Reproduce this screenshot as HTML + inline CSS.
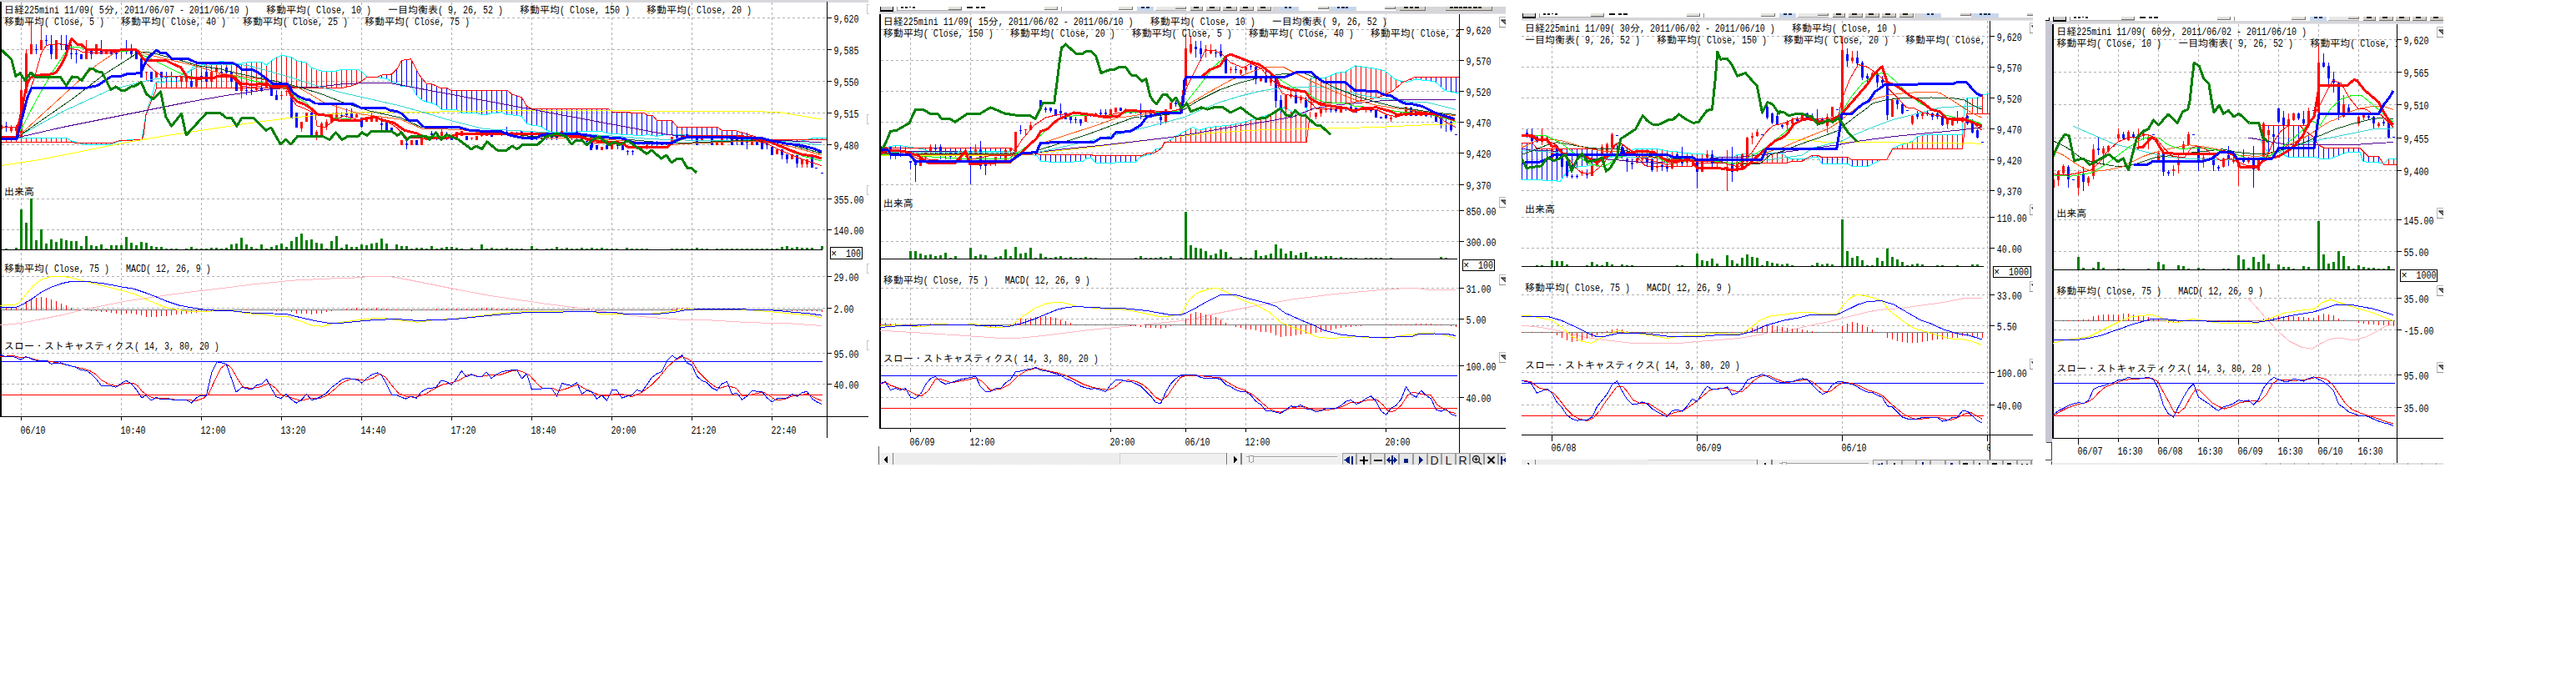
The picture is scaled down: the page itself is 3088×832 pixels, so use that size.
<!DOCTYPE html>
<html lang="ja"><head><meta charset="utf-8"><title>日経225mini charts</title>
<style>
html,body{margin:0;padding:0;background:#fff}
body{width:3088px;height:832px;overflow:hidden}
svg{display:block}
text{font-family:"Liberation Mono","IPAGothic",monospace;font-size:12px;white-space:pre}
.j{font-family:"Liberation Mono","IPAGothic",monospace;font-size:12px}
.l{font-family:"Liberation Mono","IPAGothic",monospace;font-size:13px}
</style></head><body>
<svg width="3088" height="832" viewBox="0 0 3088 832" shape-rendering="crispEdges">
<rect x="0" y="0" width="3088" height="832" fill="#fff"/>
<rect x="0" y="0" width="1041" height="3" fill="#d8d8dc" />
<line x1="25.5" y1="3" x2="25.5" y2="499" stroke="#b0b0b0" stroke-width="1" stroke-dasharray="3,3"/>
<line x1="145.5" y1="3" x2="145.5" y2="499" stroke="#b0b0b0" stroke-width="1" stroke-dasharray="3,3"/>
<line x1="241.5" y1="3" x2="241.5" y2="499" stroke="#b0b0b0" stroke-width="1" stroke-dasharray="3,3"/>
<line x1="337.5" y1="3" x2="337.5" y2="499" stroke="#b0b0b0" stroke-width="1" stroke-dasharray="3,3"/>
<line x1="433.5" y1="3" x2="433.5" y2="499" stroke="#b0b0b0" stroke-width="1" stroke-dasharray="3,3"/>
<line x1="541.5" y1="3" x2="541.5" y2="499" stroke="#b0b0b0" stroke-width="1" stroke-dasharray="3,3"/>
<line x1="637.5" y1="3" x2="637.5" y2="499" stroke="#b0b0b0" stroke-width="1" stroke-dasharray="3,3"/>
<line x1="733.5" y1="3" x2="733.5" y2="499" stroke="#b0b0b0" stroke-width="1" stroke-dasharray="3,3"/>
<line x1="829.5" y1="3" x2="829.5" y2="499" stroke="#b0b0b0" stroke-width="1" stroke-dasharray="3,3"/>
<line x1="925.5" y1="3" x2="925.5" y2="499" stroke="#b0b0b0" stroke-width="1" stroke-dasharray="3,3"/>
<line x1="2" y1="21.5" x2="991" y2="21.5" stroke="#b0b0b0" stroke-width="1" stroke-dasharray="3,3"/>
<line x1="2" y1="59.5" x2="991" y2="59.5" stroke="#b0b0b0" stroke-width="1" stroke-dasharray="3,3"/>
<line x1="2" y1="97.5" x2="991" y2="97.5" stroke="#b0b0b0" stroke-width="1" stroke-dasharray="3,3"/>
<line x1="2" y1="135.5" x2="991" y2="135.5" stroke="#b0b0b0" stroke-width="1" stroke-dasharray="3,3"/>
<line x1="2" y1="173.5" x2="991" y2="173.5" stroke="#b0b0b0" stroke-width="1" stroke-dasharray="3,3"/>
<line x1="2" y1="238.5" x2="991" y2="238.5" stroke="#b0b0b0" stroke-width="1" stroke-dasharray="3,3"/>
<line x1="2" y1="275.5" x2="991" y2="275.5" stroke="#b0b0b0" stroke-width="1" stroke-dasharray="3,3"/>
<line x1="2" y1="331.5" x2="991" y2="331.5" stroke="#b0b0b0" stroke-width="1" stroke-dasharray="3,3"/>
<line x1="2" y1="369.5" x2="991" y2="369.5" stroke="#b0b0b0" stroke-width="1" stroke-dasharray="3,3"/>
<line x1="2" y1="423.5" x2="991" y2="423.5" stroke="#b0b0b0" stroke-width="1" stroke-dasharray="3,3"/>
<line x1="2" y1="460.5" x2="991" y2="460.5" stroke="#b0b0b0" stroke-width="1" stroke-dasharray="3,3"/>
<line x1="1.5" y1="165.5" x2="1.5" y2="170.8" stroke="#ff0000" stroke-width="1" />
<line x1="7.5" y1="165.5" x2="7.5" y2="170.8" stroke="#ff0000" stroke-width="1" />
<line x1="13.5" y1="165.5" x2="13.5" y2="170.8" stroke="#ff0000" stroke-width="1" />
<line x1="19.5" y1="165.5" x2="19.5" y2="170.8" stroke="#ff0000" stroke-width="1" />
<line x1="25.5" y1="165.5" x2="25.5" y2="170.8" stroke="#ff0000" stroke-width="1" />
<line x1="31.5" y1="165.5" x2="31.5" y2="170.8" stroke="#ff0000" stroke-width="1" />
<line x1="37.5" y1="165.5" x2="37.5" y2="170.8" stroke="#ff0000" stroke-width="1" />
<line x1="43.5" y1="165.5" x2="43.5" y2="170.8" stroke="#ff0000" stroke-width="1" />
<line x1="49.5" y1="165.5" x2="49.5" y2="170.8" stroke="#ff0000" stroke-width="1" />
<line x1="55.5" y1="165.5" x2="55.5" y2="170.8" stroke="#ff0000" stroke-width="1" />
<line x1="61.5" y1="165.5" x2="61.5" y2="170.8" stroke="#ff0000" stroke-width="1" />
<line x1="67.5" y1="165.5" x2="67.5" y2="170.8" stroke="#ff0000" stroke-width="1" />
<line x1="73.5" y1="165.5" x2="73.5" y2="170.8" stroke="#ff0000" stroke-width="1" />
<line x1="79.5" y1="165.5" x2="79.5" y2="170.8" stroke="#ff0000" stroke-width="1" />
<line x1="85.5" y1="168.7" x2="85.5" y2="170.8" stroke="#ff0000" stroke-width="1" />
<line x1="103.5" y1="171.5" x2="103.5" y2="173.1" stroke="#0000ff" stroke-width="1" />
<line x1="109.5" y1="171.4" x2="109.5" y2="173.3" stroke="#0000ff" stroke-width="1" />
<line x1="115.5" y1="171.4" x2="115.5" y2="173.5" stroke="#0000ff" stroke-width="1" />
<line x1="121.5" y1="171.3" x2="121.5" y2="173.7" stroke="#0000ff" stroke-width="1" />
<line x1="127.5" y1="171.3" x2="127.5" y2="173.9" stroke="#0000ff" stroke-width="1" />
<line x1="133.5" y1="171.3" x2="133.5" y2="172.6" stroke="#0000ff" stroke-width="1" />
<line x1="181.5" y1="116" x2="181.5" y2="121.1" stroke="#ff0000" stroke-width="1" />
<line x1="187.5" y1="98.2" x2="187.5" y2="106" stroke="#ff0000" stroke-width="1" />
<line x1="193.5" y1="98.1" x2="193.5" y2="105.2" stroke="#ff0000" stroke-width="1" />
<line x1="199.5" y1="98" x2="199.5" y2="105.2" stroke="#ff0000" stroke-width="1" />
<line x1="205.5" y1="97.8" x2="205.5" y2="105.2" stroke="#ff0000" stroke-width="1" />
<line x1="211.5" y1="97.7" x2="211.5" y2="105.2" stroke="#ff0000" stroke-width="1" />
<line x1="217.5" y1="94.7" x2="217.5" y2="105.2" stroke="#ff0000" stroke-width="1" />
<line x1="223.5" y1="89.3" x2="223.5" y2="105.2" stroke="#ff0000" stroke-width="1" />
<line x1="229.5" y1="82.4" x2="229.5" y2="105.2" stroke="#ff0000" stroke-width="1" />
<line x1="235.5" y1="79.3" x2="235.5" y2="105.2" stroke="#ff0000" stroke-width="1" />
<line x1="241.5" y1="78.1" x2="241.5" y2="105.2" stroke="#ff0000" stroke-width="1" />
<line x1="247.5" y1="76.9" x2="247.5" y2="105.2" stroke="#ff0000" stroke-width="1" />
<line x1="253.5" y1="75.7" x2="253.5" y2="105.2" stroke="#ff0000" stroke-width="1" />
<line x1="259.5" y1="74.5" x2="259.5" y2="105.2" stroke="#ff0000" stroke-width="1" />
<line x1="265.5" y1="73.8" x2="265.5" y2="105.2" stroke="#ff0000" stroke-width="1" />
<line x1="271.5" y1="74.5" x2="271.5" y2="105.2" stroke="#ff0000" stroke-width="1" />
<line x1="277.5" y1="75.5" x2="277.5" y2="105.2" stroke="#ff0000" stroke-width="1" />
<line x1="283.5" y1="76.6" x2="283.5" y2="105.2" stroke="#ff0000" stroke-width="1" />
<line x1="289.5" y1="76.2" x2="289.5" y2="105.2" stroke="#ff0000" stroke-width="1" />
<line x1="295.5" y1="75.1" x2="295.5" y2="105.2" stroke="#ff0000" stroke-width="1" />
<line x1="301.5" y1="74.5" x2="301.5" y2="105.2" stroke="#ff0000" stroke-width="1" />
<line x1="307.5" y1="74.4" x2="307.5" y2="105.2" stroke="#ff0000" stroke-width="1" />
<line x1="313.5" y1="74.4" x2="313.5" y2="105.2" stroke="#ff0000" stroke-width="1" />
<line x1="319.5" y1="77.9" x2="319.5" y2="105.2" stroke="#ff0000" stroke-width="1" />
<line x1="325.5" y1="72.5" x2="325.5" y2="105.2" stroke="#ff0000" stroke-width="1" />
<line x1="331.5" y1="68.9" x2="331.5" y2="105.2" stroke="#ff0000" stroke-width="1" />
<line x1="337.5" y1="66.5" x2="337.5" y2="105.2" stroke="#ff0000" stroke-width="1" />
<line x1="343.5" y1="67.4" x2="343.5" y2="105.2" stroke="#ff0000" stroke-width="1" />
<line x1="349.5" y1="68.7" x2="349.5" y2="105.2" stroke="#ff0000" stroke-width="1" />
<line x1="355.5" y1="72.5" x2="355.5" y2="105.2" stroke="#ff0000" stroke-width="1" />
<line x1="361.5" y1="73.9" x2="361.5" y2="105.2" stroke="#ff0000" stroke-width="1" />
<line x1="367.5" y1="75.8" x2="367.5" y2="105.2" stroke="#ff0000" stroke-width="1" />
<line x1="373.5" y1="81.5" x2="373.5" y2="105.2" stroke="#ff0000" stroke-width="1" />
<line x1="379.5" y1="83.3" x2="379.5" y2="105.2" stroke="#ff0000" stroke-width="1" />
<line x1="385.5" y1="85.1" x2="385.5" y2="105.2" stroke="#ff0000" stroke-width="1" />
<line x1="391.5" y1="85.1" x2="391.5" y2="105.2" stroke="#ff0000" stroke-width="1" />
<line x1="397.5" y1="85.1" x2="397.5" y2="105.2" stroke="#ff0000" stroke-width="1" />
<line x1="403.5" y1="85" x2="403.5" y2="105.2" stroke="#ff0000" stroke-width="1" />
<line x1="409.5" y1="83.2" x2="409.5" y2="105.2" stroke="#ff0000" stroke-width="1" />
<line x1="415.5" y1="83.2" x2="415.5" y2="104.2" stroke="#ff0000" stroke-width="1" />
<line x1="421.5" y1="83.2" x2="421.5" y2="103" stroke="#ff0000" stroke-width="1" />
<line x1="427.5" y1="83.2" x2="427.5" y2="100.5" stroke="#ff0000" stroke-width="1" />
<line x1="433.5" y1="85.8" x2="433.5" y2="97.4" stroke="#ff0000" stroke-width="1" />
<line x1="457.5" y1="90.1" x2="457.5" y2="93.4" stroke="#0000ff" stroke-width="1" />
<line x1="463.5" y1="89.5" x2="463.5" y2="94.3" stroke="#0000ff" stroke-width="1" />
<line x1="469.5" y1="88.9" x2="469.5" y2="98.4" stroke="#0000ff" stroke-width="1" />
<line x1="475.5" y1="83.2" x2="475.5" y2="99.8" stroke="#0000ff" stroke-width="1" />
<line x1="481.5" y1="72.5" x2="481.5" y2="103.2" stroke="#0000ff" stroke-width="1" />
<line x1="487.5" y1="71.5" x2="487.5" y2="103.4" stroke="#0000ff" stroke-width="1" />
<line x1="493.5" y1="72.6" x2="493.5" y2="103.5" stroke="#0000ff" stroke-width="1" />
<line x1="499.5" y1="84" x2="499.5" y2="114.5" stroke="#0000ff" stroke-width="1" />
<line x1="505.5" y1="93.4" x2="505.5" y2="119.7" stroke="#0000ff" stroke-width="1" />
<line x1="511.5" y1="100.3" x2="511.5" y2="122.4" stroke="#0000ff" stroke-width="1" />
<line x1="517.5" y1="100.6" x2="517.5" y2="123.6" stroke="#0000ff" stroke-width="1" />
<line x1="523.5" y1="103.3" x2="523.5" y2="126.2" stroke="#0000ff" stroke-width="1" />
<line x1="529.5" y1="105.7" x2="529.5" y2="131.4" stroke="#0000ff" stroke-width="1" />
<line x1="535.5" y1="105.7" x2="535.5" y2="131.4" stroke="#0000ff" stroke-width="1" />
<line x1="541.5" y1="108.6" x2="541.5" y2="131.4" stroke="#0000ff" stroke-width="1" />
<line x1="547.5" y1="108.6" x2="547.5" y2="131.4" stroke="#0000ff" stroke-width="1" />
<line x1="553.5" y1="108.6" x2="553.5" y2="135.4" stroke="#0000ff" stroke-width="1" />
<line x1="559.5" y1="108.6" x2="559.5" y2="135.4" stroke="#0000ff" stroke-width="1" />
<line x1="565.5" y1="108.6" x2="565.5" y2="135.4" stroke="#0000ff" stroke-width="1" />
<line x1="571.5" y1="108.6" x2="571.5" y2="135.4" stroke="#0000ff" stroke-width="1" />
<line x1="577.5" y1="108.6" x2="577.5" y2="137.5" stroke="#0000ff" stroke-width="1" />
<line x1="583.5" y1="108.6" x2="583.5" y2="137.6" stroke="#0000ff" stroke-width="1" />
<line x1="589.5" y1="108.6" x2="589.5" y2="135.7" stroke="#0000ff" stroke-width="1" />
<line x1="595.5" y1="108.6" x2="595.5" y2="135.1" stroke="#0000ff" stroke-width="1" />
<line x1="601.5" y1="108.6" x2="601.5" y2="134.7" stroke="#0000ff" stroke-width="1" />
<line x1="607.5" y1="108.6" x2="607.5" y2="137.4" stroke="#0000ff" stroke-width="1" />
<line x1="613.5" y1="112.7" x2="613.5" y2="137.8" stroke="#0000ff" stroke-width="1" />
<line x1="619.5" y1="114.9" x2="619.5" y2="138.3" stroke="#0000ff" stroke-width="1" />
<line x1="625.5" y1="116.9" x2="625.5" y2="139.7" stroke="#0000ff" stroke-width="1" />
<line x1="631.5" y1="127.3" x2="631.5" y2="148.1" stroke="#0000ff" stroke-width="1" />
<line x1="637.5" y1="130.4" x2="637.5" y2="150.2" stroke="#0000ff" stroke-width="1" />
<line x1="643.5" y1="130.4" x2="643.5" y2="150.6" stroke="#0000ff" stroke-width="1" />
<line x1="649.5" y1="130.4" x2="649.5" y2="152.2" stroke="#0000ff" stroke-width="1" />
<line x1="655.5" y1="130.4" x2="655.5" y2="156.4" stroke="#0000ff" stroke-width="1" />
<line x1="661.5" y1="130.4" x2="661.5" y2="158.2" stroke="#0000ff" stroke-width="1" />
<line x1="667.5" y1="130.4" x2="667.5" y2="158.5" stroke="#0000ff" stroke-width="1" />
<line x1="673.5" y1="130.4" x2="673.5" y2="158.6" stroke="#0000ff" stroke-width="1" />
<line x1="679.5" y1="130.4" x2="679.5" y2="158.8" stroke="#0000ff" stroke-width="1" />
<line x1="685.5" y1="130.4" x2="685.5" y2="158.9" stroke="#0000ff" stroke-width="1" />
<line x1="691.5" y1="130.4" x2="691.5" y2="157.8" stroke="#0000ff" stroke-width="1" />
<line x1="697.5" y1="130.4" x2="697.5" y2="157.7" stroke="#0000ff" stroke-width="1" />
<line x1="703.5" y1="130.4" x2="703.5" y2="157.7" stroke="#0000ff" stroke-width="1" />
<line x1="709.5" y1="130.4" x2="709.5" y2="157.7" stroke="#0000ff" stroke-width="1" />
<line x1="715.5" y1="130.4" x2="715.5" y2="157.7" stroke="#0000ff" stroke-width="1" />
<line x1="721.5" y1="130.4" x2="721.5" y2="157.7" stroke="#0000ff" stroke-width="1" />
<line x1="727.5" y1="130.4" x2="727.5" y2="159.5" stroke="#0000ff" stroke-width="1" />
<line x1="733.5" y1="133.4" x2="733.5" y2="160.5" stroke="#0000ff" stroke-width="1" />
<line x1="739.5" y1="134.9" x2="739.5" y2="160.8" stroke="#0000ff" stroke-width="1" />
<line x1="745.5" y1="134.9" x2="745.5" y2="161.2" stroke="#0000ff" stroke-width="1" />
<line x1="751.5" y1="135" x2="751.5" y2="161.6" stroke="#0000ff" stroke-width="1" />
<line x1="757.5" y1="135" x2="757.5" y2="162" stroke="#0000ff" stroke-width="1" />
<line x1="763.5" y1="135.1" x2="763.5" y2="162.3" stroke="#0000ff" stroke-width="1" />
<line x1="769.5" y1="135.1" x2="769.5" y2="162.7" stroke="#0000ff" stroke-width="1" />
<line x1="775.5" y1="137.8" x2="775.5" y2="161.5" stroke="#0000ff" stroke-width="1" />
<line x1="781.5" y1="138.2" x2="781.5" y2="162.4" stroke="#0000ff" stroke-width="1" />
<line x1="787.5" y1="144.3" x2="787.5" y2="163.2" stroke="#0000ff" stroke-width="1" />
<line x1="793.5" y1="144.5" x2="793.5" y2="162.1" stroke="#0000ff" stroke-width="1" />
<line x1="799.5" y1="144.5" x2="799.5" y2="161.6" stroke="#0000ff" stroke-width="1" />
<line x1="805.5" y1="145" x2="805.5" y2="161.5" stroke="#0000ff" stroke-width="1" />
<line x1="811.5" y1="151.4" x2="811.5" y2="161.6" stroke="#0000ff" stroke-width="1" />
<line x1="817.5" y1="152.5" x2="817.5" y2="161.7" stroke="#0000ff" stroke-width="1" />
<line x1="823.5" y1="152.5" x2="823.5" y2="161.7" stroke="#0000ff" stroke-width="1" />
<line x1="829.5" y1="152.5" x2="829.5" y2="162.2" stroke="#0000ff" stroke-width="1" />
<line x1="835.5" y1="152.5" x2="835.5" y2="162.7" stroke="#0000ff" stroke-width="1" />
<line x1="841.5" y1="152.5" x2="841.5" y2="163.2" stroke="#0000ff" stroke-width="1" />
<line x1="847.5" y1="152.5" x2="847.5" y2="163.8" stroke="#0000ff" stroke-width="1" />
<line x1="853.5" y1="152.5" x2="853.5" y2="164.3" stroke="#0000ff" stroke-width="1" />
<line x1="859.5" y1="152.5" x2="859.5" y2="164.9" stroke="#0000ff" stroke-width="1" />
<line x1="865.5" y1="156.3" x2="865.5" y2="165.4" stroke="#0000ff" stroke-width="1" />
<line x1="871.5" y1="156.4" x2="871.5" y2="165.9" stroke="#0000ff" stroke-width="1" />
<line x1="877.5" y1="156.6" x2="877.5" y2="166.4" stroke="#0000ff" stroke-width="1" />
<line x1="883.5" y1="157.1" x2="883.5" y2="166.7" stroke="#0000ff" stroke-width="1" />
<line x1="889.5" y1="158.9" x2="889.5" y2="167" stroke="#0000ff" stroke-width="1" />
<line x1="895.5" y1="160.8" x2="895.5" y2="167.3" stroke="#0000ff" stroke-width="1" />
<line x1="901.5" y1="162.6" x2="901.5" y2="167.6" stroke="#0000ff" stroke-width="1" />
<line x1="907.5" y1="164.5" x2="907.5" y2="167.9" stroke="#0000ff" stroke-width="1" />
<line x1="913.5" y1="165.5" x2="913.5" y2="168.2" stroke="#0000ff" stroke-width="1" />
<line x1="919.5" y1="166.6" x2="919.5" y2="168.5" stroke="#0000ff" stroke-width="1" />
<line x1="925.5" y1="167.5" x2="925.5" y2="168.8" stroke="#0000ff" stroke-width="1" />
<line x1="931.5" y1="167.5" x2="931.5" y2="169" stroke="#0000ff" stroke-width="1" />
<line x1="937.5" y1="167.6" x2="937.5" y2="169.2" stroke="#0000ff" stroke-width="1" />
<line x1="943.5" y1="167.6" x2="943.5" y2="169.5" stroke="#0000ff" stroke-width="1" />
<line x1="949.5" y1="167.7" x2="949.5" y2="169.7" stroke="#0000ff" stroke-width="1" />
<line x1="955.5" y1="167.7" x2="955.5" y2="169.9" stroke="#0000ff" stroke-width="1" />
<line x1="973.5" y1="165.9" x2="973.5" y2="167.9" stroke="#ff0000" stroke-width="1" />
<line x1="979.5" y1="165.4" x2="979.5" y2="167.9" stroke="#ff0000" stroke-width="1" />
<line x1="985.5" y1="165.2" x2="985.5" y2="168" stroke="#ff0000" stroke-width="1" />
<polyline points="0,165.5 80,165.5 86,169 100,173 130,174 140,170 155,167.5 170,167 175,137 186.9,98.3 213.9,97.6 220.2,92.6 225.2,87.6 231.4,80.1 262.8,73.8 267.8,73.8 285.3,76.9 295.4,75.1 301.6,74.4 314.2,74.4 319.2,78.2 325.5,72.6 331.7,68.8 338,66.3 349.3,68.6 355.5,72.6 366.8,75.1 373.1,81.3 379.4,83.2 385.6,85.1 403.2,85.1 409.4,83.2 428.2,83.2 434.5,86.3 439.5,92 452.1,92.6 464.6,94.5 470,98.8 478.8,100.5 480,103.2 493.8,103.5 499.4,114.4 505.1,119.5 511.3,122.3 517.6,123.6 523.9,126.3 529.5,131.4 547.7,131.4 553.3,135.4 571.5,135.4 577.8,137.6 583.4,137.6 589,135.8 601,134.5 607.2,137.4 619.1,138.3 625.4,139.5 631.7,148.3 637.3,150.2 642.9,150.4 649.2,152 655.5,156.4 661.7,158.3 686.8,158.9 691.8,157.7 721.9,157.7 727.6,159.6 733.2,160.4 769.5,162.7 775.8,161.4 787.1,163.3 793.4,162.1 802,161.4 825,161.8 875,166.2 925,168.8 957.5,170 975,165.5 991.2,165" fill="none" stroke="#00ffff" stroke-width="1" />
<polyline points="0,170.8 85,170.8 100,171.5 135,171.2 143,168.8 170,167.5 172.5,160 175,137.5 178,130 187.8,105.2 410.7,105.2 423.2,102.6 433.3,97.6 439.5,92.6 452.1,92.6 457.1,90.1 469.6,88.9 476.2,82.5 481.2,72.5 492.5,70.8 497.5,80 502.6,90 511.3,100.3 517.6,100.7 528.9,105.7 535.8,105.7 541.4,108.6 608.5,108.6 614.1,113.2 625.4,116.7 631.7,127.6 637.3,130.4 728.8,130.4 735.7,134.9 772.1,135.1 775.8,138 782.1,138.3 787.7,144.5 802,144.5 805,144.5 812.5,152.5 860,152.5 865,156.2 882.5,156.8 907.5,164.5 925,167.5 991.2,168" fill="none" stroke="#ff0000" stroke-width="1" />
<line x1="1.5" y1="146" x2="1.5" y2="160" stroke="#ff0000" stroke-width="1" />
<rect x="0" y="150" width="3" height="5" fill="#ff0000" />
<line x1="7.5" y1="146" x2="7.5" y2="158" stroke="#0000ff" stroke-width="1" />
<rect x="6" y="151" width="3" height="1.5" fill="#0000ff" />
<line x1="13.5" y1="150" x2="13.5" y2="159" stroke="#ff0000" stroke-width="1" />
<rect x="12" y="152" width="3" height="5" fill="#ff0000" />
<line x1="19.5" y1="150" x2="19.5" y2="159" stroke="#ff0000" stroke-width="1" />
<rect x="18" y="152" width="3" height="5" fill="#ff0000" />
<line x1="25.5" y1="86" x2="25.5" y2="165" stroke="#ff0000" stroke-width="1" />
<rect x="24" y="107.5" width="3" height="57.5" fill="#ff0000" />
<line x1="31.5" y1="59" x2="31.5" y2="112" stroke="#ff0000" stroke-width="1" />
<rect x="30" y="64" width="3" height="48" fill="#ff0000" />
<line x1="37.5" y1="25" x2="37.5" y2="64.5" stroke="#ff0000" stroke-width="1" />
<rect x="36" y="53.2" width="3" height="11.3" fill="#ff0000" />
<line x1="43.5" y1="53.2" x2="43.5" y2="64.5" stroke="#0000ff" stroke-width="1" />
<rect x="42" y="58.8" width="3" height="1.3" fill="#0000ff" />
<line x1="49.5" y1="31" x2="49.5" y2="59.7" stroke="#ff0000" stroke-width="1" />
<rect x="48" y="48.2" width="3" height="11.5" fill="#ff0000" />
<line x1="55.5" y1="42.2" x2="55.5" y2="54.4" stroke="#0000ff" stroke-width="1" />
<rect x="54" y="47.9" width="3" height="1.5" fill="#0000ff" />
<line x1="61.5" y1="42.2" x2="61.5" y2="70.7" stroke="#0000ff" stroke-width="1" />
<rect x="60" y="53.2" width="3" height="11.3" fill="#0000ff" />
<line x1="67.5" y1="48.2" x2="67.5" y2="70.7" stroke="#ff0000" stroke-width="1" />
<rect x="66" y="48.2" width="3" height="22.6" fill="#ff0000" />
<line x1="73.5" y1="42.2" x2="73.5" y2="59.5" stroke="#0000ff" stroke-width="1" />
<rect x="72" y="52.6" width="3" height="1.3" fill="#0000ff" />
<line x1="79.5" y1="42.2" x2="79.5" y2="64.5" stroke="#0000ff" stroke-width="1" />
<rect x="78" y="53.2" width="3" height="6.9" fill="#0000ff" />
<line x1="85.5" y1="53.2" x2="85.5" y2="70.7" stroke="#0000ff" stroke-width="1" />
<rect x="84" y="63.8" width="3" height="1.3" fill="#0000ff" />
<line x1="91.5" y1="59.5" x2="91.5" y2="75.8" stroke="#0000ff" stroke-width="1" />
<rect x="90" y="63.8" width="3" height="1.3" fill="#0000ff" />
<line x1="97.5" y1="64.5" x2="97.5" y2="70.7" stroke="#0000ff" stroke-width="1" />
<rect x="96" y="64.5" width="3" height="6.3" fill="#0000ff" />
<line x1="103.5" y1="48.2" x2="103.5" y2="70.7" stroke="#ff0000" stroke-width="1" />
<rect x="102" y="59.5" width="3" height="11.3" fill="#ff0000" />
<line x1="109.5" y1="59.5" x2="109.5" y2="70.7" stroke="#0000ff" stroke-width="1" />
<rect x="108" y="59.5" width="3" height="5.6" fill="#0000ff" />
<line x1="115.5" y1="53.2" x2="115.5" y2="64.5" stroke="#ff0000" stroke-width="1" />
<rect x="114" y="53.2" width="3" height="11.3" fill="#ff0000" />
<line x1="121.5" y1="48.2" x2="121.5" y2="64.5" stroke="#0000ff" stroke-width="1" />
<rect x="120" y="59.5" width="3" height="5" fill="#0000ff" />
<line x1="127.5" y1="59.5" x2="127.5" y2="64.5" stroke="#ff0000" stroke-width="1" />
<rect x="126" y="59.5" width="3" height="5" fill="#ff0000" />
<line x1="133.5" y1="59.5" x2="133.5" y2="64.5" stroke="#0000ff" stroke-width="1" />
<rect x="132" y="59.5" width="3" height="5" fill="#0000ff" />
<line x1="139.5" y1="59.5" x2="139.5" y2="70.7" stroke="#0000ff" stroke-width="1" />
<rect x="138" y="63.2" width="3" height="1.3" fill="#0000ff" />
<line x1="145.5" y1="59.5" x2="145.5" y2="70.7" stroke="#ff0000" stroke-width="1" />
<rect x="144" y="60.1" width="3" height="1.3" fill="#ff0000" />
<line x1="151.5" y1="48.2" x2="151.5" y2="64.5" stroke="#0000ff" stroke-width="1" />
<rect x="150" y="59.5" width="3" height="1.3" fill="#0000ff" />
<line x1="157.5" y1="53.2" x2="157.5" y2="68.9" stroke="#0000ff" stroke-width="1" />
<rect x="156" y="59.5" width="3" height="5" fill="#0000ff" />
<line x1="163.5" y1="59.5" x2="163.5" y2="70.7" stroke="#0000ff" stroke-width="1" />
<rect x="162" y="59.5" width="3" height="11.3" fill="#0000ff" />
<line x1="169.5" y1="64.5" x2="169.5" y2="92.7" stroke="#0000ff" stroke-width="1" />
<rect x="168" y="70.1" width="3" height="22.6" fill="#0000ff" />
<line x1="175.5" y1="86.4" x2="175.5" y2="97.1" stroke="#ff0000" stroke-width="1" />
<rect x="174" y="86.4" width="3" height="1" fill="#ff0000" />
<line x1="181.5" y1="86.4" x2="181.5" y2="97.7" stroke="#0000ff" stroke-width="1" />
<rect x="180" y="86.4" width="3" height="11.3" fill="#0000ff" />
<line x1="187.5" y1="86.4" x2="187.5" y2="92.7" stroke="#ff0000" stroke-width="1" />
<rect x="186" y="86.4" width="3" height="6.3" fill="#ff0000" />
<line x1="193.5" y1="86.4" x2="193.5" y2="97.7" stroke="#0000ff" stroke-width="1" />
<rect x="192" y="86.4" width="3" height="6.3" fill="#0000ff" />
<line x1="199.5" y1="86.4" x2="199.5" y2="97.7" stroke="#0000ff" stroke-width="1" />
<rect x="198" y="91.4" width="3" height="1.3" fill="#0000ff" />
<line x1="205.5" y1="86.4" x2="205.5" y2="97.7" stroke="#0000ff" stroke-width="1" />
<rect x="204" y="91.4" width="3" height="1.3" fill="#0000ff" />
<line x1="211.5" y1="92" x2="211.5" y2="97.7" stroke="#0000ff" stroke-width="1" />
<rect x="210" y="92" width="3" height="1" fill="#0000ff" />
<line x1="217.5" y1="92" x2="217.5" y2="97.7" stroke="#ff0000" stroke-width="1" />
<rect x="216" y="92" width="3" height="5.6" fill="#ff0000" />
<line x1="223.5" y1="92" x2="223.5" y2="97.7" stroke="#ff0000" stroke-width="1" />
<rect x="222" y="92" width="3" height="5.6" fill="#ff0000" />
<line x1="229.5" y1="86.4" x2="229.5" y2="104" stroke="#0000ff" stroke-width="1" />
<rect x="228" y="97.1" width="3" height="6.9" fill="#0000ff" />
<line x1="235.5" y1="75.8" x2="235.5" y2="104" stroke="#ff0000" stroke-width="1" />
<rect x="234" y="92" width="3" height="11.9" fill="#ff0000" />
<line x1="241.5" y1="86.4" x2="241.5" y2="97.7" stroke="#0000ff" stroke-width="1" />
<rect x="240" y="91.4" width="3" height="1.3" fill="#0000ff" />
<line x1="247.5" y1="80.1" x2="247.5" y2="97.7" stroke="#0000ff" stroke-width="1" />
<rect x="246" y="86.4" width="3" height="11.3" fill="#0000ff" />
<line x1="253.5" y1="82" x2="253.5" y2="97.7" stroke="#ff0000" stroke-width="1" />
<rect x="252" y="86.4" width="3" height="11.3" fill="#ff0000" />
<line x1="259.5" y1="81.4" x2="259.5" y2="87" stroke="#ff0000" stroke-width="1" />
<rect x="258" y="81.4" width="3" height="5.6" fill="#ff0000" />
<line x1="265.5" y1="81.4" x2="265.5" y2="90.2" stroke="#0000ff" stroke-width="1" />
<rect x="264" y="86.4" width="3" height="1.3" fill="#0000ff" />
<line x1="271.5" y1="79.5" x2="271.5" y2="92.7" stroke="#0000ff" stroke-width="1" />
<rect x="270" y="81.4" width="3" height="5.6" fill="#0000ff" />
<line x1="277.5" y1="86.4" x2="277.5" y2="97.7" stroke="#0000ff" stroke-width="1" />
<rect x="276" y="86.4" width="3" height="11.3" fill="#0000ff" />
<line x1="283.5" y1="97.1" x2="283.5" y2="109" stroke="#0000ff" stroke-width="1" />
<rect x="282" y="97.1" width="3" height="11.9" fill="#0000ff" />
<line x1="289.5" y1="100.2" x2="289.5" y2="117.7" stroke="#ff0000" stroke-width="1" />
<rect x="288" y="103.3" width="3" height="5.6" fill="#ff0000" />
<line x1="295.5" y1="102.7" x2="295.5" y2="114" stroke="#0000ff" stroke-width="1" />
<rect x="294" y="107.7" width="3" height="1.3" fill="#0000ff" />
<line x1="301.5" y1="104" x2="301.5" y2="114" stroke="#0000ff" stroke-width="1" />
<rect x="300" y="107.7" width="3" height="1.3" fill="#0000ff" />
<line x1="307.5" y1="104" x2="307.5" y2="110.2" stroke="#ff0000" stroke-width="1" />
<rect x="306" y="105.2" width="3" height="3.1" fill="#ff0000" />
<line x1="313.5" y1="102.7" x2="313.5" y2="110.2" stroke="#0000ff" stroke-width="1" />
<rect x="312" y="105.2" width="3" height="3.1" fill="#0000ff" />
<line x1="319.6" y1="95.8" x2="319.6" y2="104.5" stroke="#ff0000" stroke-width="1" />
<rect x="318.1" y="95.8" width="3" height="8.8" fill="#ff0000" />
<line x1="325.6" y1="99.5" x2="325.6" y2="114.6" stroke="#0000ff" stroke-width="1" />
<rect x="324.1" y="99.5" width="3" height="15" fill="#0000ff" />
<line x1="331.6" y1="107.7" x2="331.6" y2="119.6" stroke="#0000ff" stroke-width="1" />
<rect x="330.1" y="113.9" width="3" height="5.6" fill="#0000ff" />
<line x1="337.6" y1="108.9" x2="337.6" y2="119.6" stroke="#ff0000" stroke-width="1" />
<rect x="336.1" y="113.9" width="3" height="1.3" fill="#ff0000" />
<line x1="343.6" y1="107.7" x2="343.6" y2="115.2" stroke="#ff0000" stroke-width="1" />
<rect x="342.1" y="108.9" width="3" height="1.3" fill="#ff0000" />
<line x1="349.5" y1="107" x2="349.5" y2="142" stroke="#0000ff" stroke-width="1" />
<rect x="348" y="107" width="3" height="35" fill="#0000ff" />
<line x1="355.5" y1="135" x2="355.5" y2="152.5" stroke="#0000ff" stroke-width="1" />
<rect x="354" y="135" width="3" height="17.5" fill="#0000ff" />
<line x1="361.5" y1="146.2" x2="361.5" y2="157.5" stroke="#ff0000" stroke-width="1" />
<rect x="360" y="146.2" width="3" height="7.5" fill="#ff0000" />
<line x1="367.5" y1="135" x2="367.5" y2="146.2" stroke="#ff0000" stroke-width="1" />
<rect x="366" y="135" width="3" height="11.2" fill="#ff0000" />
<line x1="373.5" y1="135" x2="373.5" y2="162.5" stroke="#0000ff" stroke-width="1" />
<rect x="372" y="135" width="3" height="27.5" fill="#0000ff" />
<line x1="379.5" y1="156.2" x2="379.5" y2="167.5" stroke="#ff0000" stroke-width="1" />
<rect x="378" y="157.5" width="3" height="5" fill="#ff0000" />
<line x1="385.5" y1="146.2" x2="385.5" y2="165" stroke="#ff0000" stroke-width="1" />
<rect x="384" y="147.5" width="3" height="15" fill="#ff0000" />
<line x1="391.5" y1="142.5" x2="391.5" y2="156.2" stroke="#ff0000" stroke-width="1" />
<rect x="390" y="146.2" width="3" height="6.2" fill="#ff0000" />
<line x1="397.5" y1="136.2" x2="397.5" y2="147.5" stroke="#ff0000" stroke-width="1" />
<rect x="396" y="136.2" width="3" height="11.2" fill="#ff0000" />
<line x1="403.5" y1="123.8" x2="403.5" y2="142.5" stroke="#ff0000" stroke-width="1" />
<rect x="402" y="135" width="3" height="6.2" fill="#ff0000" />
<line x1="409.5" y1="135" x2="409.5" y2="141.2" stroke="#0000ff" stroke-width="1" />
<rect x="408" y="137.5" width="3" height="1.2" fill="#0000ff" />
<line x1="415.5" y1="130" x2="415.5" y2="141.2" stroke="#0000ff" stroke-width="1" />
<rect x="414" y="136.2" width="3" height="1.8" fill="#0000ff" />
<line x1="421.5" y1="130" x2="421.5" y2="141.2" stroke="#0000ff" stroke-width="1" />
<rect x="420" y="135" width="3" height="6.2" fill="#0000ff" />
<line x1="427.5" y1="136.2" x2="427.5" y2="141.2" stroke="#ff0000" stroke-width="1" />
<rect x="426" y="137" width="3" height="4.2" fill="#ff0000" />
<line x1="433.5" y1="141.2" x2="433.5" y2="152.5" stroke="#0000ff" stroke-width="1" />
<rect x="432" y="141.2" width="3" height="11.2" fill="#0000ff" />
<line x1="439.5" y1="141.2" x2="439.5" y2="146.2" stroke="#ff0000" stroke-width="1" />
<rect x="438" y="141.2" width="3" height="5" fill="#ff0000" />
<line x1="445.5" y1="133.8" x2="445.5" y2="146.2" stroke="#ff0000" stroke-width="1" />
<rect x="444" y="140" width="3" height="6.2" fill="#ff0000" />
<line x1="451.5" y1="141.2" x2="451.5" y2="146.2" stroke="#ff0000" stroke-width="1" />
<rect x="450" y="141.2" width="3" height="5" fill="#ff0000" />
<line x1="457.5" y1="141.2" x2="457.5" y2="157.5" stroke="#0000ff" stroke-width="1" />
<rect x="456" y="147.5" width="3" height="2.5" fill="#0000ff" />
<line x1="463.5" y1="146.2" x2="463.5" y2="157.5" stroke="#0000ff" stroke-width="1" />
<rect x="462" y="146.2" width="3" height="11.2" fill="#0000ff" />
<line x1="469.5" y1="152.5" x2="469.5" y2="157.5" stroke="#0000ff" stroke-width="1" />
<rect x="468" y="152.5" width="3" height="5" fill="#0000ff" />
<line x1="481.5" y1="168.8" x2="481.5" y2="173.8" stroke="#ff0000" stroke-width="1" />
<rect x="480" y="168.8" width="3" height="5" fill="#ff0000" />
<line x1="487.5" y1="167.5" x2="487.5" y2="178.8" stroke="#0000ff" stroke-width="1" />
<rect x="486" y="172.5" width="3" height="1.2" fill="#0000ff" />
<line x1="493.5" y1="167.5" x2="493.5" y2="173.8" stroke="#ff0000" stroke-width="1" />
<rect x="492" y="167.5" width="3" height="6.2" fill="#ff0000" />
<line x1="499.5" y1="168.8" x2="499.5" y2="173.8" stroke="#0000ff" stroke-width="1" />
<rect x="498" y="168.8" width="3" height="5" fill="#0000ff" />
<line x1="505.5" y1="163.8" x2="505.5" y2="173.8" stroke="#ff0000" stroke-width="1" />
<rect x="504" y="163.8" width="3" height="10" fill="#ff0000" />
<line x1="481.5" y1="167.7" x2="481.5" y2="174" stroke="#ff0000" stroke-width="1" />
<rect x="480" y="167.7" width="3" height="6.3" fill="#ff0000" />
<line x1="487.5" y1="167.7" x2="487.5" y2="177.7" stroke="#0000ff" stroke-width="1" />
<rect x="486" y="171.5" width="3" height="1.3" fill="#0000ff" />
<line x1="493.5" y1="168.3" x2="493.5" y2="174" stroke="#ff0000" stroke-width="1" />
<rect x="492" y="168.3" width="3" height="5.6" fill="#ff0000" />
<line x1="499.6" y1="167.7" x2="499.6" y2="174" stroke="#0000ff" stroke-width="1" />
<rect x="498.1" y="167.7" width="3" height="6.3" fill="#0000ff" />
<line x1="505.6" y1="162.1" x2="505.6" y2="174" stroke="#ff0000" stroke-width="1" />
<rect x="504.1" y="162.1" width="3" height="11.9" fill="#ff0000" />
<line x1="511.5" y1="164" x2="511.5" y2="167.7" stroke="#ff0000" stroke-width="1" />
<rect x="510" y="164" width="3" height="3.8" fill="#ff0000" />
<line x1="517.5" y1="157.1" x2="517.5" y2="165.2" stroke="#0000ff" stroke-width="1" />
<rect x="516" y="160.2" width="3" height="1.3" fill="#0000ff" />
<line x1="523.5" y1="163.3" x2="523.5" y2="168.3" stroke="#0000ff" stroke-width="1" />
<rect x="522" y="165.2" width="3" height="1.3" fill="#0000ff" />
<line x1="529.5" y1="152" x2="529.5" y2="164" stroke="#ff0000" stroke-width="1" />
<rect x="528" y="157.7" width="3" height="5" fill="#ff0000" />
<line x1="535.5" y1="157.7" x2="535.5" y2="168.3" stroke="#0000ff" stroke-width="1" />
<rect x="534" y="162.1" width="3" height="1.3" fill="#0000ff" />
<line x1="541.5" y1="162.7" x2="541.5" y2="168.3" stroke="#0000ff" stroke-width="1" />
<rect x="540" y="162.7" width="3" height="5.6" fill="#0000ff" />
<line x1="547.6" y1="158.3" x2="547.6" y2="168.3" stroke="#ff0000" stroke-width="1" />
<rect x="546.1" y="158.3" width="3" height="10" fill="#ff0000" />
<line x1="553.6" y1="157.1" x2="553.6" y2="163.3" stroke="#ff0000" stroke-width="1" />
<rect x="552.1" y="157.1" width="3" height="6.3" fill="#ff0000" />
<line x1="559.6" y1="163.3" x2="559.6" y2="168.3" stroke="#0000ff" stroke-width="1" />
<rect x="558.1" y="163.3" width="3" height="5" fill="#0000ff" />
<line x1="565.6" y1="164.6" x2="565.6" y2="168.3" stroke="#ff0000" stroke-width="1" />
<rect x="564.1" y="164.6" width="3" height="1" fill="#ff0000" />
<line x1="571.5" y1="163.3" x2="571.5" y2="168.3" stroke="#ff0000" stroke-width="1" />
<rect x="570" y="163.3" width="3" height="5" fill="#ff0000" />
<line x1="577.5" y1="160.2" x2="577.5" y2="164" stroke="#ff0000" stroke-width="1" />
<rect x="576" y="160.8" width="3" height="1.9" fill="#ff0000" />
<line x1="583.5" y1="157.7" x2="583.5" y2="163.3" stroke="#ff0000" stroke-width="1" />
<rect x="582" y="157.7" width="3" height="5.6" fill="#ff0000" />
<line x1="589.6" y1="158.3" x2="589.6" y2="164" stroke="#0000ff" stroke-width="1" />
<rect x="588.1" y="158.3" width="3" height="5.6" fill="#0000ff" />
<line x1="595.6" y1="157.1" x2="595.6" y2="160.2" stroke="#ff0000" stroke-width="1" />
<rect x="594.1" y="157.7" width="3" height="1.3" fill="#ff0000" />
<line x1="601.6" y1="157.7" x2="601.6" y2="163.3" stroke="#0000ff" stroke-width="1" />
<rect x="600.1" y="159.6" width="3" height="1.3" fill="#0000ff" />
<line x1="607.6" y1="152" x2="607.6" y2="160.2" stroke="#0000ff" stroke-width="1" />
<rect x="606.1" y="157.7" width="3" height="1.3" fill="#0000ff" />
<line x1="613.6" y1="158.3" x2="613.6" y2="160.2" stroke="#ff0000" stroke-width="1" />
<rect x="612.1" y="158.3" width="3" height="1.9" fill="#ff0000" />
<line x1="619.6" y1="157.7" x2="619.6" y2="164" stroke="#0000ff" stroke-width="1" />
<rect x="618.1" y="160.2" width="3" height="1.3" fill="#0000ff" />
<line x1="625.7" y1="157.1" x2="625.7" y2="165.2" stroke="#0000ff" stroke-width="1" />
<rect x="624.2" y="157.1" width="3" height="8.1" fill="#0000ff" />
<line x1="631.7" y1="160.2" x2="631.7" y2="163.3" stroke="#ff0000" stroke-width="1" />
<rect x="630.2" y="160.8" width="3" height="1.9" fill="#ff0000" />
<line x1="637.7" y1="157.7" x2="637.7" y2="168.3" stroke="#0000ff" stroke-width="1" />
<rect x="636.2" y="157.7" width="3" height="10.7" fill="#0000ff" />
<line x1="643.6" y1="162.7" x2="643.6" y2="167.7" stroke="#0000ff" stroke-width="1" />
<rect x="642.1" y="164" width="3" height="1.3" fill="#0000ff" />
<line x1="649.6" y1="164" x2="649.6" y2="168.3" stroke="#0000ff" stroke-width="1" />
<rect x="648.1" y="165.2" width="3" height="1.3" fill="#0000ff" />
<line x1="655.6" y1="163.3" x2="655.6" y2="167.7" stroke="#0000ff" stroke-width="1" />
<rect x="654.1" y="164.6" width="3" height="1.3" fill="#0000ff" />
<line x1="661.6" y1="159.6" x2="661.6" y2="168.3" stroke="#0000ff" stroke-width="1" />
<rect x="660.1" y="163.3" width="3" height="1.3" fill="#0000ff" />
<line x1="667.6" y1="160.2" x2="667.6" y2="168.3" stroke="#0000ff" stroke-width="1" />
<rect x="666.1" y="164" width="3" height="1.3" fill="#0000ff" />
<line x1="673.7" y1="157.1" x2="673.7" y2="162.7" stroke="#ff0000" stroke-width="1" />
<rect x="672.2" y="157.1" width="3" height="5.6" fill="#ff0000" />
<line x1="679.7" y1="162.7" x2="679.7" y2="168.3" stroke="#0000ff" stroke-width="1" />
<rect x="678.2" y="164.6" width="3" height="1.3" fill="#0000ff" />
<line x1="685.7" y1="163.3" x2="685.7" y2="167.7" stroke="#0000ff" stroke-width="1" />
<rect x="684.2" y="164.6" width="3" height="1.3" fill="#0000ff" />
<line x1="691.7" y1="157.1" x2="691.7" y2="168.3" stroke="#0000ff" stroke-width="1" />
<rect x="690.2" y="158.3" width="3" height="4.4" fill="#0000ff" />
<line x1="697.7" y1="162.7" x2="697.7" y2="168.3" stroke="#0000ff" stroke-width="1" />
<rect x="696.2" y="162.7" width="3" height="5.6" fill="#0000ff" />
<line x1="703.7" y1="167.7" x2="703.7" y2="174" stroke="#0000ff" stroke-width="1" />
<rect x="702.2" y="169" width="3" height="1.3" fill="#0000ff" />
<line x1="709.8" y1="168.3" x2="709.8" y2="177" stroke="#0000ff" stroke-width="1" />
<rect x="708.3" y="168.3" width="3" height="8.6" fill="#0000ff" />
<line x1="715.6" y1="174" x2="715.6" y2="177.7" stroke="#0000ff" stroke-width="1" />
<rect x="714.1" y="174" width="3" height="3.8" fill="#0000ff" />
<line x1="708.8" y1="173.8" x2="708.8" y2="179.5" stroke="#0000ff" stroke-width="1" />
<rect x="707.2" y="173.8" width="3" height="5.8" fill="#0000ff" />
<line x1="715" y1="176.2" x2="715" y2="179.5" stroke="#0000ff" stroke-width="1" />
<rect x="713.5" y="176.2" width="3" height="3.2" fill="#0000ff" />
<line x1="721.2" y1="176.2" x2="721.2" y2="180" stroke="#ff0000" stroke-width="1" />
<rect x="719.8" y="176.2" width="3" height="3.8" fill="#ff0000" />
<line x1="727.5" y1="173.8" x2="727.5" y2="178.8" stroke="#0000ff" stroke-width="1" />
<rect x="726" y="173.8" width="3" height="5" fill="#0000ff" />
<line x1="733.8" y1="168.8" x2="733.8" y2="178.8" stroke="#ff0000" stroke-width="1" />
<rect x="732.2" y="168.8" width="3" height="10" fill="#ff0000" />
<line x1="740" y1="168.8" x2="740" y2="178.8" stroke="#0000ff" stroke-width="1" />
<rect x="738.5" y="172.5" width="3" height="2.5" fill="#0000ff" />
<line x1="746.2" y1="173.8" x2="746.2" y2="180" stroke="#0000ff" stroke-width="1" />
<rect x="744.8" y="173.8" width="3" height="6.2" fill="#0000ff" />
<line x1="752" y1="180" x2="752" y2="185.5" stroke="#0000ff" stroke-width="1" />
<rect x="750.5" y="181.2" width="3" height="1.2" fill="#0000ff" />
<line x1="758" y1="180" x2="758" y2="185.5" stroke="#0000ff" stroke-width="1" />
<rect x="756.5" y="181.2" width="3" height="1.2" fill="#0000ff" />
<line x1="764" y1="175" x2="764" y2="178.8" stroke="#ff0000" stroke-width="1" />
<rect x="762.5" y="175" width="3" height="3.8" fill="#ff0000" />
<line x1="775.5" y1="168.8" x2="775.5" y2="178.8" stroke="#ff0000" stroke-width="1" />
<rect x="774" y="173.8" width="3" height="2.5" fill="#ff0000" />
<line x1="781.5" y1="168.8" x2="781.5" y2="174.5" stroke="#0000ff" stroke-width="1" />
<rect x="780" y="171.2" width="3" height="1.8" fill="#0000ff" />
<line x1="787.5" y1="168.8" x2="787.5" y2="174.5" stroke="#0000ff" stroke-width="1" />
<rect x="786" y="171.2" width="3" height="1.8" fill="#0000ff" />
<line x1="793.5" y1="170" x2="793.5" y2="173.8" stroke="#0000ff" stroke-width="1" />
<rect x="792" y="170" width="3" height="3.8" fill="#0000ff" />
<line x1="799.5" y1="170" x2="799.5" y2="173.8" stroke="#0000ff" stroke-width="1" />
<rect x="798" y="170" width="3" height="3.8" fill="#0000ff" />
<line x1="805.5" y1="163.8" x2="805.5" y2="173.8" stroke="#ff0000" stroke-width="1" />
<rect x="804" y="163.8" width="3" height="10" fill="#ff0000" />
<line x1="811.5" y1="161.2" x2="811.5" y2="166.2" stroke="#0000ff" stroke-width="1" />
<rect x="810" y="163" width="3" height="1.5" fill="#0000ff" />
<line x1="817.5" y1="156.2" x2="817.5" y2="166.2" stroke="#ff0000" stroke-width="1" />
<rect x="816" y="162.5" width="3" height="2" fill="#ff0000" />
<line x1="823.5" y1="152.5" x2="823.5" y2="163.8" stroke="#0000ff" stroke-width="1" />
<rect x="822" y="161.2" width="3" height="1.8" fill="#0000ff" />
<line x1="829.5" y1="160" x2="829.5" y2="167.5" stroke="#0000ff" stroke-width="1" />
<rect x="828" y="162.5" width="3" height="1.5" fill="#0000ff" />
<line x1="835.5" y1="165" x2="835.5" y2="173.8" stroke="#0000ff" stroke-width="1" />
<rect x="834" y="165" width="3" height="8.8" fill="#0000ff" />
<line x1="841.5" y1="163.8" x2="841.5" y2="168.8" stroke="#ff0000" stroke-width="1" />
<rect x="840" y="163.8" width="3" height="5" fill="#ff0000" />
<line x1="853.5" y1="166.2" x2="853.5" y2="173.8" stroke="#0000ff" stroke-width="1" />
<rect x="852" y="166.2" width="3" height="7.5" fill="#0000ff" />
<line x1="859.5" y1="167.5" x2="859.5" y2="173.8" stroke="#ff0000" stroke-width="1" />
<rect x="858" y="167.5" width="3" height="6.2" fill="#ff0000" />
<line x1="865.5" y1="163.8" x2="865.5" y2="173.8" stroke="#ff0000" stroke-width="1" />
<rect x="864" y="163.8" width="3" height="10" fill="#ff0000" />
<line x1="871.5" y1="157.5" x2="871.5" y2="167.5" stroke="#0000ff" stroke-width="1" />
<rect x="870" y="163.8" width="3" height="1.8" fill="#0000ff" />
<line x1="877.5" y1="163.8" x2="877.5" y2="173.8" stroke="#0000ff" stroke-width="1" />
<rect x="876" y="163.8" width="3" height="10" fill="#0000ff" />
<line x1="883.5" y1="161.2" x2="883.5" y2="173.8" stroke="#0000ff" stroke-width="1" />
<rect x="882" y="166.2" width="3" height="2.5" fill="#0000ff" />
<line x1="889.5" y1="166.2" x2="889.5" y2="173.8" stroke="#0000ff" stroke-width="1" />
<rect x="888" y="166.2" width="3" height="7.5" fill="#0000ff" />
<line x1="895.5" y1="158.8" x2="895.5" y2="178.8" stroke="#0000ff" stroke-width="1" />
<rect x="894" y="168.8" width="3" height="2.5" fill="#0000ff" />
<line x1="901.5" y1="168.8" x2="901.5" y2="173.8" stroke="#ff0000" stroke-width="1" />
<rect x="900" y="168.8" width="3" height="5" fill="#ff0000" />
<line x1="907.5" y1="166.2" x2="907.5" y2="173.8" stroke="#0000ff" stroke-width="1" />
<rect x="906" y="166.2" width="3" height="7.5" fill="#0000ff" />
<line x1="913.5" y1="163.8" x2="913.5" y2="178.8" stroke="#0000ff" stroke-width="1" />
<rect x="912" y="163.8" width="3" height="15" fill="#0000ff" />
<line x1="919.5" y1="166.2" x2="919.5" y2="178.8" stroke="#0000ff" stroke-width="1" />
<rect x="918" y="171.2" width="3" height="2.5" fill="#0000ff" />
<line x1="925.5" y1="176.2" x2="925.5" y2="186.2" stroke="#0000ff" stroke-width="1" />
<rect x="924" y="176.2" width="3" height="10" fill="#0000ff" />
<line x1="931.5" y1="178.8" x2="931.5" y2="185" stroke="#ff0000" stroke-width="1" />
<rect x="930" y="178.8" width="3" height="6.2" fill="#ff0000" />
<line x1="937.5" y1="178.8" x2="937.5" y2="191.2" stroke="#0000ff" stroke-width="1" />
<rect x="936" y="178.8" width="3" height="7.5" fill="#0000ff" />
<line x1="943.5" y1="185" x2="943.5" y2="196.2" stroke="#0000ff" stroke-width="1" />
<rect x="942" y="185" width="3" height="6.2" fill="#0000ff" />
<line x1="949.5" y1="185" x2="949.5" y2="191.2" stroke="#ff0000" stroke-width="1" />
<rect x="948" y="185" width="3" height="6.2" fill="#ff0000" />
<line x1="955.5" y1="185.5" x2="955.5" y2="201.2" stroke="#0000ff" stroke-width="1" />
<rect x="954" y="185.5" width="3" height="10.8" fill="#0000ff" />
<line x1="961.5" y1="191.2" x2="961.5" y2="201.2" stroke="#ff0000" stroke-width="1" />
<rect x="960" y="191.2" width="3" height="6.2" fill="#ff0000" />
<line x1="967.5" y1="191.2" x2="967.5" y2="201.2" stroke="#ff0000" stroke-width="1" />
<rect x="966" y="191.2" width="3" height="6.2" fill="#ff0000" />
<line x1="973.5" y1="185.5" x2="973.5" y2="201.2" stroke="#0000ff" stroke-width="1" />
<rect x="972" y="185.5" width="3" height="15.8" fill="#0000ff" />
<line x1="977" y1="201.5" x2="980" y2="201.5" stroke="#0000ff" stroke-width="1" />
<line x1="984" y1="207.5" x2="987" y2="207.5" stroke="#0000ff" stroke-width="1" />
<polyline points="0,198.8 50,191 100,181 150,171 200,162.5 250,155 300,147.5 350,141 400,136.5 450,134 480,134.5 526,134.5 528,133.2 580,133.2 584,132.4 772,132.4 775,133.6 900,133.2 937,135 985,143" fill="none" stroke="#ffff00" stroke-width="1" />
<polyline points="0,167 25,164 75,152.5 125,142.5 175,132.5 225,122.5 275,113.8 323,107 355,104.5 383,104 410,100.8 442,99.3 470,100 480,101.9 802,161.7 850,165 900,167 962,169.5 985,171" fill="none" stroke="#500090" stroke-width="1" />
<polyline points="0,166 20,164 32.5,157.5 75,133.8 132.5,107.5 175,97 185,95 214,91.4 235,81.3 248,78.2 266.5,77 285,77 298,78.8 317,83.8 348,92.6 379,102.6 411,111.4 442,118.3 480,127 505,133.9 542.7,145.2 580,154.6 605,155.8 636.7,157.7 668,159.6 730.7,162.7 768,165.8 802,167.7 850,168.5 900,168.5 950,170 985,174" fill="none" stroke="#33d6d0" stroke-width="1" />
<polyline points="20,165 89,117 125.3,88.9 156.7,68.9 164.2,63.8 173,62.6 181.7,63.2 213.1,71.4 238.2,78.9 263.2,82.6 288.3,88.9 322,95.8 335.5,98.3 356.8,103.9 385.6,112.7 410.7,122.7 442,132.7 460.8,137 480,141 505,152.5 553,153.5 570,156.5 605,159.5 640,164 700,163.5 750,167 805,172 830,171 900,168 925,170 950,174 985,184" fill="none" stroke="#0a4a14" stroke-width="1" />
<polyline points="20,165 72.7,117 112.8,80.1 136.6,63.8 145.4,61.3 164.2,60.1 178,65.7 213.1,73.9 238.2,80.1 263.2,87.7 288.3,91.4 322,96.4 322.9,98.3 345.5,101.4 360.6,106.4 388.1,122.7 410.7,130.2 433.3,137 480,143 505,154 553,155.5 570,158 605,161 640,165.5 700,165 750,169 805,173.5 830,172 900,169 925,171.5 950,176 985,186" fill="none" stroke="#ff5a14" stroke-width="1" />
<polyline points="20,165 45.1,117 62.7,86.4 80.2,60.1 85.2,56.3 95.3,56.9 104,59.5 125.3,61.3 145.4,61.3 162.9,60.7 169.2,65.1 188,73.9 213.1,86.4 224.4,91.4 238.2,92.7 257,92.7 263.2,90.2 282,91.4 300.8,96.4 322,100.2 322.9,101.4 345.5,106.4 355.5,117.7 366.8,122.7 380.6,137 400,141.2 430,143.8 450,141.2 472.5,146.2 485,155 510,163 537.5,163.8 550,160 644,161.2 662.5,161.2 695,163 712.5,167.5 745,170.5 752.5,175 800,175.5 807.5,171.2 820,166.2 830,164 875,163.5 900,165 920,169.5 935,176.2 950,182.5 962.5,187 985,193" fill="none" stroke="#00ff00" stroke-width="1" />
<polyline points="0,152 20,152 32.8,117 41.4,92.7 49.5,63.8 55.2,54.4 70.2,52.6 77.7,53.8 82.7,58.2 92.8,59.5 99,62.6 125.3,63.8 137.9,62.6 145.4,60.1 162.9,60.1 169.2,66.3 175.5,76.4 185.5,85.2 190.5,88.9 195.5,91.4 220.6,92 229.4,92.7 238.2,95.2 257,93.9 263.2,88.9 275.8,90.2 288.3,102.7 300.8,105.2 321.7,101.4 326.7,105.2 344.3,106.4 349.3,117.7 355.5,126.5 365.6,130.2 373.1,134 378.1,137 380,151.2 390,152.5 400,145 412.5,138.8 430,143.8 450,141.2 462.5,145 475,152.5 487.5,165 510,166.2 537.5,165 550,161.2 644,162 662.5,162.5 695,165 712.5,171.2 745,172.5 752.5,177.5 800,177 807.5,168.8 820,163.8 830,162.5 875,163 900,166.2 920,172.5 935,180 950,186.2 962.5,191.2 985,198.8" fill="none" stroke="#ff0000" stroke-width="1" />
<polyline points="0,164 20,164 28.8,117 32.8,100.2 36.3,93.3 41.4,91.4 50.1,89.5 62.7,88.9 67.7,86.4 72.7,78.9 79,66.3 82.7,55.1 85.9,46.3 92.8,53.2 97.1,53.2 104,59.5 125.3,60.1 141.6,60.7 145.4,59.5 162.9,59.5 168,65.1 171.7,70.7 178,72.6 199.3,72.6 208.1,77 216.8,80.8 223.7,91.4 229.4,93.9 255.7,93.9 260.1,91.4 277,91.4 282,93.9 288.3,100.2 303.3,101.4 320.4,100.1 324.2,103.9 344.3,103.9 348,112.7 355.5,121.4 365.6,125.2 373.1,130.2 380.6,137 395,138.8 400,143.8 430,145 435,142.5 450,140 457.5,143.8 472.5,147.5 485,156.2 500,160 510,165 537.5,165 550,160 644,160.5 662.5,161.2 695,163.8 712.5,168.8 725,170 745,171.2 752.5,176.2 800,176.2 807.5,170 820,165 830,163 875,163 900,164.5 920,168.8 935,175 950,181.2 962.5,185.5 975,187 985,190" fill="none" stroke="#ff0000" stroke-width="3" stroke-linejoin="round"/>
<polyline points="0,166.5 20,166.5 32.8,117 37.6,105.8 104,105.2 116.6,102.7 132.9,92 144.1,91.8 151.7,88.9 166.7,87.7 169.5,86.4 173,77.6 178,68.9 187.4,60.1 193,63.8 199.3,63.8 205.6,70.1 224.4,70.1 235.6,75.1 278.3,75.1 283.3,77.6 290.8,83.9 303.3,83.9 310.4,87.6 325.5,98.9 326.7,100.1 344.3,100.1 348,105.2 350.5,110.2 356.8,115.2 365.6,118.9 370.6,119.6 378.1,124 422,124.2 433.3,129.6 462.1,129.6 468.3,132.7 475.9,133.4 482,136.5 490,144.5 500,144.5 507.5,152 550,152.5 562.5,156.2 582.5,157.5 600,157.5 612.5,162.5 625,165 644,165 650,161.2 675,160 700,161.2 712.5,163.8 747.5,166.2 760,171.2 805,171.8 815,166.2 825,164.5 862.5,164.5 882.5,165 910,165 925,168.8 945,172.5 957.5,173.8 975,178 985,182" fill="none" stroke="#0000ff" stroke-width="3" stroke-linejoin="round"/>
<polyline points="1.3,59.5 13.8,71.4 18.8,91.4 23.8,87.7 30.1,96.4 37,87 42,92 72.1,92 79.6,102.7 86.5,92 92.8,92.7 97.8,96.4 107.8,82 111.6,82 115.9,85.8 122.2,86.4 132.9,107.7 138.5,104 145.4,108.3 150.4,108.3 156.7,104 162.9,102.7 169.2,98.3 175.5,112.7 183.8,118.8 192.5,110 198.8,140 205.5,151.2 217.5,136.2 223.2,162 247.5,135.5 263.8,135.5 271.2,141.2 277.5,141.2 283.8,151.2 290,141.2 303.8,141.2 318.8,156.2 325,153 336.2,173 342.5,167.5 348.8,173 356.2,163.8 373.8,163.8 387.5,163.8 395,167.5 402.5,158.8 410,167.5 416.2,163.8 430,163 433.8,158.8 440,162.5 445,157.5 470,157.5 476.2,162.5 481.2,158.8 487.5,167.5 493.8,163 510,163 515,167.5 522.5,158.8 528.8,167.5 535,161.2 550,167.5 565,178.8 571.2,175 577.5,178.8 583.8,170 596.2,180 607.5,180 613.8,175 620,178.8 626.2,173.8 644,173.8 655,163.8 667.5,160 678.8,163.8 685,173 691.2,168 697.5,168 703.8,173.8 710,167.5 717.5,163.8 723.8,168.8 730,173.8 736.2,170 742.5,173.8 752.5,168.8 761.2,175 767.5,178.8 775,184.5 781.2,180 792.5,190 798.8,186.2 805,195 811.2,190.5 817.5,190.5 823.8,201.2 828.8,201.2 835,207" fill="none" stroke="#008000" stroke-width="3" stroke-linejoin="round"/>
<rect x="0" y="2" width="1.5" height="498" fill="#000" />
<line x1="991.5" y1="2" x2="991.5" y2="525" stroke="#000" stroke-width="1" />
<line x1="0" y1="499.5" x2="1041" y2="499.5" stroke="#000" stroke-width="1" />
<line x1="25.5" y1="499" x2="25.5" y2="504" stroke="#000" stroke-width="1" />
<line x1="145.5" y1="499" x2="145.5" y2="504" stroke="#000" stroke-width="1" />
<line x1="241.5" y1="499" x2="241.5" y2="504" stroke="#000" stroke-width="1" />
<line x1="337.5" y1="499" x2="337.5" y2="504" stroke="#000" stroke-width="1" />
<line x1="433.5" y1="499" x2="433.5" y2="504" stroke="#000" stroke-width="1" />
<line x1="541.5" y1="499" x2="541.5" y2="504" stroke="#000" stroke-width="1" />
<line x1="637.5" y1="499" x2="637.5" y2="504" stroke="#000" stroke-width="1" />
<line x1="733.5" y1="499" x2="733.5" y2="504" stroke="#000" stroke-width="1" />
<line x1="829.5" y1="499" x2="829.5" y2="504" stroke="#000" stroke-width="1" />
<line x1="925.5" y1="499" x2="925.5" y2="504" stroke="#000" stroke-width="1" />
<line x1="991" y1="21.5" x2="997" y2="21.5" stroke="#000" stroke-width="1" />
<text transform="translate(999.5 27) scale(.7692 1)" fill="#000" class="l" xml:space="preserve">9,620</text>
<line x1="991" y1="59.5" x2="997" y2="59.5" stroke="#000" stroke-width="1" />
<text transform="translate(999.5 65) scale(.7692 1)" fill="#000" class="l" xml:space="preserve">9,585</text>
<line x1="991" y1="97.5" x2="997" y2="97.5" stroke="#000" stroke-width="1" />
<text transform="translate(999.5 103) scale(.7692 1)" fill="#000" class="l" xml:space="preserve">9,550</text>
<line x1="991" y1="135.5" x2="997" y2="135.5" stroke="#000" stroke-width="1" />
<text transform="translate(999.5 141) scale(.7692 1)" fill="#000" class="l" xml:space="preserve">9,515</text>
<line x1="991" y1="173.5" x2="997" y2="173.5" stroke="#000" stroke-width="1" />
<text transform="translate(999.5 179) scale(.7692 1)" fill="#000" class="l" xml:space="preserve">9,480</text>
<line x1="991" y1="238.5" x2="997" y2="238.5" stroke="#000" stroke-width="1" />
<text transform="translate(999.5 244) scale(.7692 1)" fill="#000" class="l" xml:space="preserve">355.00</text>
<line x1="991" y1="275.5" x2="997" y2="275.5" stroke="#000" stroke-width="1" />
<text transform="translate(999.5 281) scale(.7692 1)" fill="#000" class="l" xml:space="preserve">140.00</text>
<line x1="991" y1="331.5" x2="997" y2="331.5" stroke="#000" stroke-width="1" />
<text transform="translate(999.5 337) scale(.7692 1)" fill="#000" class="l" xml:space="preserve">29.00</text>
<line x1="991" y1="369.5" x2="997" y2="369.5" stroke="#000" stroke-width="1" />
<text transform="translate(999.5 375) scale(.7692 1)" fill="#000" class="l" xml:space="preserve">2.00</text>
<line x1="991" y1="423.5" x2="997" y2="423.5" stroke="#000" stroke-width="1" />
<text transform="translate(999.5 429) scale(.7692 1)" fill="#000" class="l" xml:space="preserve">95.00</text>
<line x1="991" y1="460.5" x2="997" y2="460.5" stroke="#000" stroke-width="1" />
<text transform="translate(999.5 466) scale(.7692 1)" fill="#000" class="l" xml:space="preserve">40.00</text>
<text transform="translate(24.5 519.5) scale(.7692 1)" fill="#000" class="l" xml:space="preserve">06/10</text>
<text transform="translate(144.5 519.5) scale(.7692 1)" fill="#000" class="l" xml:space="preserve">10:40</text>
<text transform="translate(240.5 519.5) scale(.7692 1)" fill="#000" class="l" xml:space="preserve">12:00</text>
<text transform="translate(336.5 519.5) scale(.7692 1)" fill="#000" class="l" xml:space="preserve">13:20</text>
<text transform="translate(432.5 519.5) scale(.7692 1)" fill="#000" class="l" xml:space="preserve">14:40</text>
<text transform="translate(540.5 519.5) scale(.7692 1)" fill="#000" class="l" xml:space="preserve">17:20</text>
<text transform="translate(636.5 519.5) scale(.7692 1)" fill="#000" class="l" xml:space="preserve">18:40</text>
<text transform="translate(732.5 519.5) scale(.7692 1)" fill="#000" class="l" xml:space="preserve">20:00</text>
<text transform="translate(828.5 519.5) scale(.7692 1)" fill="#000" class="l" xml:space="preserve">21:20</text>
<text transform="translate(924.5 519.5) scale(.7692 1)" fill="#000" class="l" xml:space="preserve">22:40</text>
<text x="5" y="15.5" fill="#000" class="j">日経</text>
<text transform="translate(29 15.5) scale(.7692 1)" fill="#000" class="l" xml:space="preserve">225mini 11/09( 5</text>
<text x="125" y="15.5" fill="#000" class="j">分</text>
<text transform="translate(137 15.5) scale(.7692 1)" fill="#000" class="l" xml:space="preserve">, 2011/06/07 - 2011/06/10 )</text>
<text x="319" y="15.5" fill="#000" class="j">移動平均</text>
<text transform="translate(367 15.5) scale(.7692 1)" fill="#000" class="l" xml:space="preserve">( Close, 10 )</text>
<text x="465" y="15.5" fill="#000" class="j">一目均衡表</text>
<text transform="translate(525 15.5) scale(.7692 1)" fill="#000" class="l" xml:space="preserve">( 9, 26, 52 )</text>
<text x="623" y="15.5" fill="#000" class="j">移動平均</text>
<text transform="translate(671 15.5) scale(.7692 1)" fill="#000" class="l" xml:space="preserve">( Close, 150 )</text>
<text x="775" y="15.5" fill="#000" class="j">移動平均</text>
<text transform="translate(823 15.5) scale(.7692 1)" fill="#000" class="l" xml:space="preserve">( Close, 20 )</text>
<text x="5" y="29.5" fill="#000" class="j">移動平均</text>
<text transform="translate(53 29.5) scale(.7692 1)" fill="#000" class="l" xml:space="preserve">( Close, 5 )</text>
<text x="145" y="29.5" fill="#000" class="j">移動平均</text>
<text transform="translate(193 29.5) scale(.7692 1)" fill="#000" class="l" xml:space="preserve">( Close, 40 )</text>
<text x="291" y="29.5" fill="#000" class="j">移動平均</text>
<text transform="translate(339 29.5) scale(.7692 1)" fill="#000" class="l" xml:space="preserve">( Close, 25 )</text>
<text x="437" y="29.5" fill="#000" class="j">移動平均</text>
<text transform="translate(485 29.5) scale(.7692 1)" fill="#000" class="l" xml:space="preserve">( Close, 75 )</text>
<text x="5" y="233.5" fill="#000" class="j">出来高</text>
<text x="5" y="326" fill="#000" class="j">移動平均</text>
<text transform="translate(53 326) scale(.7692 1)" fill="#000" class="l" xml:space="preserve">( Close, 75 )</text>
<text transform="translate(151 326) scale(.7692 1)" fill="#000" class="l" xml:space="preserve">MACD( 12, 26, 9 )</text>
<text x="5" y="419" fill="#000" class="j">スロー・ストキャスティクス</text>
<text transform="translate(161 419) scale(.7692 1)" fill="#000" class="l" xml:space="preserve">( 14, 3, 80, 20 )</text>
<rect x="995" y="296.5" width="38.5" height="13.5" fill="#fff" stroke="#000" stroke-width="1"/>
<text x="996" y="307.5" fill="#000" class="j">×</text>
<text transform="translate(1014 307.5) scale(.7692 1)" fill="#000" class="l" xml:space="preserve">100</text>
<rect x="6" y="298" width="3" height="1" fill="#008000" />
<rect x="18" y="297" width="3" height="2" fill="#008000" />
<rect x="24" y="250.5" width="3" height="48.5" fill="#008000" />
<rect x="30" y="267" width="3" height="32" fill="#008000" />
<rect x="36" y="238" width="3" height="61" fill="#008000" />
<rect x="42" y="288" width="3" height="11" fill="#008000" />
<rect x="48" y="275" width="3" height="24" fill="#008000" />
<rect x="54" y="292" width="3" height="7" fill="#008000" />
<rect x="60" y="287" width="3" height="12" fill="#008000" />
<rect x="66" y="290" width="3" height="9" fill="#008000" />
<rect x="72" y="286" width="3" height="13" fill="#008000" />
<rect x="78" y="288" width="3" height="11" fill="#008000" />
<rect x="84" y="289" width="3" height="10" fill="#008000" />
<rect x="90" y="289" width="3" height="10" fill="#008000" />
<rect x="96" y="295" width="3" height="4" fill="#008000" />
<rect x="102" y="283" width="3" height="16" fill="#008000" />
<rect x="108" y="294" width="3" height="5" fill="#008000" />
<rect x="114" y="295" width="3" height="4" fill="#008000" />
<rect x="120" y="293" width="3" height="6" fill="#008000" />
<rect x="126" y="298" width="3" height="1" fill="#008000" />
<rect x="132" y="294" width="3" height="5" fill="#008000" />
<rect x="138" y="294" width="3" height="5" fill="#008000" />
<rect x="144" y="294" width="3" height="5" fill="#008000" />
<rect x="150" y="284" width="3" height="15" fill="#008000" />
<rect x="156" y="291" width="3" height="8" fill="#008000" />
<rect x="162" y="294" width="3" height="5" fill="#008000" />
<rect x="168" y="290" width="3" height="9" fill="#008000" />
<rect x="174" y="291" width="3" height="8" fill="#008000" />
<rect x="180" y="295" width="3" height="4" fill="#008000" />
<rect x="186" y="296" width="3" height="3" fill="#008000" />
<rect x="192" y="296" width="3" height="3" fill="#008000" />
<rect x="198" y="298" width="3" height="1" fill="#008000" />
<rect x="204" y="298" width="3" height="1" fill="#008000" />
<rect x="210" y="298" width="3" height="1" fill="#008000" />
<rect x="222" y="298" width="3" height="1" fill="#008000" />
<rect x="228" y="296" width="3" height="3" fill="#008000" />
<rect x="234" y="298" width="3" height="1" fill="#008000" />
<rect x="240" y="298" width="3" height="1" fill="#008000" />
<rect x="246" y="298" width="3" height="1" fill="#008000" />
<rect x="252" y="297" width="3" height="2" fill="#008000" />
<rect x="258" y="297" width="3" height="2" fill="#008000" />
<rect x="264" y="298" width="3" height="1" fill="#008000" />
<rect x="270" y="297" width="3" height="2" fill="#008000" />
<rect x="276" y="293" width="3" height="6" fill="#008000" />
<rect x="282" y="292" width="3" height="7" fill="#008000" />
<rect x="288" y="285" width="3" height="14" fill="#008000" />
<rect x="294" y="293" width="3" height="6" fill="#008000" />
<rect x="300" y="296" width="3" height="3" fill="#008000" />
<rect x="306" y="298" width="3" height="1" fill="#008000" />
<rect x="312" y="293" width="3" height="6" fill="#008000" />
<rect x="318" y="298" width="3" height="1" fill="#008000" />
<rect x="324" y="296" width="3" height="3" fill="#008000" />
<rect x="330" y="294" width="3" height="5" fill="#008000" />
<rect x="336" y="292" width="3" height="7" fill="#008000" />
<rect x="342" y="296" width="3" height="3" fill="#008000" />
<rect x="348" y="289" width="3" height="10" fill="#008000" />
<rect x="354" y="284" width="3" height="15" fill="#008000" />
<rect x="360" y="280" width="3" height="19" fill="#008000" />
<rect x="366" y="288" width="3" height="11" fill="#008000" />
<rect x="372" y="287" width="3" height="12" fill="#008000" />
<rect x="378" y="291" width="3" height="8" fill="#008000" />
<rect x="384" y="292" width="3" height="7" fill="#008000" />
<rect x="390" y="298" width="3" height="1" fill="#008000" />
<rect x="396" y="289" width="3" height="10" fill="#008000" />
<rect x="402" y="283" width="3" height="16" fill="#008000" />
<rect x="408" y="297" width="3" height="2" fill="#008000" />
<rect x="414" y="293" width="3" height="6" fill="#008000" />
<rect x="420" y="296" width="3" height="3" fill="#008000" />
<rect x="426" y="296" width="3" height="3" fill="#008000" />
<rect x="432" y="293" width="3" height="6" fill="#008000" />
<rect x="438" y="294" width="3" height="5" fill="#008000" />
<rect x="444" y="292" width="3" height="7" fill="#008000" />
<rect x="450" y="291" width="3" height="8" fill="#008000" />
<rect x="456" y="286" width="3" height="13" fill="#008000" />
<rect x="462" y="292" width="3" height="7" fill="#008000" />
<rect x="474" y="293" width="3" height="6" fill="#008000" />
<rect x="480" y="295" width="3" height="4" fill="#008000" />
<rect x="486" y="295" width="3" height="4" fill="#008000" />
<rect x="492" y="298" width="3" height="1" fill="#008000" />
<rect x="498" y="297" width="3" height="2" fill="#008000" />
<rect x="504" y="297" width="3" height="2" fill="#008000" />
<rect x="510" y="298" width="3" height="1" fill="#008000" />
<rect x="516" y="295" width="3" height="4" fill="#008000" />
<rect x="522" y="298" width="3" height="1" fill="#008000" />
<rect x="528" y="297" width="3" height="2" fill="#008000" />
<rect x="534" y="296" width="3" height="3" fill="#008000" />
<rect x="540" y="296" width="3" height="3" fill="#008000" />
<rect x="546" y="297" width="3" height="2" fill="#008000" />
<rect x="552" y="298" width="3" height="1" fill="#008000" />
<rect x="564" y="297" width="3" height="2" fill="#008000" />
<rect x="576" y="293" width="3" height="6" fill="#008000" />
<rect x="582" y="298" width="3" height="1" fill="#008000" />
<rect x="588" y="297" width="3" height="2" fill="#008000" />
<rect x="594" y="298" width="3" height="1" fill="#008000" />
<rect x="600" y="298" width="3" height="1" fill="#008000" />
<rect x="606" y="297" width="3" height="2" fill="#008000" />
<rect x="612" y="298" width="3" height="1" fill="#008000" />
<rect x="618" y="298" width="3" height="1" fill="#008000" />
<rect x="624" y="298" width="3" height="1" fill="#008000" />
<rect x="636" y="295" width="3" height="4" fill="#008000" />
<rect x="642" y="298" width="3" height="1" fill="#008000" />
<rect x="654" y="298" width="3" height="1" fill="#008000" />
<rect x="660" y="298" width="3" height="1" fill="#008000" />
<rect x="666" y="296" width="3" height="3" fill="#008000" />
<rect x="672" y="298" width="3" height="1" fill="#008000" />
<rect x="678" y="297" width="3" height="2" fill="#008000" />
<rect x="684" y="298" width="3" height="1" fill="#008000" />
<rect x="690" y="298" width="3" height="1" fill="#008000" />
<rect x="696" y="297" width="3" height="2" fill="#008000" />
<rect x="702" y="298" width="3" height="1" fill="#008000" />
<rect x="708" y="297" width="3" height="2" fill="#008000" />
<rect x="714" y="298" width="3" height="1" fill="#008000" />
<rect x="720" y="297" width="3" height="2" fill="#008000" />
<rect x="726" y="298" width="3" height="1" fill="#008000" />
<rect x="732" y="298" width="3" height="1" fill="#008000" />
<rect x="738" y="298" width="3" height="1" fill="#008000" />
<rect x="750" y="297" width="3" height="2" fill="#008000" />
<rect x="756" y="298" width="3" height="1" fill="#008000" />
<rect x="762" y="298" width="3" height="1" fill="#008000" />
<rect x="768" y="298" width="3" height="1" fill="#008000" />
<rect x="774" y="298" width="3" height="1" fill="#008000" />
<rect x="804" y="298" width="3" height="1" fill="#008000" />
<rect x="810" y="298" width="3" height="1" fill="#008000" />
<rect x="816" y="298" width="3" height="1" fill="#008000" />
<rect x="822" y="298" width="3" height="1" fill="#008000" />
<rect x="828" y="298" width="3" height="1" fill="#008000" />
<rect x="834" y="297" width="3" height="2" fill="#008000" />
<rect x="840" y="298" width="3" height="1" fill="#008000" />
<rect x="846" y="298" width="3" height="1" fill="#008000" />
<rect x="858" y="298" width="3" height="1" fill="#008000" />
<rect x="864" y="298" width="3" height="1" fill="#008000" />
<rect x="870" y="298" width="3" height="1" fill="#008000" />
<rect x="876" y="298" width="3" height="1" fill="#008000" />
<rect x="882" y="298" width="3" height="1" fill="#008000" />
<rect x="888" y="298" width="3" height="1" fill="#008000" />
<rect x="894" y="298" width="3" height="1" fill="#008000" />
<rect x="900" y="298" width="3" height="1" fill="#008000" />
<rect x="906" y="298" width="3" height="1" fill="#008000" />
<rect x="912" y="298" width="3" height="1" fill="#008000" />
<rect x="918" y="298" width="3" height="1" fill="#008000" />
<rect x="924" y="298" width="3" height="1" fill="#008000" />
<rect x="930" y="298" width="3" height="1" fill="#008000" />
<rect x="936" y="296" width="3" height="3" fill="#008000" />
<rect x="942" y="295" width="3" height="4" fill="#008000" />
<rect x="948" y="297" width="3" height="2" fill="#008000" />
<rect x="954" y="296" width="3" height="3" fill="#008000" />
<rect x="960" y="297" width="3" height="2" fill="#008000" />
<rect x="966" y="297" width="3" height="2" fill="#008000" />
<rect x="972" y="297" width="3" height="2" fill="#008000" />
<rect x="984" y="295" width="3" height="4" fill="#008000" />
<line x1="0" y1="299.5" x2="986" y2="299.5" stroke="#000" stroke-width="1" />
<line x1="1" y1="371.5" x2="986" y2="371.5" stroke="#808080" stroke-width="1" />
<polyline points="0,390 25,387.5 50,382.5 75,377.5 100,371.2 125,366.2 150,361.2 175,357.5 200,353.8 225,350.5 250,347.5 275,344.5 300,341.2 325,338.8 350,336.2 375,335 400,333.8 425,333 440,331.8 470,332 487.5,335 512.5,340 550,347.5 587.5,354.5 625,360 644,362.5 650,363.8 700,370 750,377.5 775,380 815,383.2 850,383.8 890,386.2 925,387.5 950,388 985,390.5" fill="none" stroke="#ffb6c1" stroke-width="1" />
<line x1="1.5" y1="371.5" x2="1.5" y2="368.5" stroke="#ff0000" stroke-width="1" />
<line x1="7.5" y1="371.5" x2="7.5" y2="368.5" stroke="#ff0000" stroke-width="1" />
<line x1="13.5" y1="371.5" x2="13.5" y2="368.5" stroke="#ff0000" stroke-width="1" />
<line x1="19.5" y1="371.5" x2="19.5" y2="368.5" stroke="#ff0000" stroke-width="1" />
<line x1="25.5" y1="371.5" x2="25.5" y2="368.5" stroke="#ff0000" stroke-width="1" />
<line x1="31.5" y1="371.5" x2="31.5" y2="360.5" stroke="#ff0000" stroke-width="1" />
<line x1="37.5" y1="371.5" x2="37.5" y2="357.5" stroke="#ff0000" stroke-width="1" />
<line x1="43.5" y1="371.5" x2="43.5" y2="356.5" stroke="#ff0000" stroke-width="1" />
<line x1="49.5" y1="371.5" x2="49.5" y2="356" stroke="#ff0000" stroke-width="1" />
<line x1="55.5" y1="371.5" x2="55.5" y2="356.5" stroke="#ff0000" stroke-width="1" />
<line x1="61.5" y1="371.5" x2="61.5" y2="359" stroke="#ff0000" stroke-width="1" />
<line x1="67.5" y1="371.5" x2="67.5" y2="360.5" stroke="#ff0000" stroke-width="1" />
<line x1="73.5" y1="371.5" x2="73.5" y2="363.5" stroke="#ff0000" stroke-width="1" />
<line x1="79.5" y1="371.5" x2="79.5" y2="365.5" stroke="#ff0000" stroke-width="1" />
<line x1="85.5" y1="371.5" x2="85.5" y2="368.5" stroke="#ff0000" stroke-width="1" />
<line x1="91.5" y1="371.5" x2="91.5" y2="370.5" stroke="#ff0000" stroke-width="1" />
<line x1="109.5" y1="371.5" x2="109.5" y2="372.5" stroke="#ff0000" stroke-width="1" />
<line x1="115.5" y1="371.5" x2="115.5" y2="373" stroke="#ff0000" stroke-width="1" />
<line x1="121.5" y1="371.5" x2="121.5" y2="373.5" stroke="#ff0000" stroke-width="1" />
<line x1="127.5" y1="371.5" x2="127.5" y2="374" stroke="#ff0000" stroke-width="1" />
<line x1="133.5" y1="371.5" x2="133.5" y2="375" stroke="#ff0000" stroke-width="1" />
<line x1="139.5" y1="371.5" x2="139.5" y2="376" stroke="#ff0000" stroke-width="1" />
<line x1="145.5" y1="371.5" x2="145.5" y2="376.5" stroke="#ff0000" stroke-width="1" />
<line x1="151.5" y1="371.5" x2="151.5" y2="375.5" stroke="#ff0000" stroke-width="1" />
<line x1="157.5" y1="371.5" x2="157.5" y2="376" stroke="#ff0000" stroke-width="1" />
<line x1="163.5" y1="371.5" x2="163.5" y2="376.5" stroke="#ff0000" stroke-width="1" />
<line x1="169.5" y1="371.5" x2="169.5" y2="378" stroke="#ff0000" stroke-width="1" />
<line x1="175.5" y1="371.5" x2="175.5" y2="379.5" stroke="#ff0000" stroke-width="1" />
<line x1="181.5" y1="371.5" x2="181.5" y2="380" stroke="#ff0000" stroke-width="1" />
<line x1="187.5" y1="371.5" x2="187.5" y2="379.5" stroke="#ff0000" stroke-width="1" />
<line x1="193.5" y1="371.5" x2="193.5" y2="379" stroke="#ff0000" stroke-width="1" />
<line x1="199.5" y1="371.5" x2="199.5" y2="379" stroke="#ff0000" stroke-width="1" />
<line x1="205.5" y1="371.5" x2="205.5" y2="378" stroke="#ff0000" stroke-width="1" />
<line x1="211.5" y1="371.5" x2="211.5" y2="377" stroke="#ff0000" stroke-width="1" />
<line x1="217.5" y1="371.5" x2="217.5" y2="376.5" stroke="#ff0000" stroke-width="1" />
<line x1="223.5" y1="371.5" x2="223.5" y2="376" stroke="#ff0000" stroke-width="1" />
<line x1="229.5" y1="371.5" x2="229.5" y2="375.5" stroke="#ff0000" stroke-width="1" />
<line x1="235.5" y1="371.5" x2="235.5" y2="375" stroke="#ff0000" stroke-width="1" />
<line x1="241.5" y1="371.5" x2="241.5" y2="374" stroke="#ff0000" stroke-width="1" />
<line x1="247.5" y1="371.5" x2="247.5" y2="373.5" stroke="#ff0000" stroke-width="1" />
<line x1="253.5" y1="371.5" x2="253.5" y2="372.5" stroke="#ff0000" stroke-width="1" />
<line x1="289.5" y1="371.5" x2="289.5" y2="370.5" stroke="#ff0000" stroke-width="1" />
<line x1="295.5" y1="371.5" x2="295.5" y2="370.5" stroke="#ff0000" stroke-width="1" />
<line x1="301.5" y1="371.5" x2="301.5" y2="370.5" stroke="#ff0000" stroke-width="1" />
<line x1="325.5" y1="371.5" x2="325.5" y2="370.5" stroke="#ff0000" stroke-width="1" />
<line x1="331.5" y1="371.5" x2="331.5" y2="372.5" stroke="#ff0000" stroke-width="1" />
<line x1="337.5" y1="371.5" x2="337.5" y2="372.5" stroke="#ff0000" stroke-width="1" />
<line x1="349.5" y1="371.5" x2="349.5" y2="374" stroke="#ff0000" stroke-width="1" />
<line x1="355.5" y1="371.5" x2="355.5" y2="375.5" stroke="#ff0000" stroke-width="1" />
<line x1="361.5" y1="371.5" x2="361.5" y2="376" stroke="#ff0000" stroke-width="1" />
<line x1="367.5" y1="371.5" x2="367.5" y2="375.5" stroke="#ff0000" stroke-width="1" />
<line x1="373.5" y1="371.5" x2="373.5" y2="377" stroke="#ff0000" stroke-width="1" />
<line x1="379.5" y1="371.5" x2="379.5" y2="376" stroke="#ff0000" stroke-width="1" />
<line x1="385.5" y1="371.5" x2="385.5" y2="375.5" stroke="#ff0000" stroke-width="1" />
<line x1="391.5" y1="371.5" x2="391.5" y2="374" stroke="#ff0000" stroke-width="1" />
<line x1="397.5" y1="371.5" x2="397.5" y2="372.5" stroke="#ff0000" stroke-width="1" />
<line x1="409.5" y1="371.5" x2="409.5" y2="370.5" stroke="#ff0000" stroke-width="1" />
<line x1="415.5" y1="371.5" x2="415.5" y2="370" stroke="#ff0000" stroke-width="1" />
<line x1="421.5" y1="371.5" x2="421.5" y2="369.5" stroke="#ff0000" stroke-width="1" />
<line x1="427.5" y1="371.5" x2="427.5" y2="369" stroke="#ff0000" stroke-width="1" />
<line x1="433.5" y1="371.5" x2="433.5" y2="369.5" stroke="#ff0000" stroke-width="1" />
<line x1="439.5" y1="371.5" x2="439.5" y2="370" stroke="#ff0000" stroke-width="1" />
<line x1="445.5" y1="371.5" x2="445.5" y2="369.5" stroke="#ff0000" stroke-width="1" />
<line x1="451.5" y1="371.5" x2="451.5" y2="369" stroke="#ff0000" stroke-width="1" />
<line x1="457.5" y1="371.5" x2="457.5" y2="369.5" stroke="#ff0000" stroke-width="1" />
<line x1="463.5" y1="371.5" x2="463.5" y2="370" stroke="#ff0000" stroke-width="1" />
<line x1="469.5" y1="371.5" x2="469.5" y2="370.5" stroke="#ff0000" stroke-width="1" />
<line x1="475.5" y1="371.5" x2="475.5" y2="370.5" stroke="#ff0000" stroke-width="1" />
<line x1="481.5" y1="371.5" x2="481.5" y2="370.5" stroke="#ff0000" stroke-width="1" />
<line x1="487.5" y1="371.5" x2="487.5" y2="370.5" stroke="#ff0000" stroke-width="1" />
<line x1="493.5" y1="371.5" x2="493.5" y2="372.5" stroke="#ff0000" stroke-width="1" />
<line x1="505.5" y1="371.5" x2="505.5" y2="370.5" stroke="#ff0000" stroke-width="1" />
<line x1="511.5" y1="371.5" x2="511.5" y2="370.5" stroke="#ff0000" stroke-width="1" />
<line x1="517.5" y1="371.5" x2="517.5" y2="370.5" stroke="#ff0000" stroke-width="1" />
<line x1="523.5" y1="371.5" x2="523.5" y2="370" stroke="#ff0000" stroke-width="1" />
<line x1="529.5" y1="371.5" x2="529.5" y2="370" stroke="#ff0000" stroke-width="1" />
<line x1="535.5" y1="371.5" x2="535.5" y2="370" stroke="#ff0000" stroke-width="1" />
<line x1="541.5" y1="371.5" x2="541.5" y2="369.5" stroke="#ff0000" stroke-width="1" />
<line x1="547.5" y1="371.5" x2="547.5" y2="369.5" stroke="#ff0000" stroke-width="1" />
<line x1="553.5" y1="371.5" x2="553.5" y2="369.5" stroke="#ff0000" stroke-width="1" />
<line x1="559.5" y1="371.5" x2="559.5" y2="369.5" stroke="#ff0000" stroke-width="1" />
<line x1="565.5" y1="371.5" x2="565.5" y2="369.5" stroke="#ff0000" stroke-width="1" />
<line x1="571.5" y1="371.5" x2="571.5" y2="369.5" stroke="#ff0000" stroke-width="1" />
<line x1="577.5" y1="371.5" x2="577.5" y2="369" stroke="#ff0000" stroke-width="1" />
<line x1="583.5" y1="371.5" x2="583.5" y2="369" stroke="#ff0000" stroke-width="1" />
<line x1="589.5" y1="371.5" x2="589.5" y2="369" stroke="#ff0000" stroke-width="1" />
<line x1="595.5" y1="371.5" x2="595.5" y2="369.5" stroke="#ff0000" stroke-width="1" />
<line x1="601.5" y1="371.5" x2="601.5" y2="369.5" stroke="#ff0000" stroke-width="1" />
<line x1="607.5" y1="371.5" x2="607.5" y2="369.5" stroke="#ff0000" stroke-width="1" />
<line x1="613.5" y1="371.5" x2="613.5" y2="369.5" stroke="#ff0000" stroke-width="1" />
<line x1="619.5" y1="371.5" x2="619.5" y2="370" stroke="#ff0000" stroke-width="1" />
<line x1="625.5" y1="371.5" x2="625.5" y2="370" stroke="#ff0000" stroke-width="1" />
<line x1="631.5" y1="371.5" x2="631.5" y2="370.5" stroke="#ff0000" stroke-width="1" />
<line x1="637.5" y1="371.5" x2="637.5" y2="370.5" stroke="#ff0000" stroke-width="1" />
<line x1="805.5" y1="371.5" x2="805.5" y2="370" stroke="#ff0000" stroke-width="1" />
<line x1="811.5" y1="371.5" x2="811.5" y2="369" stroke="#ff0000" stroke-width="1" />
<line x1="817.5" y1="371.5" x2="817.5" y2="368.5" stroke="#ff0000" stroke-width="1" />
<line x1="823.5" y1="371.5" x2="823.5" y2="369" stroke="#ff0000" stroke-width="1" />
<line x1="829.5" y1="371.5" x2="829.5" y2="369.5" stroke="#ff0000" stroke-width="1" />
<line x1="835.5" y1="371.5" x2="835.5" y2="370.5" stroke="#ff0000" stroke-width="1" />
<line x1="937.5" y1="371.5" x2="937.5" y2="372.5" stroke="#ff0000" stroke-width="1" />
<line x1="943.5" y1="371.5" x2="943.5" y2="373" stroke="#ff0000" stroke-width="1" />
<line x1="949.5" y1="371.5" x2="949.5" y2="373" stroke="#ff0000" stroke-width="1" />
<line x1="955.5" y1="371.5" x2="955.5" y2="373" stroke="#ff0000" stroke-width="1" />
<line x1="961.5" y1="371.5" x2="961.5" y2="373" stroke="#ff0000" stroke-width="1" />
<line x1="967.5" y1="371.5" x2="967.5" y2="373" stroke="#ff0000" stroke-width="1" />
<line x1="973.5" y1="371.5" x2="973.5" y2="373" stroke="#ff0000" stroke-width="1" />
<line x1="979.5" y1="371.5" x2="979.5" y2="373" stroke="#ff0000" stroke-width="1" />
<line x1="985.5" y1="371.5" x2="985.5" y2="374" stroke="#ff0000" stroke-width="1" />
<line x1="649.5" y1="371.5" x2="649.5" y2="370.9" stroke="#ff0000" stroke-width="1" />
<line x1="661.5" y1="371.5" x2="661.5" y2="370.9" stroke="#ff0000" stroke-width="1" />
<line x1="673.5" y1="371.5" x2="673.5" y2="370.9" stroke="#ff0000" stroke-width="1" />
<line x1="685.5" y1="371.5" x2="685.5" y2="370.9" stroke="#ff0000" stroke-width="1" />
<line x1="697.5" y1="371.5" x2="697.5" y2="370.9" stroke="#ff0000" stroke-width="1" />
<line x1="709.5" y1="371.5" x2="709.5" y2="370.9" stroke="#ff0000" stroke-width="1" />
<line x1="721.5" y1="371.5" x2="721.5" y2="370.9" stroke="#ff0000" stroke-width="1" />
<line x1="733.5" y1="371.5" x2="733.5" y2="370.9" stroke="#ff0000" stroke-width="1" />
<line x1="745.5" y1="371.5" x2="745.5" y2="370.9" stroke="#ff0000" stroke-width="1" />
<line x1="757.5" y1="371.5" x2="757.5" y2="370.9" stroke="#ff0000" stroke-width="1" />
<line x1="769.5" y1="371.5" x2="769.5" y2="370.9" stroke="#ff0000" stroke-width="1" />
<line x1="781.5" y1="371.5" x2="781.5" y2="370.9" stroke="#ff0000" stroke-width="1" />
<line x1="793.5" y1="371.5" x2="793.5" y2="370.9" stroke="#ff0000" stroke-width="1" />
<line x1="841.5" y1="371.5" x2="841.5" y2="370.9" stroke="#ff0000" stroke-width="1" />
<line x1="853.5" y1="371.5" x2="853.5" y2="370.9" stroke="#ff0000" stroke-width="1" />
<line x1="865.5" y1="371.5" x2="865.5" y2="370.9" stroke="#ff0000" stroke-width="1" />
<line x1="877.5" y1="371.5" x2="877.5" y2="370.9" stroke="#ff0000" stroke-width="1" />
<line x1="889.5" y1="371.5" x2="889.5" y2="370.9" stroke="#ff0000" stroke-width="1" />
<line x1="901.5" y1="371.5" x2="901.5" y2="370.9" stroke="#ff0000" stroke-width="1" />
<line x1="913.5" y1="371.5" x2="913.5" y2="370.9" stroke="#ff0000" stroke-width="1" />
<line x1="925.5" y1="371.5" x2="925.5" y2="370.9" stroke="#ff0000" stroke-width="1" />
<polyline points="0,366.2 18.8,365 25,361.2 32.5,351.2 40,342.5 50,335 60,332 75,331.2 85,333 105,338 125,343 145,348 160,352 175,358.8 190,365 200,369 215,371.8 230,373.8 250,373.8 260,372 280,372.5 295,375.5 315,377 332.5,379.5 345,379.5 360,385 375,390.5 387.5,391.2 400,387.5 425,384.2 447.5,381.8 462.5,381.8 482.5,384.5 500,386.2 520,383.8 550,381.8 575,378.8 600,375.5 625,373.8 644,373 655,373.2 675,373.8 707.5,373.2 720,376.2 740,376.5 750,376 775,376.5 790,375.5 807.5,372.5 825,370.5 835,370 850,370.8 875,370 910,372.5 925,373.8 950,376.2 970,378 985,381.2" fill="none" stroke="#ffff00" stroke-width="1" />
<polyline points="0,368.8 20,368 25,366.2 37.5,358.8 50,350 62.5,343.8 75,339.5 85,337.5 105,337.5 125,340 145,343.8 160,346.2 175,351.2 190,357 200,361.2 215,366.2 230,368.8 247.5,371.8 275,372.5 300,375 320,375.5 345,377 362.5,381.2 380,385 397.5,388 412.5,387 440,384.2 462.5,383 475,382.5 497.5,384.2 525,383.8 550,382 575,379.5 600,377 625,375 644,374.2 675,374 707.5,373.2 720,374.5 740,375 750,376.5 775,376.5 790,376.2 807.5,374.5 820,372 835,370.8 862.5,370.8 875,370.2 887.5,370.8 925,371.8 950,374.2 970,375.8 985,378.2" fill="none" stroke="#0000ff" stroke-width="1" />
<line x1="1" y1="433.5" x2="986" y2="433.5" stroke="#0000ff" stroke-width="1" />
<line x1="1" y1="473.5" x2="986" y2="473.5" stroke="#ff0000" stroke-width="1" />
<polyline points="0,428 15,426.2 25,428.8 35,428.8 47.5,432.5 57.5,433 72.5,435.5 85,438.8 100,442 107.5,444.5 115,448.8 122.5,456.2 130,460.5 140,463 150,459.5 160,459.2 165,462.5 170,468.8 177.5,474.5 185,477.5 200,477.5 210,479.2 225,479.5 235,480.5 243.8,477.5 250,472.5 257.5,456.2 265,441.2 271.2,436.2 277.5,441.2 285,454.5 291.2,463.8 300,465.5 310,464.5 322.5,459.5 330,465 337.5,473.8 350,477 360,480.5 370,478 385,477 392.5,473.8 400,467.5 410,458.8 420,454.5 430,455 437.5,456.2 447.5,453 455,448.2 462.5,452.5 470,462.5 477.5,471.2 487.5,475.8 498.8,476.2 510,472.5 518.8,467 530,461.2 541.2,458.8 550,456.2 560,450 565,448.8 575,451.8 585,450 600,449.2 612.5,445 620,443.8 627.5,446.2 635,450 644,460 650,465.5 662.5,465.5 670,468.8 680,465.5 692.5,461.2 700,465.5 710,470 720,474.5 730,474.2 737.5,472.5 746.2,472.5 757.5,475.8 770,470 780,462.5 790,452.5 800,440 810,431.2 817.5,427.5 825,430.5 830,433.8 837.5,446.2 847.5,456.2 857.5,463.8 862.5,465.5 872.5,462.5 882.5,465.5 890,474.5 897.5,473.8 905,472 915,470 922.5,474.5 930,479.5 940,478.8 950,475 957.5,474.2 967.5,472 975,476.2 985,480.5" fill="none" stroke="#ff0000" stroke-width="1" />
<polyline points="0,425 5,427 15,427 25,431.2 31.2,427.5 40,431.2 45,432.5 56.2,432.5 61.2,436.2 72.5,435 82.5,438 90,440 96.2,443 105,445 111.2,450 116.2,455.5 121.2,462 132.5,462.5 138.8,464.2 145,460 151.2,456.2 157.5,460 163.8,467.5 170,477 175,473.8 181.2,480 187.5,476.2 192.5,478.8 202.5,478 207.5,479.5 223.8,479.5 229.5,483 236.2,476.2 241.2,474.2 247.5,474.2 253.8,446.2 260,433.8 271.2,436.2 277.5,453.8 283.2,470 290,464.2 295,465.5 301.2,467 307.5,462 313.8,460 319.5,454.5 325,465 331.2,475.8 337,477.5 343,472.5 349.2,478.8 355.2,483.2 361.2,479.5 367.5,472.5 373.5,479.5 379.5,478 385.5,475 391.5,471.2 397.5,464.5 403.5,460 410,455 415.5,453.2 422.5,454.5 428.8,455.5 433.8,459.2 440,453.2 446.2,448.8 452.5,447 457.5,450 463.8,461.2 469.5,473 475.8,474 481.2,476.2 487,478.2 493,475 499,477.5 505,470 511.2,466.2 522.5,464.5 528.8,456.2 535,457.5 541.2,461.2 547.5,453.8 553.2,444.5 559.2,452 565,448.8 571.2,451.2 577,452 583,445.8 589.2,453.8 595,448.8 601.2,445.8 607.5,444.5 619.5,443.2 625.5,453.8 631.5,448.2 637.5,467 644,466.2 661.2,465.5 667.5,475 673.8,459.5 679.5,461.2 685.5,462.5 691.5,458.8 697.5,472.5 703.5,468 709.5,470 715.5,478 721.5,474.2 727.5,480 733.8,467.5 739.5,468 745.5,477 751.5,475 757.5,473.8 763.5,467.5 769.5,469.5 775.5,461.2 781.5,452.5 787.5,448 793.5,445.5 799.5,432.5 805.5,426.2 811.5,430 817.5,425.8 823.5,435 829.5,438 835.5,451.2 841.5,456.2 847.5,458.8 853.5,465 859.5,468 865.5,460 871.5,457.5 877.5,472.5 883.5,471.2 889.5,479.2 895.5,475 901.5,468.2 907.5,469.2 913.5,469.5 919.5,477 925.5,481.8 931.5,478 937.5,477.5 943.5,477 949.5,472.5 955.5,475 961.5,470.8 967.5,469.2 973.5,478 979.5,482 985,484.5" fill="none" stroke="#0000ff" stroke-width="1" />
<path d="M1041.5 5.5 h-2 v11 h2" fill="none" stroke="#c8c8c8" stroke-width="1"/>
<path d="M1041.5 137.5 h-2 v11 h2" fill="none" stroke="#c8c8c8" stroke-width="1"/>
<path d="M1041.5 222.5 h-2 v11 h2" fill="none" stroke="#c8c8c8" stroke-width="1"/>
<path d="M1041.5 316.5 h-2 v11 h2" fill="none" stroke="#c8c8c8" stroke-width="1"/>
<path d="M1041.5 408.5 h-2 v11 h2" fill="none" stroke="#c8c8c8" stroke-width="1"/>
<clipPath id="c2"><rect x="1054" y="14" width="695" height="500"/></clipPath>
<line x1="1091.5" y1="15" x2="1091.5" y2="513" stroke="#b0b0b0" stroke-width="1" stroke-dasharray="3,3"/>
<line x1="1163.5" y1="15" x2="1163.5" y2="513" stroke="#b0b0b0" stroke-width="1" stroke-dasharray="3,3"/>
<line x1="1331.5" y1="15" x2="1331.5" y2="513" stroke="#b0b0b0" stroke-width="1" stroke-dasharray="3,3"/>
<line x1="1421.5" y1="15" x2="1421.5" y2="513" stroke="#b0b0b0" stroke-width="1" stroke-dasharray="3,3"/>
<line x1="1493.5" y1="15" x2="1493.5" y2="513" stroke="#b0b0b0" stroke-width="1" stroke-dasharray="3,3"/>
<line x1="1661.5" y1="15" x2="1661.5" y2="513" stroke="#b0b0b0" stroke-width="1" stroke-dasharray="3,3"/>
<line x1="1056" y1="35.5" x2="1749" y2="35.5" stroke="#b0b0b0" stroke-width="1" stroke-dasharray="3,3"/>
<line x1="1056" y1="72.5" x2="1749" y2="72.5" stroke="#b0b0b0" stroke-width="1" stroke-dasharray="3,3"/>
<line x1="1056" y1="109.5" x2="1749" y2="109.5" stroke="#b0b0b0" stroke-width="1" stroke-dasharray="3,3"/>
<line x1="1056" y1="146.5" x2="1749" y2="146.5" stroke="#b0b0b0" stroke-width="1" stroke-dasharray="3,3"/>
<line x1="1056" y1="183.5" x2="1749" y2="183.5" stroke="#b0b0b0" stroke-width="1" stroke-dasharray="3,3"/>
<line x1="1056" y1="221.5" x2="1749" y2="221.5" stroke="#b0b0b0" stroke-width="1" stroke-dasharray="3,3"/>
<line x1="1056" y1="252.5" x2="1749" y2="252.5" stroke="#b0b0b0" stroke-width="1" stroke-dasharray="3,3"/>
<line x1="1056" y1="289.5" x2="1749" y2="289.5" stroke="#b0b0b0" stroke-width="1" stroke-dasharray="3,3"/>
<line x1="1056" y1="345.5" x2="1749" y2="345.5" stroke="#b0b0b0" stroke-width="1" stroke-dasharray="3,3"/>
<line x1="1056" y1="382.5" x2="1749" y2="382.5" stroke="#b0b0b0" stroke-width="1" stroke-dasharray="3,3"/>
<line x1="1056" y1="438.5" x2="1749" y2="438.5" stroke="#b0b0b0" stroke-width="1" stroke-dasharray="3,3"/>
<line x1="1056" y1="476.5" x2="1749" y2="476.5" stroke="#b0b0b0" stroke-width="1" stroke-dasharray="3,3"/>
<g clip-path="url(#c2)">
<line x1="1067.5" y1="175.5" x2="1067.5" y2="177" stroke="#ff0000" stroke-width="1" />
<line x1="1073.5" y1="174.3" x2="1073.5" y2="177" stroke="#ff0000" stroke-width="1" />
<line x1="1079.5" y1="174.6" x2="1079.5" y2="177" stroke="#ff0000" stroke-width="1" />
<line x1="1085.5" y1="175.6" x2="1085.5" y2="177" stroke="#ff0000" stroke-width="1" />
<line x1="1103.5" y1="177" x2="1103.5" y2="178.4" stroke="#0000ff" stroke-width="1" />
<line x1="1109.5" y1="177" x2="1109.5" y2="180" stroke="#0000ff" stroke-width="1" />
<line x1="1115.5" y1="177" x2="1115.5" y2="181" stroke="#0000ff" stroke-width="1" />
<line x1="1121.5" y1="177" x2="1121.5" y2="181" stroke="#0000ff" stroke-width="1" />
<line x1="1127.5" y1="177" x2="1127.5" y2="181.1" stroke="#0000ff" stroke-width="1" />
<line x1="1133.5" y1="177" x2="1133.5" y2="181.1" stroke="#0000ff" stroke-width="1" />
<line x1="1139.5" y1="177" x2="1139.5" y2="181.1" stroke="#0000ff" stroke-width="1" />
<line x1="1145.5" y1="177" x2="1145.5" y2="181.2" stroke="#0000ff" stroke-width="1" />
<line x1="1151.5" y1="177" x2="1151.5" y2="181.2" stroke="#0000ff" stroke-width="1" />
<line x1="1157.5" y1="177" x2="1157.5" y2="181.2" stroke="#0000ff" stroke-width="1" />
<line x1="1163.5" y1="177" x2="1163.5" y2="181.3" stroke="#0000ff" stroke-width="1" />
<line x1="1169.5" y1="177" x2="1169.5" y2="181.3" stroke="#0000ff" stroke-width="1" />
<line x1="1175.5" y1="177" x2="1175.5" y2="181.3" stroke="#0000ff" stroke-width="1" />
<line x1="1181.5" y1="177" x2="1181.5" y2="181.4" stroke="#0000ff" stroke-width="1" />
<line x1="1187.5" y1="177" x2="1187.5" y2="181.4" stroke="#0000ff" stroke-width="1" />
<line x1="1193.5" y1="177" x2="1193.5" y2="181.4" stroke="#0000ff" stroke-width="1" />
<line x1="1199.5" y1="177" x2="1199.5" y2="181.4" stroke="#0000ff" stroke-width="1" />
<line x1="1205.5" y1="177" x2="1205.5" y2="181.5" stroke="#0000ff" stroke-width="1" />
<line x1="1211.5" y1="177" x2="1211.5" y2="182" stroke="#0000ff" stroke-width="1" />
<line x1="1217.5" y1="182" x2="1217.5" y2="184" stroke="#0000ff" stroke-width="1" />
<line x1="1223.5" y1="182.3" x2="1223.5" y2="184.6" stroke="#0000ff" stroke-width="1" />
<line x1="1229.5" y1="182.5" x2="1229.5" y2="185.1" stroke="#0000ff" stroke-width="1" />
<line x1="1235.5" y1="182.8" x2="1235.5" y2="185.6" stroke="#0000ff" stroke-width="1" />
<line x1="1241.5" y1="183.6" x2="1241.5" y2="186.2" stroke="#0000ff" stroke-width="1" />
<line x1="1247.5" y1="185" x2="1247.5" y2="193.2" stroke="#0000ff" stroke-width="1" />
<line x1="1253.5" y1="185" x2="1253.5" y2="193.8" stroke="#0000ff" stroke-width="1" />
<line x1="1259.5" y1="185" x2="1259.5" y2="194.2" stroke="#0000ff" stroke-width="1" />
<line x1="1265.5" y1="185" x2="1265.5" y2="194.4" stroke="#0000ff" stroke-width="1" />
<line x1="1271.5" y1="185" x2="1271.5" y2="194.3" stroke="#0000ff" stroke-width="1" />
<line x1="1277.5" y1="185" x2="1277.5" y2="194.2" stroke="#0000ff" stroke-width="1" />
<line x1="1283.5" y1="185" x2="1283.5" y2="194.1" stroke="#0000ff" stroke-width="1" />
<line x1="1289.5" y1="185" x2="1289.5" y2="193.9" stroke="#0000ff" stroke-width="1" />
<line x1="1295.5" y1="185" x2="1295.5" y2="193.8" stroke="#0000ff" stroke-width="1" />
<line x1="1301.5" y1="185" x2="1301.5" y2="190.8" stroke="#0000ff" stroke-width="1" />
<line x1="1307.5" y1="185" x2="1307.5" y2="188.8" stroke="#0000ff" stroke-width="1" />
<line x1="1313.5" y1="186.2" x2="1313.5" y2="195.2" stroke="#0000ff" stroke-width="1" />
<line x1="1319.5" y1="186.2" x2="1319.5" y2="195.4" stroke="#0000ff" stroke-width="1" />
<line x1="1325.5" y1="186.2" x2="1325.5" y2="195.3" stroke="#0000ff" stroke-width="1" />
<line x1="1331.5" y1="186.2" x2="1331.5" y2="195.1" stroke="#0000ff" stroke-width="1" />
<line x1="1337.5" y1="186.2" x2="1337.5" y2="195" stroke="#0000ff" stroke-width="1" />
<line x1="1343.5" y1="186.2" x2="1343.5" y2="194.9" stroke="#0000ff" stroke-width="1" />
<line x1="1349.5" y1="186.2" x2="1349.5" y2="194.7" stroke="#0000ff" stroke-width="1" />
<line x1="1355.5" y1="186.2" x2="1355.5" y2="194.6" stroke="#0000ff" stroke-width="1" />
<line x1="1361.5" y1="186.2" x2="1361.5" y2="194.2" stroke="#0000ff" stroke-width="1" />
<line x1="1367.5" y1="187" x2="1367.5" y2="188.2" stroke="#0000ff" stroke-width="1" />
<line x1="1373.5" y1="184.4" x2="1373.5" y2="186.1" stroke="#0000ff" stroke-width="1" />
<line x1="1379.5" y1="183.8" x2="1379.5" y2="185.1" stroke="#0000ff" stroke-width="1" />
<line x1="1385.5" y1="178.7" x2="1385.5" y2="182.2" stroke="#ff0000" stroke-width="1" />
<line x1="1403.5" y1="167.3" x2="1403.5" y2="170" stroke="#ff0000" stroke-width="1" />
<line x1="1409.5" y1="163.6" x2="1409.5" y2="170" stroke="#ff0000" stroke-width="1" />
<line x1="1415.5" y1="160" x2="1415.5" y2="170" stroke="#ff0000" stroke-width="1" />
<line x1="1421.5" y1="156.8" x2="1421.5" y2="170" stroke="#ff0000" stroke-width="1" />
<line x1="1427.5" y1="153.8" x2="1427.5" y2="170" stroke="#ff0000" stroke-width="1" />
<line x1="1433.5" y1="154.2" x2="1433.5" y2="170" stroke="#ff0000" stroke-width="1" />
<line x1="1439.5" y1="155.7" x2="1439.5" y2="170" stroke="#ff0000" stroke-width="1" />
<line x1="1445.5" y1="153.8" x2="1445.5" y2="170" stroke="#ff0000" stroke-width="1" />
<line x1="1451.5" y1="152.3" x2="1451.5" y2="170" stroke="#ff0000" stroke-width="1" />
<line x1="1457.5" y1="151.8" x2="1457.5" y2="170" stroke="#ff0000" stroke-width="1" />
<line x1="1463.5" y1="151.2" x2="1463.5" y2="170" stroke="#ff0000" stroke-width="1" />
<line x1="1469.5" y1="150.6" x2="1469.5" y2="170" stroke="#ff0000" stroke-width="1" />
<line x1="1475.5" y1="149.9" x2="1475.5" y2="170" stroke="#ff0000" stroke-width="1" />
<line x1="1481.5" y1="148.7" x2="1481.5" y2="170" stroke="#ff0000" stroke-width="1" />
<line x1="1487.5" y1="147.5" x2="1487.5" y2="170" stroke="#ff0000" stroke-width="1" />
<line x1="1493.5" y1="145.7" x2="1493.5" y2="170" stroke="#ff0000" stroke-width="1" />
<line x1="1499.5" y1="143.9" x2="1499.5" y2="170" stroke="#ff0000" stroke-width="1" />
<line x1="1505.5" y1="142.1" x2="1505.5" y2="170" stroke="#ff0000" stroke-width="1" />
<line x1="1511.5" y1="140.3" x2="1511.5" y2="170" stroke="#ff0000" stroke-width="1" />
<line x1="1517.5" y1="138.5" x2="1517.5" y2="170" stroke="#ff0000" stroke-width="1" />
<line x1="1523.5" y1="136.7" x2="1523.5" y2="170" stroke="#ff0000" stroke-width="1" />
<line x1="1529.5" y1="134" x2="1529.5" y2="170" stroke="#ff0000" stroke-width="1" />
<line x1="1535.5" y1="131" x2="1535.5" y2="170" stroke="#ff0000" stroke-width="1" />
<line x1="1541.5" y1="129.7" x2="1541.5" y2="170" stroke="#ff0000" stroke-width="1" />
<line x1="1547.5" y1="133.4" x2="1547.5" y2="170" stroke="#ff0000" stroke-width="1" />
<line x1="1553.5" y1="135.3" x2="1553.5" y2="170" stroke="#ff0000" stroke-width="1" />
<line x1="1559.5" y1="135.8" x2="1559.5" y2="170" stroke="#ff0000" stroke-width="1" />
<line x1="1565.5" y1="134.1" x2="1565.5" y2="170" stroke="#ff0000" stroke-width="1" />
<line x1="1571.5" y1="93" x2="1571.5" y2="129.8" stroke="#ff0000" stroke-width="1" />
<line x1="1577.5" y1="93" x2="1577.5" y2="122.5" stroke="#ff0000" stroke-width="1" />
<line x1="1583.5" y1="93.2" x2="1583.5" y2="123.1" stroke="#ff0000" stroke-width="1" />
<line x1="1589.5" y1="92.9" x2="1589.5" y2="123.8" stroke="#ff0000" stroke-width="1" />
<line x1="1595.5" y1="90.4" x2="1595.5" y2="123.8" stroke="#ff0000" stroke-width="1" />
<line x1="1601.5" y1="87.9" x2="1601.5" y2="123.8" stroke="#ff0000" stroke-width="1" />
<line x1="1607.5" y1="86.9" x2="1607.5" y2="123.8" stroke="#ff0000" stroke-width="1" />
<line x1="1613.5" y1="85.7" x2="1613.5" y2="123.8" stroke="#ff0000" stroke-width="1" />
<line x1="1619.5" y1="82" x2="1619.5" y2="122.9" stroke="#ff0000" stroke-width="1" />
<line x1="1625.5" y1="78.8" x2="1625.5" y2="121.9" stroke="#ff0000" stroke-width="1" />
<line x1="1631.5" y1="79.8" x2="1631.5" y2="120.8" stroke="#ff0000" stroke-width="1" />
<line x1="1637.5" y1="80.7" x2="1637.5" y2="119.7" stroke="#ff0000" stroke-width="1" />
<line x1="1643.5" y1="81.6" x2="1643.5" y2="118.7" stroke="#ff0000" stroke-width="1" />
<line x1="1649.5" y1="82.4" x2="1649.5" y2="117.6" stroke="#ff0000" stroke-width="1" />
<line x1="1655.5" y1="83.9" x2="1655.5" y2="115.4" stroke="#ff0000" stroke-width="1" />
<line x1="1661.5" y1="86.2" x2="1661.5" y2="113" stroke="#ff0000" stroke-width="1" />
<line x1="1667.5" y1="91" x2="1667.5" y2="110" stroke="#ff0000" stroke-width="1" />
<line x1="1673.5" y1="95.3" x2="1673.5" y2="105.2" stroke="#ff0000" stroke-width="1" />
<line x1="1679.5" y1="97.3" x2="1679.5" y2="99.2" stroke="#ff0000" stroke-width="1" />
<line x1="1691.5" y1="94.6" x2="1691.5" y2="97" stroke="#0000ff" stroke-width="1" />
<line x1="1697.5" y1="92.5" x2="1697.5" y2="95" stroke="#0000ff" stroke-width="1" />
<line x1="1703.5" y1="92.5" x2="1703.5" y2="96" stroke="#0000ff" stroke-width="1" />
<line x1="1709.5" y1="92.5" x2="1709.5" y2="96.6" stroke="#0000ff" stroke-width="1" />
<line x1="1715.5" y1="92.5" x2="1715.5" y2="97.1" stroke="#0000ff" stroke-width="1" />
<line x1="1721.5" y1="92.5" x2="1721.5" y2="98.8" stroke="#0000ff" stroke-width="1" />
<line x1="1727.5" y1="92.5" x2="1727.5" y2="104.2" stroke="#0000ff" stroke-width="1" />
<line x1="1733.5" y1="92.5" x2="1733.5" y2="108.9" stroke="#0000ff" stroke-width="1" />
<line x1="1739.5" y1="92.5" x2="1739.5" y2="110" stroke="#0000ff" stroke-width="1" />
<line x1="1745.5" y1="92.5" x2="1745.5" y2="111.1" stroke="#0000ff" stroke-width="1" />
<polyline points="1055,178 1075,174 1082,175 1107,179 1112,181 1210,181.5 1217,184 1240,186 1242.5,186.2 1247.5,193.2 1262.5,194.5 1297.5,193.8 1302.5,190 1307.5,188.8 1313.8,195.5 1361.2,194.5 1366.2,188.8 1372.5,186.2 1380,185 1385,178.8 1392.5,177.5 1395,172.5 1417.5,158.8 1430,152.5 1437.5,156.2 1450,152.5 1475,150 1487.5,147.5 1500,143.8 1512.5,140 1525,136.2 1540,128.8 1550,135 1565,136.2 1568.8,120 1570,100 1571.2,93 1582.5,93 1587.5,93.8 1602.5,87.5 1612.5,86.2 1625,78.8 1632.5,80 1650,82.5 1660,85 1672.5,95 1680,97.5 1687.5,98.2 1697.5,95 1705,96.2 1720,97.5 1732.5,108.8 1746.2,111.2 1750,111.2" fill="none" stroke="#00ffff" stroke-width="1" />
<polyline points="1055,178 1067,177 1212,177 1217,182 1240,183 1245,185 1307.5,185 1310,186.2 1362.5,186.2 1367.5,187 1375,183.8 1382.5,183.8 1387.5,181.2 1392.5,177.5 1396.2,170 1566.2,170 1568.8,150 1572.5,122.5 1580,122.5 1587.5,123.8 1615,123.8 1650,117.5 1660,113.8 1670,108.8 1680,100 1680,98.8 1685,97.5 1696.2,92.5 1749.2,92.5" fill="none" stroke="#ff0000" stroke-width="1" />
<line x1="1055.5" y1="175" x2="1055.5" y2="183.8" stroke="#0000ff" stroke-width="1" />
<rect x="1054" y="175" width="3" height="8.8" fill="#0000ff" />
<line x1="1061.5" y1="176.2" x2="1061.5" y2="185" stroke="#ff0000" stroke-width="1" />
<rect x="1060" y="176.2" width="3" height="8.8" fill="#ff0000" />
<line x1="1067.5" y1="176.2" x2="1067.5" y2="191.2" stroke="#0000ff" stroke-width="1" />
<rect x="1066" y="176.2" width="3" height="10" fill="#0000ff" />
<line x1="1073.5" y1="181.2" x2="1073.5" y2="191.2" stroke="#ff0000" stroke-width="1" />
<rect x="1072" y="181.2" width="3" height="6.2" fill="#ff0000" />
<line x1="1079.5" y1="175" x2="1079.5" y2="187.5" stroke="#0000ff" stroke-width="1" />
<rect x="1078" y="180" width="3" height="1.5" fill="#0000ff" />
<line x1="1085.5" y1="177.5" x2="1085.5" y2="185" stroke="#0000ff" stroke-width="1" />
<rect x="1084" y="181.2" width="3" height="1.2" fill="#0000ff" />
<line x1="1091.5" y1="192.5" x2="1091.5" y2="202.5" stroke="#0000ff" stroke-width="1" />
<rect x="1090" y="193" width="3" height="1.5" fill="#0000ff" />
<line x1="1097.5" y1="192.5" x2="1097.5" y2="217.5" stroke="#0000ff" stroke-width="1" />
<rect x="1096" y="193.8" width="3" height="3.8" fill="#0000ff" />
<line x1="1103.5" y1="187.5" x2="1103.5" y2="198.8" stroke="#ff0000" stroke-width="1" />
<rect x="1102" y="187.5" width="3" height="11.2" fill="#ff0000" />
<line x1="1109.5" y1="181.2" x2="1109.5" y2="193.8" stroke="#ff0000" stroke-width="1" />
<rect x="1108" y="181.2" width="3" height="7.5" fill="#ff0000" />
<line x1="1115.5" y1="172.5" x2="1115.5" y2="187.5" stroke="#ff0000" stroke-width="1" />
<rect x="1114" y="176.2" width="3" height="5" fill="#ff0000" />
<line x1="1121.5" y1="172.5" x2="1121.5" y2="183.8" stroke="#0000ff" stroke-width="1" />
<rect x="1120" y="177" width="3" height="1.5" fill="#0000ff" />
<line x1="1127.5" y1="172.5" x2="1127.5" y2="191.2" stroke="#0000ff" stroke-width="1" />
<rect x="1126" y="176.2" width="3" height="11.2" fill="#0000ff" />
<line x1="1133.5" y1="180" x2="1133.5" y2="191.2" stroke="#0000ff" stroke-width="1" />
<rect x="1132" y="185" width="3" height="1.5" fill="#0000ff" />
<line x1="1139.5" y1="181.2" x2="1139.5" y2="191.2" stroke="#0000ff" stroke-width="1" />
<rect x="1138" y="182.5" width="3" height="5" fill="#0000ff" />
<line x1="1145.5" y1="181.2" x2="1145.5" y2="187.5" stroke="#0000ff" stroke-width="1" />
<rect x="1144" y="183" width="3" height="1.5" fill="#0000ff" />
<line x1="1151.5" y1="181.2" x2="1151.5" y2="193.8" stroke="#ff0000" stroke-width="1" />
<rect x="1150" y="181.2" width="3" height="12.5" fill="#ff0000" />
<line x1="1157.5" y1="178.8" x2="1157.5" y2="187.5" stroke="#0000ff" stroke-width="1" />
<rect x="1156" y="182.5" width="3" height="1.5" fill="#0000ff" />
<line x1="1163.5" y1="176.2" x2="1163.5" y2="221.2" stroke="#0000ff" stroke-width="1" />
<rect x="1162" y="181.2" width="3" height="12.5" fill="#0000ff" />
<line x1="1169.5" y1="172.5" x2="1169.5" y2="186.2" stroke="#ff0000" stroke-width="1" />
<rect x="1168" y="178.8" width="3" height="7.5" fill="#ff0000" />
<line x1="1175.5" y1="168.8" x2="1175.5" y2="202.5" stroke="#0000ff" stroke-width="1" />
<rect x="1174" y="178.8" width="3" height="20" fill="#0000ff" />
<line x1="1181.5" y1="178.8" x2="1181.5" y2="210" stroke="#0000ff" stroke-width="1" />
<rect x="1180" y="195" width="3" height="3.8" fill="#0000ff" />
<line x1="1187.5" y1="193.8" x2="1187.5" y2="198.8" stroke="#ff0000" stroke-width="1" />
<rect x="1186" y="194.5" width="3" height="1" fill="#ff0000" />
<line x1="1193.5" y1="187.5" x2="1193.5" y2="198.8" stroke="#ff0000" stroke-width="1" />
<rect x="1192" y="187.5" width="3" height="7.5" fill="#ff0000" />
<line x1="1199.5" y1="181.2" x2="1199.5" y2="191.2" stroke="#0000ff" stroke-width="1" />
<rect x="1198" y="185" width="3" height="1.5" fill="#0000ff" />
<line x1="1205.5" y1="180" x2="1205.5" y2="193.8" stroke="#ff0000" stroke-width="1" />
<rect x="1204" y="180" width="3" height="13.8" fill="#ff0000" />
<line x1="1211.5" y1="177" x2="1211.5" y2="183.8" stroke="#ff0000" stroke-width="1" />
<rect x="1210" y="177" width="3" height="4.2" fill="#ff0000" />
<line x1="1217.5" y1="157.5" x2="1217.5" y2="187.5" stroke="#ff0000" stroke-width="1" />
<rect x="1216" y="157.5" width="3" height="30" fill="#ff0000" />
<line x1="1223.5" y1="150" x2="1223.5" y2="161.2" stroke="#0000ff" stroke-width="1" />
<rect x="1222" y="155.5" width="3" height="1.5" fill="#0000ff" />
<line x1="1229.5" y1="155" x2="1229.5" y2="161.2" stroke="#ff0000" stroke-width="1" />
<rect x="1228" y="155" width="3" height="1" fill="#ff0000" />
<line x1="1235.5" y1="146.2" x2="1235.5" y2="155.5" stroke="#ff0000" stroke-width="1" />
<rect x="1234" y="150" width="3" height="5.5" fill="#ff0000" />
<line x1="1247.5" y1="120" x2="1247.5" y2="131.2" stroke="#0000ff" stroke-width="1" />
<rect x="1246" y="120" width="3" height="11.2" fill="#0000ff" />
<line x1="1253.5" y1="127.5" x2="1253.5" y2="135" stroke="#0000ff" stroke-width="1" />
<rect x="1252" y="130" width="3" height="1.5" fill="#0000ff" />
<line x1="1259.5" y1="128.8" x2="1259.5" y2="135" stroke="#0000ff" stroke-width="1" />
<rect x="1258" y="128.8" width="3" height="3.8" fill="#0000ff" />
<line x1="1265.5" y1="131.2" x2="1265.5" y2="138.8" stroke="#0000ff" stroke-width="1" />
<rect x="1264" y="131.2" width="3" height="7.5" fill="#0000ff" />
<line x1="1271.5" y1="123.8" x2="1271.5" y2="140" stroke="#0000ff" stroke-width="1" />
<rect x="1270" y="132.5" width="3" height="3.8" fill="#0000ff" />
<line x1="1277.5" y1="135" x2="1277.5" y2="142.5" stroke="#0000ff" stroke-width="1" />
<rect x="1276" y="135" width="3" height="7.5" fill="#0000ff" />
<line x1="1283.5" y1="140" x2="1283.5" y2="147.5" stroke="#0000ff" stroke-width="1" />
<rect x="1282" y="140" width="3" height="3.8" fill="#0000ff" />
<line x1="1289.5" y1="140" x2="1289.5" y2="147.5" stroke="#0000ff" stroke-width="1" />
<rect x="1288" y="142.5" width="3" height="1.5" fill="#0000ff" />
<line x1="1295.5" y1="142.5" x2="1295.5" y2="151.2" stroke="#0000ff" stroke-width="1" />
<rect x="1294" y="142.5" width="3" height="5" fill="#0000ff" />
<line x1="1301.5" y1="138.8" x2="1301.5" y2="146.2" stroke="#ff0000" stroke-width="1" />
<rect x="1300" y="138.8" width="3" height="7.5" fill="#ff0000" />
<line x1="1307.5" y1="136.2" x2="1307.5" y2="140" stroke="#0000ff" stroke-width="1" />
<rect x="1306" y="136.2" width="3" height="1" fill="#0000ff" />
<line x1="1313.5" y1="135" x2="1313.5" y2="140" stroke="#ff0000" stroke-width="1" />
<rect x="1312" y="136.2" width="3" height="2.5" fill="#ff0000" />
<line x1="1319.5" y1="131.2" x2="1319.5" y2="140" stroke="#0000ff" stroke-width="1" />
<rect x="1318" y="135" width="3" height="1.5" fill="#0000ff" />
<line x1="1325.5" y1="131.2" x2="1325.5" y2="140" stroke="#0000ff" stroke-width="1" />
<rect x="1324" y="135" width="3" height="1.5" fill="#0000ff" />
<line x1="1331.5" y1="131.2" x2="1331.5" y2="138.8" stroke="#ff0000" stroke-width="1" />
<rect x="1330" y="131.2" width="3" height="7.5" fill="#ff0000" />
<line x1="1337.5" y1="128.8" x2="1337.5" y2="135" stroke="#ff0000" stroke-width="1" />
<rect x="1336" y="128.8" width="3" height="6.2" fill="#ff0000" />
<line x1="1343.5" y1="128.8" x2="1343.5" y2="132.5" stroke="#0000ff" stroke-width="1" />
<rect x="1342" y="128.8" width="3" height="3.8" fill="#0000ff" />
<line x1="1349.5" y1="130" x2="1349.5" y2="135" stroke="#ff0000" stroke-width="1" />
<rect x="1348" y="131.2" width="3" height="2.5" fill="#ff0000" />
<line x1="1355.5" y1="131.2" x2="1355.5" y2="136.2" stroke="#0000ff" stroke-width="1" />
<rect x="1354" y="131.2" width="3" height="5" fill="#0000ff" />
<line x1="1361.5" y1="131.2" x2="1361.5" y2="136.2" stroke="#ff0000" stroke-width="1" />
<rect x="1360" y="132.5" width="3" height="2.5" fill="#ff0000" />
<line x1="1367.5" y1="123.8" x2="1367.5" y2="142.5" stroke="#0000ff" stroke-width="1" />
<rect x="1366" y="133.8" width="3" height="2.5" fill="#0000ff" />
<line x1="1373.5" y1="135" x2="1373.5" y2="142.5" stroke="#0000ff" stroke-width="1" />
<rect x="1372" y="137.5" width="3" height="1.5" fill="#0000ff" />
<line x1="1379.5" y1="131.2" x2="1379.5" y2="141.2" stroke="#0000ff" stroke-width="1" />
<rect x="1378" y="133.8" width="3" height="7.5" fill="#0000ff" />
<line x1="1385.5" y1="135" x2="1385.5" y2="140" stroke="#ff0000" stroke-width="1" />
<rect x="1384" y="136.2" width="3" height="2.5" fill="#ff0000" />
<line x1="1391.5" y1="136.2" x2="1391.5" y2="150" stroke="#0000ff" stroke-width="1" />
<rect x="1390" y="140" width="3" height="3.8" fill="#0000ff" />
<line x1="1397.5" y1="131.2" x2="1397.5" y2="147.5" stroke="#ff0000" stroke-width="1" />
<rect x="1396" y="131.2" width="3" height="16.2" fill="#ff0000" />
<line x1="1403.5" y1="122.5" x2="1403.5" y2="131.2" stroke="#ff0000" stroke-width="1" />
<rect x="1402" y="122.5" width="3" height="8.8" fill="#ff0000" />
<line x1="1409.5" y1="120" x2="1409.5" y2="127.5" stroke="#0000ff" stroke-width="1" />
<rect x="1408" y="122.5" width="3" height="2.5" fill="#0000ff" />
<line x1="1421.5" y1="41.2" x2="1421.5" y2="102.5" stroke="#ff0000" stroke-width="1" />
<rect x="1420" y="57.5" width="3" height="45" fill="#ff0000" />
<line x1="1427.5" y1="43.8" x2="1427.5" y2="65" stroke="#ff0000" stroke-width="1" />
<rect x="1426" y="52.5" width="3" height="10" fill="#ff0000" />
<line x1="1433.5" y1="48.8" x2="1433.5" y2="68.8" stroke="#0000ff" stroke-width="1" />
<rect x="1432" y="56.2" width="3" height="2.5" fill="#0000ff" />
<line x1="1439.5" y1="48.8" x2="1439.5" y2="72.5" stroke="#0000ff" stroke-width="1" />
<rect x="1438" y="57.5" width="3" height="7.5" fill="#0000ff" />
<line x1="1445.5" y1="53.8" x2="1445.5" y2="68.8" stroke="#ff0000" stroke-width="1" />
<rect x="1444" y="58.8" width="3" height="2.5" fill="#ff0000" />
<line x1="1451.5" y1="52.5" x2="1451.5" y2="65" stroke="#ff0000" stroke-width="1" />
<rect x="1450" y="60" width="3" height="3.8" fill="#ff0000" />
<line x1="1457.5" y1="58.8" x2="1457.5" y2="68.8" stroke="#0000ff" stroke-width="1" />
<rect x="1456" y="62.5" width="3" height="1.5" fill="#0000ff" />
<line x1="1463.5" y1="52.5" x2="1463.5" y2="68.8" stroke="#0000ff" stroke-width="1" />
<rect x="1462" y="61.2" width="3" height="6.2" fill="#0000ff" />
<line x1="1469.5" y1="67.5" x2="1469.5" y2="87.5" stroke="#0000ff" stroke-width="1" />
<rect x="1468" y="68.8" width="3" height="18.8" fill="#0000ff" />
<line x1="1475.5" y1="80" x2="1475.5" y2="87.5" stroke="#ff0000" stroke-width="1" />
<rect x="1474" y="82.5" width="3" height="1.5" fill="#ff0000" />
<line x1="1481.5" y1="78.8" x2="1481.5" y2="87.5" stroke="#0000ff" stroke-width="1" />
<rect x="1480" y="82.5" width="3" height="1.5" fill="#0000ff" />
<line x1="1487.5" y1="82.5" x2="1487.5" y2="90" stroke="#ff0000" stroke-width="1" />
<rect x="1486" y="83.8" width="3" height="3.8" fill="#ff0000" />
<line x1="1493.5" y1="78.8" x2="1493.5" y2="87.5" stroke="#ff0000" stroke-width="1" />
<rect x="1492" y="79.5" width="3" height="4.2" fill="#ff0000" />
<line x1="1499.5" y1="75" x2="1499.5" y2="83.8" stroke="#0000ff" stroke-width="1" />
<rect x="1498" y="78.8" width="3" height="1.5" fill="#0000ff" />
<line x1="1505.5" y1="78.8" x2="1505.5" y2="101.2" stroke="#0000ff" stroke-width="1" />
<rect x="1504" y="79.5" width="3" height="15.5" fill="#0000ff" />
<line x1="1511.5" y1="91.2" x2="1511.5" y2="97.5" stroke="#ff0000" stroke-width="1" />
<rect x="1510" y="91.2" width="3" height="6.2" fill="#ff0000" />
<line x1="1517.5" y1="83.8" x2="1517.5" y2="98.8" stroke="#0000ff" stroke-width="1" />
<rect x="1516" y="91.2" width="3" height="7.5" fill="#0000ff" />
<line x1="1523.5" y1="93.8" x2="1523.5" y2="102.5" stroke="#ff0000" stroke-width="1" />
<rect x="1522" y="93.8" width="3" height="5" fill="#ff0000" />
<line x1="1529.5" y1="93.8" x2="1529.5" y2="128.8" stroke="#0000ff" stroke-width="1" />
<rect x="1528" y="93.8" width="3" height="27.5" fill="#0000ff" />
<line x1="1535.5" y1="113.8" x2="1535.5" y2="136.2" stroke="#0000ff" stroke-width="1" />
<rect x="1534" y="120" width="3" height="10" fill="#0000ff" />
<line x1="1541.5" y1="113.8" x2="1541.5" y2="131.2" stroke="#ff0000" stroke-width="1" />
<rect x="1540" y="113.8" width="3" height="17.5" fill="#ff0000" />
<line x1="1547.5" y1="107.5" x2="1547.5" y2="117.5" stroke="#ff0000" stroke-width="1" />
<rect x="1546" y="112.5" width="3" height="3.8" fill="#ff0000" />
<line x1="1553.5" y1="110" x2="1553.5" y2="123.8" stroke="#0000ff" stroke-width="1" />
<rect x="1552" y="113.8" width="3" height="10" fill="#0000ff" />
<line x1="1559.5" y1="113.8" x2="1559.5" y2="123.8" stroke="#ff0000" stroke-width="1" />
<rect x="1558" y="116.2" width="3" height="3.8" fill="#ff0000" />
<line x1="1565.5" y1="116.2" x2="1565.5" y2="128.8" stroke="#0000ff" stroke-width="1" />
<rect x="1564" y="120" width="3" height="8.8" fill="#0000ff" />
<line x1="1571.5" y1="121.2" x2="1571.5" y2="125" stroke="#ff0000" stroke-width="1" />
<rect x="1570" y="122" width="3" height="1.5" fill="#ff0000" />
<line x1="1577.5" y1="135" x2="1577.5" y2="142.5" stroke="#ff0000" stroke-width="1" />
<rect x="1576" y="135" width="3" height="5" fill="#ff0000" />
<line x1="1583.5" y1="128.8" x2="1583.5" y2="140" stroke="#ff0000" stroke-width="1" />
<rect x="1582" y="131.2" width="3" height="5" fill="#ff0000" />
<line x1="1589.5" y1="127.5" x2="1589.5" y2="135" stroke="#ff0000" stroke-width="1" />
<rect x="1588" y="130" width="3" height="1.5" fill="#ff0000" />
<line x1="1595.5" y1="127.5" x2="1595.5" y2="135" stroke="#0000ff" stroke-width="1" />
<rect x="1594" y="130" width="3" height="1.5" fill="#0000ff" />
<line x1="1601.5" y1="128.8" x2="1601.5" y2="135" stroke="#0000ff" stroke-width="1" />
<rect x="1600" y="131.2" width="3" height="1.5" fill="#0000ff" />
<line x1="1607.5" y1="127.5" x2="1607.5" y2="135" stroke="#ff0000" stroke-width="1" />
<rect x="1606" y="127.5" width="3" height="7.5" fill="#ff0000" />
<line x1="1613.5" y1="127.5" x2="1613.5" y2="132.5" stroke="#0000ff" stroke-width="1" />
<rect x="1612" y="128.8" width="3" height="1.5" fill="#0000ff" />
<line x1="1619.5" y1="126.2" x2="1619.5" y2="131.2" stroke="#0000ff" stroke-width="1" />
<rect x="1618" y="128" width="3" height="1.5" fill="#0000ff" />
<line x1="1625.5" y1="128.8" x2="1625.5" y2="135" stroke="#0000ff" stroke-width="1" />
<rect x="1624" y="128.8" width="3" height="6.2" fill="#0000ff" />
<line x1="1631.5" y1="128.8" x2="1631.5" y2="131.2" stroke="#ff0000" stroke-width="1" />
<rect x="1630" y="128.8" width="3" height="2.5" fill="#ff0000" />
<line x1="1637.5" y1="128.8" x2="1637.5" y2="135" stroke="#ff0000" stroke-width="1" />
<rect x="1636" y="128.8" width="3" height="1.5" fill="#ff0000" />
<line x1="1643.5" y1="128.8" x2="1643.5" y2="135" stroke="#0000ff" stroke-width="1" />
<rect x="1642" y="131.2" width="3" height="1.5" fill="#0000ff" />
<line x1="1649.5" y1="131.2" x2="1649.5" y2="141.2" stroke="#0000ff" stroke-width="1" />
<rect x="1648" y="131.2" width="3" height="10" fill="#0000ff" />
<line x1="1655.5" y1="139.5" x2="1655.5" y2="142" stroke="#0000ff" stroke-width="1" />
<rect x="1654" y="139.5" width="3" height="2.5" fill="#0000ff" />
<line x1="1661.5" y1="137.5" x2="1661.5" y2="142" stroke="#0000ff" stroke-width="1" />
<rect x="1660" y="137.5" width="3" height="4.5" fill="#0000ff" />
<line x1="1667.5" y1="138.8" x2="1667.5" y2="146.2" stroke="#ff0000" stroke-width="1" />
<rect x="1666" y="141.2" width="3" height="1.5" fill="#ff0000" />
<line x1="1673.5" y1="136.2" x2="1673.5" y2="141.2" stroke="#ff0000" stroke-width="1" />
<rect x="1672" y="136.2" width="3" height="5" fill="#ff0000" />
<line x1="1679.5" y1="135" x2="1679.5" y2="138.8" stroke="#ff0000" stroke-width="1" />
<rect x="1678" y="135" width="3" height="3.8" fill="#ff0000" />
<line x1="1685.5" y1="127.5" x2="1685.5" y2="138.8" stroke="#ff0000" stroke-width="1" />
<rect x="1684" y="127.5" width="3" height="11.2" fill="#ff0000" />
<line x1="1691.5" y1="127.5" x2="1691.5" y2="138.8" stroke="#0000ff" stroke-width="1" />
<rect x="1690" y="128.8" width="3" height="10" fill="#0000ff" />
<line x1="1697.5" y1="132.5" x2="1697.5" y2="138.8" stroke="#0000ff" stroke-width="1" />
<rect x="1696" y="132.5" width="3" height="6.2" fill="#0000ff" />
<line x1="1703.5" y1="132.5" x2="1703.5" y2="138.8" stroke="#ff0000" stroke-width="1" />
<rect x="1702" y="132.5" width="3" height="6.2" fill="#ff0000" />
<line x1="1709.5" y1="132.5" x2="1709.5" y2="140" stroke="#0000ff" stroke-width="1" />
<rect x="1708" y="132.5" width="3" height="6.2" fill="#0000ff" />
<line x1="1715.5" y1="133.8" x2="1715.5" y2="141.2" stroke="#0000ff" stroke-width="1" />
<rect x="1714" y="136.2" width="3" height="1.5" fill="#0000ff" />
<line x1="1721.5" y1="136.2" x2="1721.5" y2="146.2" stroke="#0000ff" stroke-width="1" />
<rect x="1720" y="136.2" width="3" height="10" fill="#0000ff" />
<line x1="1727.5" y1="140" x2="1727.5" y2="153.8" stroke="#0000ff" stroke-width="1" />
<rect x="1726" y="140" width="3" height="10" fill="#0000ff" />
<line x1="1733.5" y1="142.5" x2="1733.5" y2="157.5" stroke="#0000ff" stroke-width="1" />
<rect x="1732" y="147.5" width="3" height="1.5" fill="#0000ff" />
<line x1="1739.5" y1="143.8" x2="1739.5" y2="157.5" stroke="#0000ff" stroke-width="1" />
<rect x="1738" y="146.2" width="3" height="10" fill="#0000ff" />
<line x1="1744" y1="161.5" x2="1747" y2="161.5" stroke="#0000ff" stroke-width="1" />
<polyline points="1055,187 1200,186 1250,182.5 1300,177.5 1350,171.2 1400,165 1450,159.5 1500,156.2 1550,155 1600,153.8 1650,152.5 1694,150.5 1720,149.2 1745,148.8" fill="none" stroke="#ffff00" stroke-width="1" />
<polyline points="1055,181 1240,183 1245,182.5 1275,178.8 1325,173.8 1375,168 1400,165 1425,161.2 1475,152.5 1525,144.5 1550,140 1575,130 1600,126.2 1625,123.8 1650,121.2 1675,120 1694,119.5 1710,119.5 1745,119.5" fill="none" stroke="#500090" stroke-width="1" />
<polyline points="1055,182 1240,182 1245,182.5 1312.5,167.5 1362.5,155.5 1420,140.5 1437.5,132.5 1462.5,122.5 1487.5,115 1512.5,108.8 1537.5,105 1575,103.8 1600,106.2 1625,112.5 1650,117.5 1675,120 1694,122.5 1710,122.5 1745,131.2" fill="none" stroke="#33d6d0" stroke-width="1" />
<polyline points="1055,183 1100,185 1240,184 1245,180 1300,162.5 1360,140.5 1400,137.5 1415,133.8 1437.5,120 1462.5,107.5 1487.5,98.8 1512.5,92.5 1537.5,88.8 1562.5,87.5 1575,92.5 1600,105 1625,115 1650,122.5 1675,128.8 1694,131.2 1720,135 1745,137.5" fill="none" stroke="#0a4a14" stroke-width="1" />
<polyline points="1055,184 1100,186 1240,185 1250,171.2 1315,150 1342.5,140 1350,140 1375,136.2 1410,132.5 1425,125 1450,110 1475,96.2 1500,86.2 1517.5,80 1537.5,80 1550,86.2 1575,98.8 1600,110 1625,120 1650,126.2 1675,130 1694,132.5 1720,136.2 1745,138.8" fill="none" stroke="#ff5a14" stroke-width="1" />
<polyline points="1055,185 1100,187 1150,190 1210,190 1235,172.5 1250,160 1270,141.2 1287.5,138.8 1312.5,138.8 1340,138.8 1350,135 1375,134.5 1412.5,133.8 1420,125 1440,100 1455,80 1467.5,68.8 1475,64.5 1495,72.5 1512.5,80 1525,88.8 1537.5,97.5 1550,105 1567.5,111.2 1575,117.5 1587.5,122.5 1612.5,123.8 1625,127.5 1650,128.8 1675,133.8 1694,135 1710,136.2 1735,142.5 1745,146.2" fill="none" stroke="#00ff00" stroke-width="1" />
<polyline points="1055,183 1080,180 1100,190 1150,194 1190,186 1212,187 1212.5,187.5 1225,167.5 1240,150 1255,140 1257.5,140 1267.5,137.5 1287.5,136.2 1307.5,137.5 1325,138.8 1350,133.8 1375,132.5 1400,133.8 1415,131.2 1422.5,105 1435,80 1445,60 1455,60 1465,65 1475,75 1490,81.2 1500,76.2 1512.5,82.5 1520,92.5 1530,100 1537.5,112.5 1550,115 1562.5,117.5 1572.5,123.8 1577.5,130 1600,130 1625,131.2 1650,131.2 1662.5,137.5 1675,140 1694,133.8 1710,135 1720,137.5 1735,147.5 1745,152.5" fill="none" stroke="#ff0000" stroke-width="1" />
<polyline points="1055,185 1062.5,180 1082.5,181.2 1100,186.2 1112.5,195.2 1145,195.2 1157.5,181.2 1162.5,196.5 1175,196.5 1180,195.2 1210,194.8 1222.5,185 1235,172.5 1242.5,166.2 1247.5,157.5 1255,155 1267.5,143.8 1270,142.5 1287.5,135 1307.5,137.5 1325,140.5 1340,139.5 1350,132.5 1382.5,133.8 1385,136.2 1415,135 1418.8,110 1421.2,92.5 1440,92.5 1450,83.8 1462.5,78.8 1470,67.5 1475,65 1497.5,73.8 1510,77.5 1520,85 1530,93.8 1533.8,102.5 1547.5,107.5 1565,110 1570,117.5 1582.5,125 1615,130 1622.5,133.8 1632.5,130 1650,128.8 1667.5,133.8 1675,137.5 1694,136.2 1700,136.2 1720,136.2 1732.5,140 1743.8,143.8" fill="none" stroke="#ff0000" stroke-width="3" stroke-linejoin="round"/>
<polyline points="1055,178.8 1065,180 1067.5,185 1090,185 1097.5,193.8 1210,193.8 1225,183.8 1242.5,182.5 1247.5,171.2 1312.5,170 1320,165 1332.5,165 1337.5,158.8 1355,157.5 1367.5,150 1375,140 1382.5,138.8 1387.5,136.2 1416.2,135 1418.8,117.5 1420,96.2 1422.5,92.5 1530,92.5 1540,92.5 1555,86.2 1571.2,86.2 1580,93.8 1587.5,98.8 1612.5,98.8 1625,108.8 1650,109.2 1660,113.8 1667.5,115 1682.5,123.8 1694,125 1705,127.5 1720,135 1735,140 1743.8,142.5" fill="none" stroke="#0000ff" stroke-width="3" stroke-linejoin="round"/>
<polyline points="1058,178 1061.2,172.5 1067.5,157.5 1075,156.2 1090,147.5 1097.5,131.2 1106.2,131.2 1115,136.2 1123.8,136.2 1128.8,142.5 1138.8,142.5 1145,146.2 1160,136.2 1175,136.2 1187.5,128.8 1205,136.2 1222.5,138.8 1235,138.8 1241.2,142.5 1250,123.8 1263.8,123.8 1267.5,95 1270,75 1272.5,57.5 1277.5,53 1290,64.5 1297.5,64.5 1302.5,61.2 1307.5,61.2 1313.8,67.5 1320,87.5 1330,83.8 1335,83.8 1342.5,80 1348.8,80 1356.2,90 1361.2,90 1368.8,97.5 1373.8,94.5 1378.8,115 1382.5,121.2 1386.2,125 1393.8,113.8 1398.8,113.8 1405,121.2 1410,117 1416.2,130 1422.5,123.8 1427.5,133.8 1440,128.8 1447.5,131.2 1455,128.8 1466.2,128.8 1475,135 1487.5,128.8 1495,135 1506.2,142.5 1517.5,141.2 1535,130 1542.5,138.8 1547.5,138.8 1552.5,132.5 1560,138.8 1565,138.8 1577.5,150 1582.5,150 1595,161.2" fill="none" stroke="#008000" stroke-width="3" stroke-linejoin="round"/>
<text x="1058.8" y="29.5" fill="#000" class="j">日経</text>
<text transform="translate(1082.8 29.5) scale(.7692 1)" fill="#000" class="l" xml:space="preserve">225mini 11/09( 15</text>
<text x="1184.8" y="29.5" fill="#000" class="j">分</text>
<text transform="translate(1196.8 29.5) scale(.7692 1)" fill="#000" class="l" xml:space="preserve">, 2011/06/02 - 2011/06/10 )</text>
<text x="1378.8" y="29.5" fill="#000" class="j">移動平均</text>
<text transform="translate(1426.8 29.5) scale(.7692 1)" fill="#000" class="l" xml:space="preserve">( Close, 10 )</text>
<text x="1524.8" y="29.5" fill="#000" class="j">一目均衡表</text>
<text transform="translate(1584.8 29.5) scale(.7692 1)" fill="#000" class="l" xml:space="preserve">( 9, 26, 52 )</text>
<text x="1058.8" y="43.5" fill="#000" class="j">移動平均</text>
<text transform="translate(1106.8 43.5) scale(.7692 1)" fill="#000" class="l" xml:space="preserve">( Close, 150 )</text>
<text x="1210.8" y="43.5" fill="#000" class="j">移動平均</text>
<text transform="translate(1258.8 43.5) scale(.7692 1)" fill="#000" class="l" xml:space="preserve">( Close, 20 )</text>
<text x="1356.8" y="43.5" fill="#000" class="j">移動平均</text>
<text transform="translate(1404.8 43.5) scale(.7692 1)" fill="#000" class="l" xml:space="preserve">( Close, 5 )</text>
<text x="1496.8" y="43.5" fill="#000" class="j">移動平均</text>
<text transform="translate(1544.8 43.5) scale(.7692 1)" fill="#000" class="l" xml:space="preserve">( Close, 40 )</text>
<text x="1642.8" y="43.5" fill="#000" class="j">移動平均</text>
<text transform="translate(1690.8 43.5) scale(.7692 1)" fill="#000" class="l" xml:space="preserve">( Close, 25 )</text>
</g>
<text x="1058.8" y="247.5" fill="#000" class="j">出来高</text>
<text x="1058.8" y="340" fill="#000" class="j">移動平均</text>
<text transform="translate(1106.8 340) scale(.7692 1)" fill="#000" class="l" xml:space="preserve">( Close, 75 )</text>
<text transform="translate(1204.8 340) scale(.7692 1)" fill="#000" class="l" xml:space="preserve">MACD( 12, 26, 9 )</text>
<text x="1058.8" y="433.5" fill="#000" class="j">スロー・ストキャスティクス</text>
<text transform="translate(1214.8 433.5) scale(.7692 1)" fill="#000" class="l" xml:space="preserve">( 14, 3, 80, 20 )</text>
<rect x="1054" y="14" width="1.5" height="500" fill="#000" />
<line x1="1749.5" y1="15" x2="1749.5" y2="543" stroke="#000" stroke-width="1" />
<line x1="1054" y1="513.5" x2="1805" y2="513.5" stroke="#000" stroke-width="1" />
<line x1="1091.5" y1="513" x2="1091.5" y2="518" stroke="#000" stroke-width="1" />
<line x1="1163.5" y1="513" x2="1163.5" y2="518" stroke="#000" stroke-width="1" />
<line x1="1331.5" y1="513" x2="1331.5" y2="518" stroke="#000" stroke-width="1" />
<line x1="1421.5" y1="513" x2="1421.5" y2="518" stroke="#000" stroke-width="1" />
<line x1="1493.5" y1="513" x2="1493.5" y2="518" stroke="#000" stroke-width="1" />
<line x1="1661.5" y1="513" x2="1661.5" y2="518" stroke="#000" stroke-width="1" />
<line x1="1749" y1="35.5" x2="1755" y2="35.5" stroke="#000" stroke-width="1" />
<text transform="translate(1757.5 41) scale(.7692 1)" fill="#000" class="l" xml:space="preserve">9,620</text>
<line x1="1749" y1="72.5" x2="1755" y2="72.5" stroke="#000" stroke-width="1" />
<text transform="translate(1757.5 78) scale(.7692 1)" fill="#000" class="l" xml:space="preserve">9,570</text>
<line x1="1749" y1="109.5" x2="1755" y2="109.5" stroke="#000" stroke-width="1" />
<text transform="translate(1757.5 115) scale(.7692 1)" fill="#000" class="l" xml:space="preserve">9,520</text>
<line x1="1749" y1="146.5" x2="1755" y2="146.5" stroke="#000" stroke-width="1" />
<text transform="translate(1757.5 152) scale(.7692 1)" fill="#000" class="l" xml:space="preserve">9,470</text>
<line x1="1749" y1="183.5" x2="1755" y2="183.5" stroke="#000" stroke-width="1" />
<text transform="translate(1757.5 189) scale(.7692 1)" fill="#000" class="l" xml:space="preserve">9,420</text>
<line x1="1749" y1="221.5" x2="1755" y2="221.5" stroke="#000" stroke-width="1" />
<text transform="translate(1757.5 227) scale(.7692 1)" fill="#000" class="l" xml:space="preserve">9,370</text>
<line x1="1749" y1="252.5" x2="1755" y2="252.5" stroke="#000" stroke-width="1" />
<text transform="translate(1757.5 258) scale(.7692 1)" fill="#000" class="l" xml:space="preserve">850.00</text>
<line x1="1749" y1="289.5" x2="1755" y2="289.5" stroke="#000" stroke-width="1" />
<text transform="translate(1757.5 295) scale(.7692 1)" fill="#000" class="l" xml:space="preserve">300.00</text>
<line x1="1749" y1="345.5" x2="1755" y2="345.5" stroke="#000" stroke-width="1" />
<text transform="translate(1757.5 351) scale(.7692 1)" fill="#000" class="l" xml:space="preserve">31.00</text>
<line x1="1749" y1="382.5" x2="1755" y2="382.5" stroke="#000" stroke-width="1" />
<text transform="translate(1757.5 388) scale(.7692 1)" fill="#000" class="l" xml:space="preserve">5.00</text>
<line x1="1749" y1="438.5" x2="1755" y2="438.5" stroke="#000" stroke-width="1" />
<text transform="translate(1757.5 444) scale(.7692 1)" fill="#000" class="l" xml:space="preserve">100.00</text>
<line x1="1749" y1="476.5" x2="1755" y2="476.5" stroke="#000" stroke-width="1" />
<text transform="translate(1757.5 482) scale(.7692 1)" fill="#000" class="l" xml:space="preserve">40.00</text>
<text transform="translate(1090.5 533.5) scale(.7692 1)" fill="#000" class="l" xml:space="preserve">06/09</text>
<text transform="translate(1162.5 533.5) scale(.7692 1)" fill="#000" class="l" xml:space="preserve">12:00</text>
<text transform="translate(1330.5 533.5) scale(.7692 1)" fill="#000" class="l" xml:space="preserve">20:00</text>
<text transform="translate(1420.5 533.5) scale(.7692 1)" fill="#000" class="l" xml:space="preserve">06/10</text>
<text transform="translate(1492.5 533.5) scale(.7692 1)" fill="#000" class="l" xml:space="preserve">12:00</text>
<text transform="translate(1660.5 533.5) scale(.7692 1)" fill="#000" class="l" xml:space="preserve">20:00</text>
<rect x="1753" y="311" width="38.5" height="13.5" fill="#fff" stroke="#000" stroke-width="1"/>
<text x="1754" y="322" fill="#000" class="j">×</text>
<text transform="translate(1772 322) scale(.7692 1)" fill="#000" class="l" xml:space="preserve">100</text>
<rect x="1066" y="309.5" width="3" height="1" fill="#008000" />
<rect x="1090" y="301" width="3" height="9.5" fill="#008000" />
<rect x="1096" y="301" width="3" height="9.5" fill="#008000" />
<rect x="1102" y="304" width="3" height="6.5" fill="#008000" />
<rect x="1108" y="306" width="3" height="4.5" fill="#008000" />
<rect x="1114" y="305" width="3" height="5.5" fill="#008000" />
<rect x="1120" y="307" width="3" height="3.5" fill="#008000" />
<rect x="1126" y="306" width="3" height="4.5" fill="#008000" />
<rect x="1132" y="303" width="3" height="7.5" fill="#008000" />
<rect x="1138" y="309" width="3" height="1.5" fill="#008000" />
<rect x="1144" y="307" width="3" height="3.5" fill="#008000" />
<rect x="1162" y="297" width="3" height="13.5" fill="#008000" />
<rect x="1168" y="307" width="3" height="3.5" fill="#008000" />
<rect x="1174" y="305" width="3" height="5.5" fill="#008000" />
<rect x="1180" y="306" width="3" height="4.5" fill="#008000" />
<rect x="1192" y="307.5" width="3" height="3" fill="#008000" />
<rect x="1198" y="307" width="3" height="3.5" fill="#008000" />
<rect x="1204" y="299" width="3" height="11.5" fill="#008000" />
<rect x="1210" y="307" width="3" height="3.5" fill="#008000" />
<rect x="1216" y="296" width="3" height="14.5" fill="#008000" />
<rect x="1222" y="303.5" width="3" height="7" fill="#008000" />
<rect x="1228" y="303" width="3" height="7.5" fill="#008000" />
<rect x="1234" y="297" width="3" height="13.5" fill="#008000" />
<rect x="1240" y="309" width="3" height="1.5" fill="#008000" />
<rect x="1246" y="304" width="3" height="6.5" fill="#008000" />
<rect x="1252" y="308" width="3" height="2.5" fill="#008000" />
<rect x="1258" y="308.5" width="3" height="2" fill="#008000" />
<rect x="1264" y="308" width="3" height="2.5" fill="#008000" />
<rect x="1270" y="307" width="3" height="3.5" fill="#008000" />
<rect x="1276" y="309" width="3" height="1.5" fill="#008000" />
<rect x="1282" y="308" width="3" height="2.5" fill="#008000" />
<rect x="1288" y="309" width="3" height="1.5" fill="#008000" />
<rect x="1294" y="308.5" width="3" height="2" fill="#008000" />
<rect x="1300" y="308" width="3" height="2.5" fill="#008000" />
<rect x="1306" y="309" width="3" height="1.5" fill="#008000" />
<rect x="1312" y="309" width="3" height="1.5" fill="#008000" />
<rect x="1360" y="309" width="3" height="1.5" fill="#008000" />
<rect x="1366" y="307" width="3" height="3.5" fill="#008000" />
<rect x="1372" y="309" width="3" height="1.5" fill="#008000" />
<rect x="1378" y="309" width="3" height="1.5" fill="#008000" />
<rect x="1384" y="309" width="3" height="1.5" fill="#008000" />
<rect x="1390" y="308" width="3" height="2.5" fill="#008000" />
<rect x="1396" y="309" width="3" height="1.5" fill="#008000" />
<rect x="1402" y="307" width="3" height="3.5" fill="#008000" />
<rect x="1414" y="309" width="3" height="1.5" fill="#008000" />
<rect x="1420" y="254" width="3" height="56.5" fill="#008000" />
<rect x="1426" y="294" width="3" height="16.5" fill="#008000" />
<rect x="1432" y="297" width="3" height="13.5" fill="#008000" />
<rect x="1438" y="298" width="3" height="12.5" fill="#008000" />
<rect x="1444" y="301" width="3" height="9.5" fill="#008000" />
<rect x="1450" y="306" width="3" height="4.5" fill="#008000" />
<rect x="1456" y="304" width="3" height="6.5" fill="#008000" />
<rect x="1462" y="299" width="3" height="11.5" fill="#008000" />
<rect x="1468" y="302" width="3" height="8.5" fill="#008000" />
<rect x="1474" y="308" width="3" height="2.5" fill="#008000" />
<rect x="1486" y="308" width="3" height="2.5" fill="#008000" />
<rect x="1492" y="309" width="3" height="1.5" fill="#008000" />
<rect x="1498" y="309" width="3" height="1.5" fill="#008000" />
<rect x="1504" y="300" width="3" height="10.5" fill="#008000" />
<rect x="1510" y="307" width="3" height="3.5" fill="#008000" />
<rect x="1516" y="306" width="3" height="4.5" fill="#008000" />
<rect x="1522" y="304" width="3" height="6.5" fill="#008000" />
<rect x="1528" y="293" width="3" height="17.5" fill="#008000" />
<rect x="1534" y="298" width="3" height="12.5" fill="#008000" />
<rect x="1540" y="304" width="3" height="6.5" fill="#008000" />
<rect x="1546" y="301" width="3" height="9.5" fill="#008000" />
<rect x="1552" y="306" width="3" height="4.5" fill="#008000" />
<rect x="1558" y="303" width="3" height="7.5" fill="#008000" />
<rect x="1564" y="302" width="3" height="8.5" fill="#008000" />
<rect x="1570" y="308" width="3" height="2.5" fill="#008000" />
<rect x="1576" y="307" width="3" height="3.5" fill="#008000" />
<rect x="1582" y="308" width="3" height="2.5" fill="#008000" />
<rect x="1588" y="307" width="3" height="3.5" fill="#008000" />
<rect x="1594" y="307" width="3" height="3.5" fill="#008000" />
<rect x="1600" y="309" width="3" height="1.5" fill="#008000" />
<rect x="1606" y="308" width="3" height="2.5" fill="#008000" />
<rect x="1612" y="309" width="3" height="1.5" fill="#008000" />
<rect x="1618" y="309" width="3" height="1.5" fill="#008000" />
<rect x="1624" y="309" width="3" height="1.5" fill="#008000" />
<rect x="1630" y="309.5" width="3" height="1" fill="#008000" />
<rect x="1636" y="309" width="3" height="1.5" fill="#008000" />
<rect x="1642" y="309" width="3" height="1.5" fill="#008000" />
<rect x="1648" y="309" width="3" height="1.5" fill="#008000" />
<rect x="1654" y="309" width="3" height="1.5" fill="#008000" />
<rect x="1666" y="309" width="3" height="1.5" fill="#008000" />
<rect x="1672" y="309.5" width="3" height="1" fill="#008000" />
<rect x="1684" y="309.5" width="3" height="1" fill="#008000" />
<rect x="1690" y="309.5" width="3" height="1" fill="#008000" />
<rect x="1702" y="309.5" width="3" height="1" fill="#008000" />
<rect x="1714" y="309.5" width="3" height="1" fill="#008000" />
<rect x="1720" y="309.5" width="3" height="1" fill="#008000" />
<rect x="1726" y="307.5" width="3" height="3" fill="#008000" />
<rect x="1732" y="308.5" width="3" height="2" fill="#008000" />
<rect x="1738" y="309.5" width="3" height="1" fill="#008000" />
<rect x="1744" y="309.5" width="3" height="1" fill="#008000" />
<line x1="1055" y1="310.5" x2="1747" y2="310.5" stroke="#000" stroke-width="1" />
<line x1="1056" y1="389.5" x2="1747" y2="389.5" stroke="#808080" stroke-width="1" />
<polyline points="1055,396.2 1100,398.8 1150,402 1200,405.5 1225,405 1250,402.5 1300,396.2 1350,391.2 1400,386.2 1425,383.8 1450,377.5 1500,367.5 1550,358.8 1600,352.5 1650,348 1694,345 1710,347 1745,347" fill="none" stroke="#ffb6c1" stroke-width="1" />
<line x1="1055.5" y1="389.5" x2="1055.5" y2="387.5" stroke="#ff0000" stroke-width="1" />
<line x1="1061.5" y1="389.5" x2="1061.5" y2="387" stroke="#ff0000" stroke-width="1" />
<line x1="1067.5" y1="389.5" x2="1067.5" y2="388" stroke="#ff0000" stroke-width="1" />
<line x1="1073.5" y1="389.5" x2="1073.5" y2="388" stroke="#ff0000" stroke-width="1" />
<line x1="1079.5" y1="389.5" x2="1079.5" y2="388.5" stroke="#ff0000" stroke-width="1" />
<line x1="1085.5" y1="389.5" x2="1085.5" y2="388.5" stroke="#ff0000" stroke-width="1" />
<line x1="1091.5" y1="389.5" x2="1091.5" y2="388.5" stroke="#ff0000" stroke-width="1" />
<line x1="1097.5" y1="389.5" x2="1097.5" y2="390.1" stroke="#ff0000" stroke-width="1" />
<line x1="1103.5" y1="389.5" x2="1103.5" y2="390.5" stroke="#ff0000" stroke-width="1" />
<line x1="1115.5" y1="389.5" x2="1115.5" y2="388" stroke="#ff0000" stroke-width="1" />
<line x1="1121.5" y1="389.5" x2="1121.5" y2="388" stroke="#ff0000" stroke-width="1" />
<line x1="1127.5" y1="389.5" x2="1127.5" y2="388.5" stroke="#ff0000" stroke-width="1" />
<line x1="1133.5" y1="389.5" x2="1133.5" y2="388.9" stroke="#ff0000" stroke-width="1" />
<line x1="1175.5" y1="389.5" x2="1175.5" y2="390.5" stroke="#ff0000" stroke-width="1" />
<line x1="1181.5" y1="389.5" x2="1181.5" y2="391.5" stroke="#ff0000" stroke-width="1" />
<line x1="1187.5" y1="389.5" x2="1187.5" y2="392" stroke="#ff0000" stroke-width="1" />
<line x1="1193.5" y1="389.5" x2="1193.5" y2="391.5" stroke="#ff0000" stroke-width="1" />
<line x1="1199.5" y1="389.5" x2="1199.5" y2="391" stroke="#ff0000" stroke-width="1" />
<line x1="1205.5" y1="389.5" x2="1205.5" y2="390.1" stroke="#ff0000" stroke-width="1" />
<line x1="1211.5" y1="389.5" x2="1211.5" y2="388.5" stroke="#ff0000" stroke-width="1" />
<line x1="1217.5" y1="389.5" x2="1217.5" y2="384.5" stroke="#ff0000" stroke-width="1" />
<line x1="1223.5" y1="389.5" x2="1223.5" y2="382" stroke="#ff0000" stroke-width="1" />
<line x1="1229.5" y1="389.5" x2="1229.5" y2="381.5" stroke="#ff0000" stroke-width="1" />
<line x1="1235.5" y1="389.5" x2="1235.5" y2="380.5" stroke="#ff0000" stroke-width="1" />
<line x1="1241.5" y1="389.5" x2="1241.5" y2="380" stroke="#ff0000" stroke-width="1" />
<line x1="1247.5" y1="389.5" x2="1247.5" y2="379" stroke="#ff0000" stroke-width="1" />
<line x1="1253.5" y1="389.5" x2="1253.5" y2="379" stroke="#ff0000" stroke-width="1" />
<line x1="1259.5" y1="389.5" x2="1259.5" y2="380" stroke="#ff0000" stroke-width="1" />
<line x1="1265.5" y1="389.5" x2="1265.5" y2="381" stroke="#ff0000" stroke-width="1" />
<line x1="1271.5" y1="389.5" x2="1271.5" y2="382.5" stroke="#ff0000" stroke-width="1" />
<line x1="1277.5" y1="389.5" x2="1277.5" y2="384.5" stroke="#ff0000" stroke-width="1" />
<line x1="1283.5" y1="389.5" x2="1283.5" y2="387" stroke="#ff0000" stroke-width="1" />
<line x1="1289.5" y1="389.5" x2="1289.5" y2="388.9" stroke="#ff0000" stroke-width="1" />
<line x1="1355.5" y1="389.5" x2="1355.5" y2="390.5" stroke="#ff0000" stroke-width="1" />
<line x1="1361.5" y1="389.5" x2="1361.5" y2="391" stroke="#ff0000" stroke-width="1" />
<line x1="1367.5" y1="389.5" x2="1367.5" y2="391.5" stroke="#ff0000" stroke-width="1" />
<line x1="1373.5" y1="389.5" x2="1373.5" y2="393" stroke="#ff0000" stroke-width="1" />
<line x1="1379.5" y1="389.5" x2="1379.5" y2="393" stroke="#ff0000" stroke-width="1" />
<line x1="1385.5" y1="389.5" x2="1385.5" y2="393" stroke="#ff0000" stroke-width="1" />
<line x1="1391.5" y1="389.5" x2="1391.5" y2="393.5" stroke="#ff0000" stroke-width="1" />
<line x1="1397.5" y1="389.5" x2="1397.5" y2="392.5" stroke="#ff0000" stroke-width="1" />
<line x1="1403.5" y1="389.5" x2="1403.5" y2="391" stroke="#ff0000" stroke-width="1" />
<line x1="1409.5" y1="389.5" x2="1409.5" y2="390.1" stroke="#ff0000" stroke-width="1" />
<line x1="1421.5" y1="389.5" x2="1421.5" y2="382" stroke="#ff0000" stroke-width="1" />
<line x1="1427.5" y1="389.5" x2="1427.5" y2="375.5" stroke="#ff0000" stroke-width="1" />
<line x1="1433.5" y1="389.5" x2="1433.5" y2="374" stroke="#ff0000" stroke-width="1" />
<line x1="1439.5" y1="389.5" x2="1439.5" y2="375" stroke="#ff0000" stroke-width="1" />
<line x1="1445.5" y1="389.5" x2="1445.5" y2="376.5" stroke="#ff0000" stroke-width="1" />
<line x1="1451.5" y1="389.5" x2="1451.5" y2="377.5" stroke="#ff0000" stroke-width="1" />
<line x1="1457.5" y1="389.5" x2="1457.5" y2="380" stroke="#ff0000" stroke-width="1" />
<line x1="1463.5" y1="389.5" x2="1463.5" y2="382.5" stroke="#ff0000" stroke-width="1" />
<line x1="1469.5" y1="389.5" x2="1469.5" y2="387" stroke="#ff0000" stroke-width="1" />
<line x1="1481.5" y1="389.5" x2="1481.5" y2="391.5" stroke="#ff0000" stroke-width="1" />
<line x1="1487.5" y1="389.5" x2="1487.5" y2="393" stroke="#ff0000" stroke-width="1" />
<line x1="1493.5" y1="389.5" x2="1493.5" y2="394.5" stroke="#ff0000" stroke-width="1" />
<line x1="1499.5" y1="389.5" x2="1499.5" y2="395" stroke="#ff0000" stroke-width="1" />
<line x1="1505.5" y1="389.5" x2="1505.5" y2="396" stroke="#ff0000" stroke-width="1" />
<line x1="1511.5" y1="389.5" x2="1511.5" y2="397.5" stroke="#ff0000" stroke-width="1" />
<line x1="1517.5" y1="389.5" x2="1517.5" y2="398" stroke="#ff0000" stroke-width="1" />
<line x1="1523.5" y1="389.5" x2="1523.5" y2="398.5" stroke="#ff0000" stroke-width="1" />
<line x1="1529.5" y1="389.5" x2="1529.5" y2="401.5" stroke="#ff0000" stroke-width="1" />
<line x1="1535.5" y1="389.5" x2="1535.5" y2="404" stroke="#ff0000" stroke-width="1" />
<line x1="1541.5" y1="389.5" x2="1541.5" y2="403" stroke="#ff0000" stroke-width="1" />
<line x1="1547.5" y1="389.5" x2="1547.5" y2="402.5" stroke="#ff0000" stroke-width="1" />
<line x1="1553.5" y1="389.5" x2="1553.5" y2="401.5" stroke="#ff0000" stroke-width="1" />
<line x1="1559.5" y1="389.5" x2="1559.5" y2="400.5" stroke="#ff0000" stroke-width="1" />
<line x1="1565.5" y1="389.5" x2="1565.5" y2="400" stroke="#ff0000" stroke-width="1" />
<line x1="1571.5" y1="389.5" x2="1571.5" y2="399.5" stroke="#ff0000" stroke-width="1" />
<line x1="1577.5" y1="389.5" x2="1577.5" y2="399" stroke="#ff0000" stroke-width="1" />
<line x1="1583.5" y1="389.5" x2="1583.5" y2="398" stroke="#ff0000" stroke-width="1" />
<line x1="1589.5" y1="389.5" x2="1589.5" y2="396.5" stroke="#ff0000" stroke-width="1" />
<line x1="1595.5" y1="389.5" x2="1595.5" y2="395.5" stroke="#ff0000" stroke-width="1" />
<line x1="1601.5" y1="389.5" x2="1601.5" y2="394" stroke="#ff0000" stroke-width="1" />
<line x1="1607.5" y1="389.5" x2="1607.5" y2="393" stroke="#ff0000" stroke-width="1" />
<line x1="1613.5" y1="389.5" x2="1613.5" y2="392" stroke="#ff0000" stroke-width="1" />
<line x1="1619.5" y1="389.5" x2="1619.5" y2="391.5" stroke="#ff0000" stroke-width="1" />
<line x1="1625.5" y1="389.5" x2="1625.5" y2="391" stroke="#ff0000" stroke-width="1" />
<line x1="1631.5" y1="389.5" x2="1631.5" y2="390.5" stroke="#ff0000" stroke-width="1" />
<line x1="1667.5" y1="389.5" x2="1667.5" y2="388.5" stroke="#ff0000" stroke-width="1" />
<line x1="1673.5" y1="389.5" x2="1673.5" y2="388.5" stroke="#ff0000" stroke-width="1" />
<line x1="1679.5" y1="389.5" x2="1679.5" y2="388.5" stroke="#ff0000" stroke-width="1" />
<line x1="1685.5" y1="389.5" x2="1685.5" y2="388.5" stroke="#ff0000" stroke-width="1" />
<line x1="1691.5" y1="389.5" x2="1691.5" y2="388.5" stroke="#ff0000" stroke-width="1" />
<line x1="1697.5" y1="389.5" x2="1697.5" y2="388" stroke="#ff0000" stroke-width="1" />
<line x1="1703.5" y1="389.5" x2="1703.5" y2="388" stroke="#ff0000" stroke-width="1" />
<line x1="1709.5" y1="389.5" x2="1709.5" y2="388" stroke="#ff0000" stroke-width="1" />
<line x1="1715.5" y1="389.5" x2="1715.5" y2="388" stroke="#ff0000" stroke-width="1" />
<line x1="1721.5" y1="389.5" x2="1721.5" y2="388.5" stroke="#ff0000" stroke-width="1" />
<line x1="1727.5" y1="389.5" x2="1727.5" y2="388.9" stroke="#ff0000" stroke-width="1" />
<line x1="1739.5" y1="389.5" x2="1739.5" y2="390.5" stroke="#ff0000" stroke-width="1" />
<line x1="1745.5" y1="389.5" x2="1745.5" y2="391.5" stroke="#ff0000" stroke-width="1" />
<line x1="1295.5" y1="389.5" x2="1295.5" y2="390.1" stroke="#ff0000" stroke-width="1" />
<line x1="1301.5" y1="389.5" x2="1301.5" y2="388.9" stroke="#ff0000" stroke-width="1" />
<line x1="1307.5" y1="389.5" x2="1307.5" y2="390.1" stroke="#ff0000" stroke-width="1" />
<line x1="1313.5" y1="389.5" x2="1313.5" y2="388.9" stroke="#ff0000" stroke-width="1" />
<line x1="1319.5" y1="389.5" x2="1319.5" y2="390.1" stroke="#ff0000" stroke-width="1" />
<line x1="1325.5" y1="389.5" x2="1325.5" y2="388.9" stroke="#ff0000" stroke-width="1" />
<line x1="1331.5" y1="389.5" x2="1331.5" y2="390.1" stroke="#ff0000" stroke-width="1" />
<line x1="1337.5" y1="389.5" x2="1337.5" y2="388.9" stroke="#ff0000" stroke-width="1" />
<line x1="1343.5" y1="389.5" x2="1343.5" y2="390.1" stroke="#ff0000" stroke-width="1" />
<line x1="1349.5" y1="389.5" x2="1349.5" y2="388.9" stroke="#ff0000" stroke-width="1" />
<polyline points="1055,391.2 1075,389.5 1095,391.2 1105,392 1120,388.8 1150,389.2 1170,388.8 1185,392.5 1200,393 1212.5,390 1225,380 1240,370 1255,363.8 1265,362.5 1275,363 1290,367 1312.5,369.5 1350,371.2 1375,376.2 1392.5,380 1405,378.8 1416.2,376.2 1425,360 1435,351.2 1450,346.2 1460,345.5 1475,352.5 1492.5,361.2 1505,365 1522.5,375 1535,386.2 1550,392.5 1565,397.5 1577.5,403.8 1595,405.5 1625,403.8 1650,404.5 1662.5,405.5 1680,402.5 1694,401.2 1700,400 1715,399.2 1730,401.2 1745,405.5" fill="none" stroke="#ffff00" stroke-width="1" />
<polyline points="1055,392.5 1075,390.8 1100,390 1150,389.2 1180,390.5 1210,391.2 1225,387.5 1240,382.5 1255,376.2 1267.5,371.2 1277.5,368.8 1290,367.5 1312.5,368.8 1350,370 1375,372.5 1400,377 1416.2,377.5 1430,371.2 1445,362.5 1462.5,353.8 1482.5,353.8 1500,358.8 1520,363.8 1530,367.5 1540,375 1562.5,385 1575,390 1587.5,396.2 1607.5,401.2 1632.5,403.8 1662.5,404.5 1694,403 1700,400.5 1720,400 1735,400.5 1745,402.5" fill="none" stroke="#0000ff" stroke-width="1" />
<line x1="1056" y1="450.5" x2="1747" y2="450.5" stroke="#0000ff" stroke-width="1" />
<line x1="1056" y1="489.5" x2="1747" y2="489.5" stroke="#ff0000" stroke-width="1" />
<polyline points="1055,460.5 1061.2,458 1067.5,462 1080,466.2 1090,468.8 1097.5,473 1105,474.5 1112.5,468.8 1121.2,455 1127.5,454.5 1140,458.8 1155,456.2 1170,453 1177.5,457.5 1187.5,468 1200,466.2 1210,461.2 1220,451.2 1230,444.5 1242.5,441.2 1257.5,445 1270,447.5 1280,451.2 1290,456.2 1300,461.2 1310,464.5 1320,466.2 1327.5,467.5 1335,465 1345,457 1352.5,455.8 1362.5,457.5 1370,461.2 1377.5,467.5 1385,476.2 1392.5,480 1400,473.8 1407.5,462.5 1415,452.5 1422.5,450 1435,450 1445,451.2 1462.5,453 1472.5,458.8 1482.5,464.5 1492.5,468 1502.5,473.8 1512.5,482.5 1520,488.8 1527.5,493 1535,494.2 1545,490 1555,487.5 1565,488 1575,491.2 1587.5,492 1600,490 1610,487 1620,482 1630,482 1640,479.5 1650,478.8 1657.5,485 1665,493.8 1672.5,492.5 1680,485.5 1687.5,473.8 1694,470 1697.5,470.8 1707.5,473.2 1715,473.2 1722.5,485 1730,490 1737.5,493.8 1745.5,495.5" fill="none" stroke="#ff0000" stroke-width="1" />
<polyline points="1055,460 1061.2,457.5 1067.5,467.5 1073.8,465.5 1079.5,467.5 1085.5,465.5 1091.5,476.2 1097.5,477.5 1103.5,472.5 1109.5,461.2 1115.5,453.8 1121.5,451.2 1127.5,457.5 1133.5,460.5 1139.5,458.8 1145.5,457 1151.5,455 1157.5,453.8 1163.5,452.5 1169.5,451.2 1175.5,463.8 1181.5,469.5 1187.5,469.5 1193.5,465.8 1199.5,465.8 1205.5,458.8 1211.5,455 1217.5,445.5 1223.5,445 1229.5,443.2 1235.5,442.5 1241.5,440.5 1247.5,443.8 1253.5,444.5 1259.5,446.2 1265.5,448 1271.5,450 1277.5,453.8 1283.5,456.2 1289.5,459.5 1295.5,463 1301.5,465 1307.5,466.2 1313.5,465.8 1319.5,467.5 1325.5,469.5 1331.5,461.2 1337.5,455.5 1343.5,455.5 1349.5,457 1355.5,457.5 1361.5,460 1367.5,463 1373.5,468.8 1379.5,475 1385.5,482.5 1391.5,483.8 1397.5,470 1403.5,460 1409.5,453.8 1415.5,450 1421.5,449.5 1427.5,449.5 1433.5,449.5 1439.5,452.5 1445.5,453.8 1451.5,453.2 1457.5,453 1463.5,455 1469.5,461.2 1475.5,463.8 1481.5,467.5 1487.5,469.5 1493.5,469.5 1499.5,473.8 1505.5,481.2 1511.5,485 1517.5,492.5 1523.5,492.5 1529.5,494.2 1535.5,495.5 1541.5,491.2 1547.5,486.8 1553.5,488 1559.5,485.5 1565.5,490 1571.5,490.5 1577.5,493.8 1583.5,492.5 1589.5,489.5 1595.5,490 1601.5,489.5 1607.5,486.2 1613.5,481.2 1619.5,479.5 1625.5,484.5 1631.5,482.5 1637.5,477.5 1643.5,475 1649.5,481.2 1655.5,492.5 1661.5,497.5 1667.5,489.5 1673.5,486.2 1679.5,478.8 1685.5,463.8 1691.5,472.5 1697.5,476.2 1703.5,468.2 1709.5,473.8 1715.5,478 1721.5,491.2 1727.5,493 1733.5,490.8 1739.5,496.2 1745.5,498.8" fill="none" stroke="#0000ff" stroke-width="1" />
<clipPath id="c3"><rect x="1824" y="24" width="561" height="498"/></clipPath>
<line x1="1860.5" y1="25" x2="1860.5" y2="521" stroke="#b0b0b0" stroke-width="1" stroke-dasharray="3,3"/>
<line x1="2034.5" y1="25" x2="2034.5" y2="521" stroke="#b0b0b0" stroke-width="1" stroke-dasharray="3,3"/>
<line x1="2208.5" y1="25" x2="2208.5" y2="521" stroke="#b0b0b0" stroke-width="1" stroke-dasharray="3,3"/>
<line x1="2382.5" y1="25" x2="2382.5" y2="521" stroke="#b0b0b0" stroke-width="1" stroke-dasharray="3,3"/>
<line x1="1824" y1="43.5" x2="2385" y2="43.5" stroke="#b0b0b0" stroke-width="1" stroke-dasharray="3,3"/>
<line x1="1824" y1="80.5" x2="2385" y2="80.5" stroke="#b0b0b0" stroke-width="1" stroke-dasharray="3,3"/>
<line x1="1824" y1="117.5" x2="2385" y2="117.5" stroke="#b0b0b0" stroke-width="1" stroke-dasharray="3,3"/>
<line x1="1824" y1="154.5" x2="2385" y2="154.5" stroke="#b0b0b0" stroke-width="1" stroke-dasharray="3,3"/>
<line x1="1824" y1="191.5" x2="2385" y2="191.5" stroke="#b0b0b0" stroke-width="1" stroke-dasharray="3,3"/>
<line x1="1824" y1="228.5" x2="2385" y2="228.5" stroke="#b0b0b0" stroke-width="1" stroke-dasharray="3,3"/>
<line x1="1824" y1="260.5" x2="2385" y2="260.5" stroke="#b0b0b0" stroke-width="1" stroke-dasharray="3,3"/>
<line x1="1824" y1="297.5" x2="2385" y2="297.5" stroke="#b0b0b0" stroke-width="1" stroke-dasharray="3,3"/>
<line x1="1824" y1="353.5" x2="2385" y2="353.5" stroke="#b0b0b0" stroke-width="1" stroke-dasharray="3,3"/>
<line x1="1824" y1="390.5" x2="2385" y2="390.5" stroke="#b0b0b0" stroke-width="1" stroke-dasharray="3,3"/>
<line x1="1824" y1="446.5" x2="2385" y2="446.5" stroke="#b0b0b0" stroke-width="1" stroke-dasharray="3,3"/>
<line x1="1824" y1="485.5" x2="2385" y2="485.5" stroke="#b0b0b0" stroke-width="1" stroke-dasharray="3,3"/>
<g clip-path="url(#c3)">
<line x1="1824.5" y1="171.4" x2="1824.5" y2="215.2" stroke="#0000ff" stroke-width="1" />
<line x1="1830.5" y1="171.4" x2="1830.5" y2="215.4" stroke="#0000ff" stroke-width="1" />
<line x1="1836.5" y1="171.4" x2="1836.5" y2="215.6" stroke="#0000ff" stroke-width="1" />
<line x1="1842.5" y1="178.1" x2="1842.5" y2="215.8" stroke="#0000ff" stroke-width="1" />
<line x1="1848.5" y1="178.3" x2="1848.5" y2="216" stroke="#0000ff" stroke-width="1" />
<line x1="1854.5" y1="178.3" x2="1854.5" y2="216.2" stroke="#0000ff" stroke-width="1" />
<line x1="1860.5" y1="178.3" x2="1860.5" y2="216.4" stroke="#0000ff" stroke-width="1" />
<line x1="1866.5" y1="178.3" x2="1866.5" y2="217" stroke="#0000ff" stroke-width="1" />
<line x1="1872.5" y1="178.3" x2="1872.5" y2="214.2" stroke="#0000ff" stroke-width="1" />
<line x1="1878.5" y1="178.3" x2="1878.5" y2="206.9" stroke="#0000ff" stroke-width="1" />
<line x1="1884.5" y1="178.3" x2="1884.5" y2="201.3" stroke="#0000ff" stroke-width="1" />
<line x1="1890.5" y1="178.3" x2="1890.5" y2="200.2" stroke="#0000ff" stroke-width="1" />
<line x1="1896.5" y1="178.3" x2="1896.5" y2="199.6" stroke="#0000ff" stroke-width="1" />
<line x1="1902.5" y1="178.3" x2="1902.5" y2="199" stroke="#0000ff" stroke-width="1" />
<line x1="1908.5" y1="178.3" x2="1908.5" y2="198.4" stroke="#0000ff" stroke-width="1" />
<line x1="1914.5" y1="178.3" x2="1914.5" y2="197.3" stroke="#0000ff" stroke-width="1" />
<line x1="1920.5" y1="178.3" x2="1920.5" y2="192.1" stroke="#0000ff" stroke-width="1" />
<line x1="1926.5" y1="178.3" x2="1926.5" y2="189.6" stroke="#0000ff" stroke-width="1" />
<line x1="1932.5" y1="178.3" x2="1932.5" y2="188.3" stroke="#0000ff" stroke-width="1" />
<line x1="1938.5" y1="172.1" x2="1938.5" y2="186.5" stroke="#0000ff" stroke-width="1" />
<line x1="1944.5" y1="172.6" x2="1944.5" y2="184.5" stroke="#0000ff" stroke-width="1" />
<line x1="1950.5" y1="176.9" x2="1950.5" y2="182.2" stroke="#0000ff" stroke-width="1" />
<line x1="1956.5" y1="179.8" x2="1956.5" y2="181.3" stroke="#ff0000" stroke-width="1" />
<line x1="1962.5" y1="178.3" x2="1962.5" y2="188" stroke="#ff0000" stroke-width="1" />
<line x1="1968.5" y1="178.3" x2="1968.5" y2="194.7" stroke="#ff0000" stroke-width="1" />
<line x1="1974.5" y1="178.3" x2="1974.5" y2="199" stroke="#ff0000" stroke-width="1" />
<line x1="1980.5" y1="178.3" x2="1980.5" y2="199.6" stroke="#ff0000" stroke-width="1" />
<line x1="1986.5" y1="178.5" x2="1986.5" y2="199.6" stroke="#ff0000" stroke-width="1" />
<line x1="1992.5" y1="179.7" x2="1992.5" y2="199.6" stroke="#ff0000" stroke-width="1" />
<line x1="1998.5" y1="180.8" x2="1998.5" y2="199.6" stroke="#ff0000" stroke-width="1" />
<line x1="2004.5" y1="181.4" x2="2004.5" y2="199.6" stroke="#ff0000" stroke-width="1" />
<line x1="2010.5" y1="182" x2="2010.5" y2="199.6" stroke="#ff0000" stroke-width="1" />
<line x1="2016.5" y1="182.9" x2="2016.5" y2="199.6" stroke="#ff0000" stroke-width="1" />
<line x1="2022.5" y1="183.8" x2="2022.5" y2="199.6" stroke="#ff0000" stroke-width="1" />
<line x1="2028.5" y1="184.1" x2="2028.5" y2="199.2" stroke="#ff0000" stroke-width="1" />
<line x1="2034.5" y1="184.6" x2="2034.5" y2="195.2" stroke="#ff0000" stroke-width="1" />
<line x1="2040.5" y1="184.7" x2="2040.5" y2="195.2" stroke="#ff0000" stroke-width="1" />
<line x1="2046.5" y1="185.6" x2="2046.5" y2="195.2" stroke="#ff0000" stroke-width="1" />
<line x1="2052.5" y1="187" x2="2052.5" y2="195.2" stroke="#ff0000" stroke-width="1" />
<line x1="2058.5" y1="188.3" x2="2058.5" y2="195.2" stroke="#ff0000" stroke-width="1" />
<line x1="2064.5" y1="188.9" x2="2064.5" y2="195.2" stroke="#ff0000" stroke-width="1" />
<line x1="2070.5" y1="188.9" x2="2070.5" y2="195.2" stroke="#ff0000" stroke-width="1" />
<line x1="2076.5" y1="188.9" x2="2076.5" y2="195.2" stroke="#ff0000" stroke-width="1" />
<line x1="2082.5" y1="185.3" x2="2082.5" y2="195.2" stroke="#ff0000" stroke-width="1" />
<line x1="2088.5" y1="184.9" x2="2088.5" y2="195.2" stroke="#ff0000" stroke-width="1" />
<line x1="2094.5" y1="184.7" x2="2094.5" y2="195.2" stroke="#ff0000" stroke-width="1" />
<line x1="2100.5" y1="184.5" x2="2100.5" y2="195.2" stroke="#ff0000" stroke-width="1" />
<line x1="2106.5" y1="184.3" x2="2106.5" y2="195.2" stroke="#ff0000" stroke-width="1" />
<line x1="2112.5" y1="184.1" x2="2112.5" y2="195.2" stroke="#ff0000" stroke-width="1" />
<line x1="2118.5" y1="183.9" x2="2118.5" y2="195.2" stroke="#ff0000" stroke-width="1" />
<line x1="2124.5" y1="183.9" x2="2124.5" y2="195.2" stroke="#ff0000" stroke-width="1" />
<line x1="2130.5" y1="183.9" x2="2130.5" y2="195.2" stroke="#ff0000" stroke-width="1" />
<line x1="2136.5" y1="183.9" x2="2136.5" y2="195.2" stroke="#ff0000" stroke-width="1" />
<line x1="2142.5" y1="188.7" x2="2142.5" y2="195.2" stroke="#ff0000" stroke-width="1" />
<line x1="2148.5" y1="190.6" x2="2148.5" y2="193.3" stroke="#ff0000" stroke-width="1" />
<line x1="2154.5" y1="190.8" x2="2154.5" y2="193.3" stroke="#ff0000" stroke-width="1" />
<line x1="2160.5" y1="190.8" x2="2160.5" y2="193.2" stroke="#ff0000" stroke-width="1" />
<line x1="2172.5" y1="186.4" x2="2172.5" y2="188.9" stroke="#0000ff" stroke-width="1" />
<line x1="2178.5" y1="186.4" x2="2178.5" y2="188.9" stroke="#0000ff" stroke-width="1" />
<line x1="2184.5" y1="188.9" x2="2184.5" y2="196.4" stroke="#0000ff" stroke-width="1" />
<line x1="2190.5" y1="188.9" x2="2190.5" y2="196.4" stroke="#0000ff" stroke-width="1" />
<line x1="2196.5" y1="188.9" x2="2196.5" y2="196.4" stroke="#0000ff" stroke-width="1" />
<line x1="2202.5" y1="188.9" x2="2202.5" y2="196.4" stroke="#0000ff" stroke-width="1" />
<line x1="2208.5" y1="188.9" x2="2208.5" y2="196.4" stroke="#0000ff" stroke-width="1" />
<line x1="2214.5" y1="188.9" x2="2214.5" y2="196.4" stroke="#0000ff" stroke-width="1" />
<line x1="2220.5" y1="191.4" x2="2220.5" y2="199.6" stroke="#0000ff" stroke-width="1" />
<line x1="2226.5" y1="191.4" x2="2226.5" y2="199.6" stroke="#0000ff" stroke-width="1" />
<line x1="2232.5" y1="191.4" x2="2232.5" y2="199.6" stroke="#0000ff" stroke-width="1" />
<line x1="2238.5" y1="191.4" x2="2238.5" y2="199.4" stroke="#0000ff" stroke-width="1" />
<line x1="2244.5" y1="191.4" x2="2244.5" y2="196.9" stroke="#0000ff" stroke-width="1" />
<line x1="2250.5" y1="191.4" x2="2250.5" y2="194" stroke="#0000ff" stroke-width="1" />
<line x1="2274.5" y1="175.1" x2="2274.5" y2="178.3" stroke="#ff0000" stroke-width="1" />
<line x1="2280.5" y1="173.3" x2="2280.5" y2="178.3" stroke="#ff0000" stroke-width="1" />
<line x1="2286.5" y1="171.5" x2="2286.5" y2="178.3" stroke="#ff0000" stroke-width="1" />
<line x1="2292.5" y1="169.1" x2="2292.5" y2="178.3" stroke="#ff0000" stroke-width="1" />
<line x1="2298.5" y1="163.8" x2="2298.5" y2="178.3" stroke="#ff0000" stroke-width="1" />
<line x1="2304.5" y1="162.3" x2="2304.5" y2="178.3" stroke="#ff0000" stroke-width="1" />
<line x1="2310.5" y1="161.9" x2="2310.5" y2="178.3" stroke="#ff0000" stroke-width="1" />
<line x1="2316.5" y1="161.8" x2="2316.5" y2="178.3" stroke="#ff0000" stroke-width="1" />
<line x1="2322.5" y1="161.7" x2="2322.5" y2="178.3" stroke="#ff0000" stroke-width="1" />
<line x1="2328.5" y1="161.7" x2="2328.5" y2="178.3" stroke="#ff0000" stroke-width="1" />
<line x1="2334.5" y1="161.6" x2="2334.5" y2="178.3" stroke="#ff0000" stroke-width="1" />
<line x1="2340.5" y1="161.5" x2="2340.5" y2="178.3" stroke="#ff0000" stroke-width="1" />
<line x1="2346.5" y1="161.4" x2="2346.5" y2="178.3" stroke="#ff0000" stroke-width="1" />
<line x1="2352.5" y1="152.5" x2="2352.5" y2="178" stroke="#ff0000" stroke-width="1" />
<line x1="2358.5" y1="117.5" x2="2358.5" y2="136.2" stroke="#ff0000" stroke-width="1" />
<line x1="2364.5" y1="117.2" x2="2364.5" y2="136.2" stroke="#ff0000" stroke-width="1" />
<line x1="2370.5" y1="116.7" x2="2370.5" y2="136.2" stroke="#ff0000" stroke-width="1" />
<line x1="2376.5" y1="113.7" x2="2376.5" y2="136.2" stroke="#ff0000" stroke-width="1" />
<line x1="2382.5" y1="112.7" x2="2382.5" y2="136.2" stroke="#ff0000" stroke-width="1" />
<polyline points="1824.4,215.2 1863.9,216.5 1870.2,217.7 1875.2,210.2 1884,201.4 1890.2,200.2 1909,198.3 1914,197.7 1922.8,190.2 1930.3,188.9 1942.9,185.2 1960.4,178.3 1985.5,178.3 1998,180.8 2010.6,182 2023.1,183.9 2029.4,184.1 2030,184.5 2042.5,184.8 2061.3,188.9 2077.6,188.9 2082.6,185.2 2100.2,184.5 2117.7,183.9 2136.5,183.9 2142.8,188.9 2149.1,190.8 2160.4,190.8 2171.6,188.9 2179.2,188.9 2184.2,196.4 2215.5,196.4 2220.5,199.6 2238.1,199.6 2245.6,196.4 2254.4,192 2261.9,191.4 2268.2,178.3 2274.4,175.1 2287,171.4 2293.2,168.9 2298.2,163.8 2305.8,162 2352,161.3 2352.5,152.5 2355,130 2357.5,117.5 2370,117 2376.2,113.8 2386.2,112" fill="none" stroke="#00ffff" stroke-width="1" />
<polyline points="1824.4,171.4 1836.9,171.4 1842.6,178.3 1933.5,178.3 1939.1,171.4 1942.9,171.4 1956.7,181.4 1971.7,198.3 1976.7,199.6 2028.1,199.6 2029.6,198.3 2030,195.2 2142.8,195.2 2147.8,193.3 2160.4,193.3 2167.9,188.9 2171.6,186.4 2179.2,186.4 2184.2,188.9 2215.5,188.9 2219.3,191.4 2261.9,191.4 2268.8,178.3 2352,178.3 2352.5,178 2354,165 2355,155 2357.5,136.2 2386.2,136.2" fill="none" stroke="#ff0000" stroke-width="1" />
<line x1="1830.5" y1="155" x2="1830.5" y2="165" stroke="#0000ff" stroke-width="1" />
<rect x="1829" y="158.8" width="3" height="2.5" fill="#0000ff" />
<line x1="1836.5" y1="153.8" x2="1836.5" y2="172.5" stroke="#0000ff" stroke-width="1" />
<rect x="1835" y="161.2" width="3" height="7.5" fill="#0000ff" />
<line x1="1842.5" y1="162.5" x2="1842.5" y2="171.2" stroke="#0000ff" stroke-width="1" />
<rect x="1841" y="163.8" width="3" height="6.2" fill="#0000ff" />
<line x1="1848.5" y1="153.8" x2="1848.5" y2="173.8" stroke="#ff0000" stroke-width="1" />
<rect x="1847" y="162.5" width="3" height="7.5" fill="#ff0000" />
<line x1="1854.5" y1="163.8" x2="1854.5" y2="171.2" stroke="#ff0000" stroke-width="1" />
<rect x="1853" y="165" width="3" height="3.8" fill="#ff0000" />
<line x1="1860.5" y1="176.2" x2="1860.5" y2="191.2" stroke="#ff0000" stroke-width="1" />
<rect x="1859" y="177.5" width="3" height="12.5" fill="#ff0000" />
<line x1="1866.5" y1="173.8" x2="1866.5" y2="191.2" stroke="#0000ff" stroke-width="1" />
<rect x="1865" y="175" width="3" height="15" fill="#0000ff" />
<line x1="1872.5" y1="181.2" x2="1872.5" y2="201.2" stroke="#0000ff" stroke-width="1" />
<rect x="1871" y="182.5" width="3" height="17.5" fill="#0000ff" />
<line x1="1878.5" y1="191.2" x2="1878.5" y2="212.5" stroke="#0000ff" stroke-width="1" />
<rect x="1877" y="192.5" width="3" height="18.8" fill="#0000ff" />
<line x1="1884.5" y1="208.8" x2="1884.5" y2="213.8" stroke="#0000ff" stroke-width="1" />
<rect x="1883" y="210.5" width="3" height="1.5" fill="#0000ff" />
<line x1="1890.5" y1="208.8" x2="1890.5" y2="213.8" stroke="#0000ff" stroke-width="1" />
<rect x="1889" y="210.5" width="3" height="1.5" fill="#0000ff" />
<line x1="1896.5" y1="203.8" x2="1896.5" y2="211.2" stroke="#ff0000" stroke-width="1" />
<rect x="1895" y="205.5" width="3" height="2.5" fill="#ff0000" />
<line x1="1902.5" y1="202.5" x2="1902.5" y2="213.8" stroke="#0000ff" stroke-width="1" />
<rect x="1901" y="207.5" width="3" height="2" fill="#0000ff" />
<line x1="1908.5" y1="197.5" x2="1908.5" y2="211.2" stroke="#ff0000" stroke-width="1" />
<rect x="1907" y="198.8" width="3" height="12.5" fill="#ff0000" />
<line x1="1914.5" y1="190" x2="1914.5" y2="200" stroke="#ff0000" stroke-width="1" />
<rect x="1913" y="192.5" width="3" height="6.2" fill="#ff0000" />
<line x1="1920.5" y1="172.5" x2="1920.5" y2="185" stroke="#ff0000" stroke-width="1" />
<rect x="1919" y="176.2" width="3" height="8.8" fill="#ff0000" />
<line x1="1926.5" y1="171.2" x2="1926.5" y2="182.5" stroke="#ff0000" stroke-width="1" />
<rect x="1925" y="172.5" width="3" height="10" fill="#ff0000" />
<line x1="1932.5" y1="158.8" x2="1932.5" y2="177.5" stroke="#ff0000" stroke-width="1" />
<rect x="1931" y="161.2" width="3" height="16.2" fill="#ff0000" />
<line x1="1944.5" y1="175" x2="1944.5" y2="190" stroke="#0000ff" stroke-width="1" />
<rect x="1943" y="176.2" width="3" height="11.2" fill="#0000ff" />
<line x1="1950.5" y1="188.8" x2="1950.5" y2="206.2" stroke="#0000ff" stroke-width="1" />
<rect x="1949" y="191.2" width="3" height="2.5" fill="#0000ff" />
<line x1="1956.5" y1="190" x2="1956.5" y2="202.5" stroke="#0000ff" stroke-width="1" />
<rect x="1955" y="195" width="3" height="2" fill="#0000ff" />
<line x1="1962.5" y1="188.8" x2="1962.5" y2="196.2" stroke="#ff0000" stroke-width="1" />
<rect x="1961" y="190" width="3" height="5" fill="#ff0000" />
<line x1="1968.5" y1="185" x2="1968.5" y2="196.2" stroke="#ff0000" stroke-width="1" />
<rect x="1967" y="188.8" width="3" height="2.5" fill="#ff0000" />
<line x1="1974.5" y1="185" x2="1974.5" y2="200" stroke="#0000ff" stroke-width="1" />
<rect x="1973" y="187.5" width="3" height="6.2" fill="#0000ff" />
<line x1="1980.5" y1="190" x2="1980.5" y2="206.2" stroke="#0000ff" stroke-width="1" />
<rect x="1979" y="191.2" width="3" height="12.5" fill="#0000ff" />
<line x1="1986.5" y1="192.5" x2="1986.5" y2="206.2" stroke="#ff0000" stroke-width="1" />
<rect x="1985" y="198.8" width="3" height="2.5" fill="#ff0000" />
<line x1="1992.5" y1="193.8" x2="1992.5" y2="205" stroke="#0000ff" stroke-width="1" />
<rect x="1991" y="198" width="3" height="2" fill="#0000ff" />
<line x1="1998.5" y1="196.2" x2="1998.5" y2="206.2" stroke="#0000ff" stroke-width="1" />
<rect x="1997" y="200" width="3" height="2" fill="#0000ff" />
<line x1="2004.5" y1="185" x2="2004.5" y2="202.5" stroke="#ff0000" stroke-width="1" />
<rect x="2003" y="186.2" width="3" height="16.2" fill="#ff0000" />
<line x1="2010.5" y1="183.8" x2="2010.5" y2="193.8" stroke="#0000ff" stroke-width="1" />
<rect x="2009" y="185" width="3" height="8.8" fill="#0000ff" />
<line x1="2016.5" y1="176.2" x2="2016.5" y2="198.8" stroke="#0000ff" stroke-width="1" />
<rect x="2015" y="188.8" width="3" height="7.5" fill="#0000ff" />
<line x1="2022.5" y1="188.8" x2="2022.5" y2="196.2" stroke="#ff0000" stroke-width="1" />
<rect x="2021" y="190" width="3" height="5" fill="#ff0000" />
<line x1="2034.5" y1="188.8" x2="2034.5" y2="226.2" stroke="#0000ff" stroke-width="1" />
<rect x="2033" y="192.5" width="3" height="13.8" fill="#0000ff" />
<line x1="2040.5" y1="192.5" x2="2040.5" y2="206.2" stroke="#ff0000" stroke-width="1" />
<rect x="2039" y="193.8" width="3" height="12.5" fill="#ff0000" />
<line x1="2046.5" y1="180" x2="2046.5" y2="190" stroke="#ff0000" stroke-width="1" />
<rect x="2045" y="185" width="3" height="3.8" fill="#ff0000" />
<line x1="2052.5" y1="180" x2="2052.5" y2="200" stroke="#0000ff" stroke-width="1" />
<rect x="2051" y="185" width="3" height="11.2" fill="#0000ff" />
<line x1="2058.5" y1="187.5" x2="2058.5" y2="201.2" stroke="#ff0000" stroke-width="1" />
<rect x="2057" y="188.8" width="3" height="7.5" fill="#ff0000" />
<line x1="2064.5" y1="187.5" x2="2064.5" y2="196.2" stroke="#0000ff" stroke-width="1" />
<rect x="2063" y="190" width="3" height="2.5" fill="#0000ff" />
<line x1="2070.5" y1="180" x2="2070.5" y2="228.8" stroke="#ff0000" stroke-width="1" />
<rect x="2069" y="200" width="3" height="5" fill="#ff0000" />
<line x1="2076.5" y1="176.2" x2="2076.5" y2="217.5" stroke="#0000ff" stroke-width="1" />
<rect x="2075" y="195" width="3" height="11.2" fill="#0000ff" />
<line x1="2082.5" y1="192.5" x2="2082.5" y2="206.2" stroke="#ff0000" stroke-width="1" />
<rect x="2081" y="193.8" width="3" height="10" fill="#ff0000" />
<line x1="2088.5" y1="183.8" x2="2088.5" y2="202.5" stroke="#ff0000" stroke-width="1" />
<rect x="2087" y="185" width="3" height="17.5" fill="#ff0000" />
<line x1="2094.5" y1="163.8" x2="2094.5" y2="193.8" stroke="#ff0000" stroke-width="1" />
<rect x="2093" y="165" width="3" height="28.8" fill="#ff0000" />
<line x1="2100.5" y1="158.8" x2="2100.5" y2="172.5" stroke="#ff0000" stroke-width="1" />
<rect x="2099" y="162.5" width="3" height="2.5" fill="#ff0000" />
<line x1="2106.5" y1="155" x2="2106.5" y2="163.8" stroke="#ff0000" stroke-width="1" />
<rect x="2105" y="157.5" width="3" height="5" fill="#ff0000" />
<line x1="1937" y1="162.5" x2="1940" y2="162.5" stroke="#0000ff" stroke-width="1" />
<line x1="2027" y1="190.5" x2="2030" y2="190.5" stroke="#0000ff" stroke-width="1" />
<line x1="2111" y1="161.5" x2="2114" y2="161.5" stroke="#0000ff" stroke-width="1" />
<line x1="2118.5" y1="126.2" x2="2118.5" y2="142.5" stroke="#0000ff" stroke-width="1" />
<rect x="2117" y="127.5" width="3" height="13.8" fill="#0000ff" />
<line x1="2124.5" y1="135" x2="2124.5" y2="148.8" stroke="#0000ff" stroke-width="1" />
<rect x="2123" y="136.2" width="3" height="11.2" fill="#0000ff" />
<line x1="2130.5" y1="131.2" x2="2130.5" y2="150" stroke="#0000ff" stroke-width="1" />
<rect x="2129" y="138.8" width="3" height="11.2" fill="#0000ff" />
<line x1="2136.5" y1="147.5" x2="2136.5" y2="153.8" stroke="#0000ff" stroke-width="1" />
<rect x="2135" y="149.5" width="3" height="2" fill="#0000ff" />
<line x1="2142.5" y1="143.8" x2="2142.5" y2="156.2" stroke="#ff0000" stroke-width="1" />
<rect x="2141" y="146.2" width="3" height="3.8" fill="#ff0000" />
<line x1="2148.5" y1="141.2" x2="2148.5" y2="148.8" stroke="#ff0000" stroke-width="1" />
<rect x="2147" y="142.5" width="3" height="5" fill="#ff0000" />
<line x1="2154.5" y1="140" x2="2154.5" y2="147.5" stroke="#0000ff" stroke-width="1" />
<rect x="2153" y="142.5" width="3" height="2" fill="#0000ff" />
<line x1="2160.5" y1="136.2" x2="2160.5" y2="143.8" stroke="#ff0000" stroke-width="1" />
<rect x="2159" y="137" width="3" height="5.5" fill="#ff0000" />
<line x1="2166.5" y1="135" x2="2166.5" y2="142.5" stroke="#0000ff" stroke-width="1" />
<rect x="2165" y="136.2" width="3" height="5.8" fill="#0000ff" />
<line x1="2172.5" y1="136.2" x2="2172.5" y2="144.5" stroke="#0000ff" stroke-width="1" />
<rect x="2171" y="138.8" width="3" height="5" fill="#0000ff" />
<line x1="2178.5" y1="131.2" x2="2178.5" y2="151.2" stroke="#0000ff" stroke-width="1" />
<rect x="2177" y="142.5" width="3" height="3" fill="#0000ff" />
<line x1="2184.5" y1="141.2" x2="2184.5" y2="148.8" stroke="#0000ff" stroke-width="1" />
<rect x="2183" y="142.5" width="3" height="5" fill="#0000ff" />
<line x1="2190.5" y1="136.2" x2="2190.5" y2="158.8" stroke="#ff0000" stroke-width="1" />
<rect x="2189" y="140" width="3" height="10.8" fill="#ff0000" />
<line x1="2196.5" y1="127.5" x2="2196.5" y2="140" stroke="#ff0000" stroke-width="1" />
<rect x="2195" y="128.2" width="3" height="11.8" fill="#ff0000" />
<line x1="2208.5" y1="43.8" x2="2208.5" y2="136.2" stroke="#ff0000" stroke-width="1" />
<rect x="2207" y="60" width="3" height="76.2" fill="#ff0000" />
<line x1="2214.5" y1="57.5" x2="2214.5" y2="80" stroke="#0000ff" stroke-width="1" />
<rect x="2213" y="65" width="3" height="7.5" fill="#0000ff" />
<line x1="2220.5" y1="61.2" x2="2220.5" y2="76.2" stroke="#ff0000" stroke-width="1" />
<rect x="2219" y="68.8" width="3" height="3.8" fill="#ff0000" />
<line x1="2226.5" y1="61.2" x2="2226.5" y2="77.5" stroke="#0000ff" stroke-width="1" />
<rect x="2225" y="68.8" width="3" height="7.5" fill="#0000ff" />
<line x1="2232.5" y1="72.5" x2="2232.5" y2="96.2" stroke="#0000ff" stroke-width="1" />
<rect x="2231" y="75" width="3" height="17.5" fill="#0000ff" />
<line x1="2238.5" y1="87.5" x2="2238.5" y2="98.8" stroke="#0000ff" stroke-width="1" />
<rect x="2237" y="91.2" width="3" height="2.5" fill="#0000ff" />
<line x1="2244.5" y1="86.2" x2="2244.5" y2="92.5" stroke="#ff0000" stroke-width="1" />
<rect x="2243" y="88" width="3" height="2.5" fill="#ff0000" />
<line x1="2250.5" y1="86.2" x2="2250.5" y2="105" stroke="#0000ff" stroke-width="1" />
<rect x="2249" y="87.5" width="3" height="11.2" fill="#0000ff" />
<line x1="2256.5" y1="91.2" x2="2256.5" y2="105" stroke="#0000ff" stroke-width="1" />
<rect x="2255" y="96.2" width="3" height="2.5" fill="#0000ff" />
<line x1="2262.5" y1="98.8" x2="2262.5" y2="143.8" stroke="#0000ff" stroke-width="1" />
<rect x="2261" y="100" width="3" height="37.5" fill="#0000ff" />
<line x1="2268.5" y1="118.8" x2="2268.5" y2="140" stroke="#ff0000" stroke-width="1" />
<rect x="2267" y="120" width="3" height="20" fill="#ff0000" />
<line x1="2274.5" y1="116.2" x2="2274.5" y2="131.2" stroke="#0000ff" stroke-width="1" />
<rect x="2273" y="120" width="3" height="5" fill="#0000ff" />
<line x1="2280.5" y1="123.8" x2="2280.5" y2="137" stroke="#0000ff" stroke-width="1" />
<rect x="2279" y="125" width="3" height="11.2" fill="#0000ff" />
<line x1="2292.5" y1="137.5" x2="2292.5" y2="150" stroke="#ff0000" stroke-width="1" />
<rect x="2291" y="138.8" width="3" height="8.8" fill="#ff0000" />
<line x1="2298.5" y1="132.5" x2="2298.5" y2="142.5" stroke="#0000ff" stroke-width="1" />
<rect x="2297" y="136.2" width="3" height="3.8" fill="#0000ff" />
<line x1="2304.5" y1="135" x2="2304.5" y2="142.5" stroke="#ff0000" stroke-width="1" />
<rect x="2303" y="136.2" width="3" height="2.5" fill="#ff0000" />
<line x1="2310.5" y1="132.5" x2="2310.5" y2="138.8" stroke="#0000ff" stroke-width="1" />
<rect x="2309" y="135" width="3" height="2" fill="#0000ff" />
<line x1="2316.5" y1="135" x2="2316.5" y2="143.8" stroke="#0000ff" stroke-width="1" />
<rect x="2315" y="136.2" width="3" height="3.8" fill="#0000ff" />
<line x1="2322.5" y1="135" x2="2322.5" y2="142.5" stroke="#0000ff" stroke-width="1" />
<rect x="2321" y="136.2" width="3" height="3.8" fill="#0000ff" />
<line x1="2328.5" y1="138.8" x2="2328.5" y2="150.8" stroke="#0000ff" stroke-width="1" />
<rect x="2327" y="140" width="3" height="10" fill="#0000ff" />
<line x1="2334.5" y1="141.2" x2="2334.5" y2="153.8" stroke="#ff0000" stroke-width="1" />
<rect x="2333" y="142.5" width="3" height="6.2" fill="#ff0000" />
<line x1="2340.5" y1="141.2" x2="2340.5" y2="150.8" stroke="#ff0000" stroke-width="1" />
<rect x="2339" y="142.5" width="3" height="7.5" fill="#ff0000" />
<line x1="2346.5" y1="132.5" x2="2346.5" y2="147.5" stroke="#0000ff" stroke-width="1" />
<rect x="2345" y="142.5" width="3" height="2.5" fill="#0000ff" />
<line x1="2352.5" y1="140" x2="2352.5" y2="147" stroke="#ff0000" stroke-width="1" />
<rect x="2351" y="141.2" width="3" height="5" fill="#ff0000" />
<line x1="2358.5" y1="137.5" x2="2358.5" y2="150" stroke="#0000ff" stroke-width="1" />
<rect x="2357" y="138.8" width="3" height="8.8" fill="#0000ff" />
<line x1="2364.5" y1="142.5" x2="2364.5" y2="159.5" stroke="#0000ff" stroke-width="1" />
<rect x="2363" y="143.8" width="3" height="15" fill="#0000ff" />
<line x1="2370.5" y1="155" x2="2370.5" y2="165.8" stroke="#0000ff" stroke-width="1" />
<rect x="2369" y="156.2" width="3" height="8.8" fill="#0000ff" />
<line x1="2201" y1="131.5" x2="2204" y2="131.5" stroke="#0000ff" stroke-width="1" />
<line x1="2285" y1="132.5" x2="2288" y2="132.5" stroke="#0000ff" stroke-width="1" />
<line x1="2375" y1="170.5" x2="2378" y2="170.5" stroke="#0000ff" stroke-width="1" />
<polyline points="2141.6,167.4 2155.3,167.4 2167.9,168.2 2186.7,170.4 2275.7,170.4 2278.8,171.4 2343.4,171.6 2352,172.6 2355,171.2 2376.2,172.5" fill="none" stroke="#ffff00" stroke-width="1" />
<polyline points="1823.8,182.5 1824.4,178.3 1835.1,180.1 1860.1,180.8 1885.2,185.2 1910.3,190.2 1935.3,191.4 1960.4,193.9 1985.5,195.2 2010.6,193.9 2035.6,191.4 2060.7,188.9 2085.8,188.3 2117.7,185.2 2155.3,180.1 2201.7,173.9 2225.5,169.5 2268.2,163.8 2312,159.5 2352,155.7 2365,153.8 2376.2,152.5" fill="none" stroke="#500090" stroke-width="1" />
<polyline points="1823.8,180 1885,183.8 1935,187.5 2010,190 2085,193 2122.5,191.2 2160,186.2 2174.1,177 2192.9,172.6 2208,168.9 2218,163.8 2243.1,153.2 2268.2,143.8 2293.2,137.5 2312,132.5 2327.5,128.8 2352.5,127.5 2376.2,127.5" fill="none" stroke="#33d6d0" stroke-width="1" />
<polyline points="1823.8,183.8 1824.4,185.2 1835.1,181.4 1847.6,176.4 1860.1,172 1866.4,170.7 1878.9,172.6 1891.5,175.1 1904,177 1916.5,178.3 1935.3,178.3 1947.9,180.1 1960.4,183.9 1972.9,186.4 1985.5,188.9 1998,192 2010,190.5 2035,192.5 2060,194.5 2085,196.2 2110,196.2 2122.8,185.2 2136.5,181.4 2155.3,173.9 2180.4,165.1 2204.2,156.3 2211.7,149.4 2225.5,138.8 2236.8,130.6 2245,123.8 2260,120 2280,117.5 2315,117 2340,117.5 2355,120 2365,126.2 2376.2,131.2" fill="none" stroke="#0a4a14" stroke-width="1" />
<polyline points="1823.8,171.2 1824.4,177 1838.8,170.1 1847.6,167.6 1860.1,167 1872.7,168.9 1885.2,172.6 1897.7,176.4 1910.3,179.5 1922.8,181.4 1935.3,181.4 1947.9,182 1960.4,185.2 1972.9,187.7 1985.5,189.5 1998,190.8 2010.6,191.4 2023.1,191.4 2035.6,192 2060,194.5 2085,196.2 2110,193.8 2117.7,182.6 2136.5,177 2155.3,168.9 2180.4,158.8 2191.7,154.4 2204.2,146.3 2211.7,140 2223,131.3 2235,123.8 2250,117.5 2265,113.8 2280,112 2300,110.5 2315,110 2325,111.2 2340,120 2355,130 2365,136.2 2376.2,141.2" fill="none" stroke="#ff5a14" stroke-width="1" />
<polyline points="1823.8,163.8 1824.4,162.6 1838.8,162.8 1852.6,162.6 1860.1,166.3 1868.9,170.1 1877.7,176.4 1885.2,182.6 1895.2,190.2 1905.3,196.4 1915.3,198.9 1922.8,199.6 1930.3,195.2 1937.9,190.2 1947.9,186.4 1960.4,182.6 1967.9,181.4 1975.5,182.6 1985.5,187.7 1995.5,193.9 2005.5,195.2 2023.1,192.7 2035,193.8 2060,193.8 2080,196.2 2090.2,191.4 2105.2,183.9 2117.7,176.4 2130.3,166.3 2141.6,156.9 2150.3,148.8 2160.4,144.4 2167.9,143.8 2180.4,146.3 2192.9,144.4 2203,138.8 2210.5,130 2220,115 2232.5,100 2245,91.2 2255,87.5 2262.5,88.8 2272.5,97.5 2285,110 2300,122.5 2315,131.2 2330,137.5 2345,141.2 2360,143 2370,146.2 2376.2,149.5" fill="none" stroke="#00ff00" stroke-width="1" />
<polyline points="1823.8,163.8 1824.4,161.3 1838.2,162 1843.8,166.3 1851.4,166.3 1857.6,170.1 1865.2,173.9 1872.7,182.6 1880.2,190.2 1887.7,200.2 1895.2,206.5 1902.8,208.3 1910.3,206.5 1916.5,201.4 1922.8,195.2 1930.3,183.9 1935.3,173.9 1939.1,171.4 1942.9,172 1947.9,175.8 1957.9,182.6 1966.7,188.9 1972.5,190 1985,193.8 1997.5,197.5 2010,195 2022.5,191.2 2035,193.8 2047.5,193.8 2060,192.5 2072.5,197.5 2085,200 2092.7,190.2 2100.2,182.6 2110.2,167.6 2117.7,157.6 2125.3,150.7 2136.5,148.2 2142.8,146.3 2150.3,142.5 2167.9,141.3 2180.4,142.5 2192.9,142.5 2204.2,138.8 2207.5,120 2217.5,95 2227.5,77.5 2237.5,80 2247.5,86.2 2257.5,95 2265,107.5 2275,117.5 2285,128.8 2295,130 2305,135 2315,137.5 2325,138.8 2337.5,143.8 2347.5,145 2357.5,143.8 2365,147.5 2376.2,156.2" fill="none" stroke="#ff0000" stroke-width="1" />
<polyline points="1823.8,162.5 1824.4,162.6 1836.9,163.2 1841.3,167 1853.9,167.6 1860.1,175.1 1865.2,175.8 1870.2,180.1 1872.7,183.9 1880.2,185.2 1897.7,185.2 1905.3,190.2 1914,195.2 1922.8,188.9 1930.3,185.8 1942.9,185.2 1960.4,182 1972.9,181.6 1983,182.6 1991.7,188.9 2000.5,193.9 2010.6,193.3 2023.1,191.4 2028.1,192.7 2034.4,201.4 2067,202.1 2070,201.2 2070.1,204 2088.9,202.7 2095.2,197.7 2117.7,177.6 2127.8,168.9 2136.5,165.1 2142.8,160.1 2150.3,148.8 2160.4,143.8 2167.9,142.5 2180.4,145.7 2192.9,145 2204.2,140.7 2208,136.3 2238.8,100.8 2247.5,87.5 2256.2,80 2262.5,98.8 2272.5,102.5 2280,107.5 2290,115 2302.5,121.2 2315,131.2 2325,133.8 2333.8,142.5 2355,143 2360,145 2376.2,151.2" fill="none" stroke="#ff0000" stroke-width="3" stroke-linejoin="round"/>
<polyline points="1823.8,193.8 1824.4,195.2 1847.6,193.9 1855.1,190.2 1863.9,185.2 1942.9,185.2 1945.4,177.6 1946.6,185.2 1998,185.2 2005.5,188.3 2028.1,188.3 2033.8,191.4 2111.5,191.4 2117.7,178.3 2201.7,178.3 2205.5,155.1 2208,136.3 2220.5,136.3 2226.8,130 2232.5,125 2240,121.2 2247.5,110 2255,105 2260,101.2 2340,100.8 2347.5,98.2 2357.5,98.8 2365,107.5 2370,112.5 2376.2,115" fill="none" stroke="#0000ff" stroke-width="3" stroke-linejoin="round"/>
<polyline points="1823.8,190 1824.4,191.4 1830.1,201.4 1847.6,198.9 1855.1,188.9 1862.6,192.7 1868.9,190.2 1876.4,185.2 1880.2,192.7 1884,205.2 1890.2,191.4 1896.5,183.9 1902.8,193.9 1909,192.7 1915.3,191.4 1920.3,188.9 1925.3,205.2 1930.3,201.4 1937.9,188.9 1942.9,166.3 1947.9,163.2 1960.4,155.1 1969.2,138.8 1975,145 1982.5,150 1990,148.8 2000,143.8 2005,143.8 2012.5,137 2022.5,143.8 2030,147.5 2036.2,146.2 2046.2,132.5 2052.5,131.2 2056.2,95 2058.8,62 2062.5,71.2 2070,70 2076.2,77.5 2082.5,91.2 2092.5,87.5 2100,96.2 2106.2,102.5 2112.5,135 2118.8,122.5 2125,125 2132.5,136.2 2134,133.8 2139,135 2144.1,138.8 2154.1,136.3 2160.4,136.3 2166.6,138.8 2171.6,139.4 2179.2,148.8 2184.2,147.5 2191.7,143.8 2196.7,146.3 2204.2,141.3 2210.5,151.3 2215.5,158.8 2220.5,163.8 2225.5,168.9 2226.2,170" fill="none" stroke="#008000" stroke-width="3" stroke-linejoin="round"/>
<text x="1828" y="38" fill="#000" class="j">日経</text>
<text transform="translate(1852 38) scale(.7692 1)" fill="#000" class="l" xml:space="preserve">225mini 11/09( 30</text>
<text x="1954" y="38" fill="#000" class="j">分</text>
<text transform="translate(1966 38) scale(.7692 1)" fill="#000" class="l" xml:space="preserve">, 2011/06/02 - 2011/06/10 )</text>
<text x="2148" y="38" fill="#000" class="j">移動平均</text>
<text transform="translate(2196 38) scale(.7692 1)" fill="#000" class="l" xml:space="preserve">( Close, 10 )</text>
<text x="1828" y="52" fill="#000" class="j">一目均衡表</text>
<text transform="translate(1888 52) scale(.7692 1)" fill="#000" class="l" xml:space="preserve">( 9, 26, 52 )</text>
<text x="1986" y="52" fill="#000" class="j">移動平均</text>
<text transform="translate(2034 52) scale(.7692 1)" fill="#000" class="l" xml:space="preserve">( Close, 150 )</text>
<text x="2138" y="52" fill="#000" class="j">移動平均</text>
<text transform="translate(2186 52) scale(.7692 1)" fill="#000" class="l" xml:space="preserve">( Close, 20 )</text>
<text x="2284" y="52" fill="#000" class="j">移動平均</text>
<text transform="translate(2332 52) scale(.7692 1)" fill="#000" class="l" xml:space="preserve">( Close, 5 )</text>
</g>
<text x="1828" y="255" fill="#000" class="j">出来高</text>
<text x="1828" y="348.5" fill="#000" class="j">移動平均</text>
<text transform="translate(1876 348.5) scale(.7692 1)" fill="#000" class="l" xml:space="preserve">( Close, 75 )</text>
<text transform="translate(1974 348.5) scale(.7692 1)" fill="#000" class="l" xml:space="preserve">MACD( 12, 26, 9 )</text>
<text x="1828" y="442" fill="#000" class="j">スロー・ストキャスティクス</text>
<text transform="translate(1984 442) scale(.7692 1)" fill="#000" class="l" xml:space="preserve">( 14, 3, 80, 20 )</text>
<line x1="2385.5" y1="25" x2="2385.5" y2="551" stroke="#000" stroke-width="1" />
<line x1="1824" y1="521.5" x2="2437" y2="521.5" stroke="#000" stroke-width="1" />
<line x1="1860.5" y1="521" x2="1860.5" y2="529" stroke="#000" stroke-width="1" />
<line x1="2034.5" y1="521" x2="2034.5" y2="529" stroke="#000" stroke-width="1" />
<line x1="2208.5" y1="521" x2="2208.5" y2="529" stroke="#000" stroke-width="1" />
<line x1="2382.5" y1="521" x2="2382.5" y2="529" stroke="#000" stroke-width="1" />
<line x1="2385" y1="43.5" x2="2391" y2="43.5" stroke="#000" stroke-width="1" />
<text transform="translate(2393.8 49) scale(.7692 1)" fill="#000" class="l" xml:space="preserve">9,620</text>
<line x1="2385" y1="80.5" x2="2391" y2="80.5" stroke="#000" stroke-width="1" />
<text transform="translate(2393.8 86) scale(.7692 1)" fill="#000" class="l" xml:space="preserve">9,570</text>
<line x1="2385" y1="117.5" x2="2391" y2="117.5" stroke="#000" stroke-width="1" />
<text transform="translate(2393.8 123) scale(.7692 1)" fill="#000" class="l" xml:space="preserve">9,520</text>
<line x1="2385" y1="154.5" x2="2391" y2="154.5" stroke="#000" stroke-width="1" />
<text transform="translate(2393.8 160) scale(.7692 1)" fill="#000" class="l" xml:space="preserve">9,470</text>
<line x1="2385" y1="191.5" x2="2391" y2="191.5" stroke="#000" stroke-width="1" />
<text transform="translate(2393.8 197) scale(.7692 1)" fill="#000" class="l" xml:space="preserve">9,420</text>
<line x1="2385" y1="228.5" x2="2391" y2="228.5" stroke="#000" stroke-width="1" />
<text transform="translate(2393.8 234) scale(.7692 1)" fill="#000" class="l" xml:space="preserve">9,370</text>
<line x1="2385" y1="260.5" x2="2391" y2="260.5" stroke="#000" stroke-width="1" />
<text transform="translate(2393.8 266) scale(.7692 1)" fill="#000" class="l" xml:space="preserve">110.00</text>
<line x1="2385" y1="297.5" x2="2391" y2="297.5" stroke="#000" stroke-width="1" />
<text transform="translate(2393.8 303) scale(.7692 1)" fill="#000" class="l" xml:space="preserve">40.00</text>
<line x1="2385" y1="353.5" x2="2391" y2="353.5" stroke="#000" stroke-width="1" />
<text transform="translate(2393.8 359) scale(.7692 1)" fill="#000" class="l" xml:space="preserve">33.00</text>
<line x1="2385" y1="390.5" x2="2391" y2="390.5" stroke="#000" stroke-width="1" />
<text transform="translate(2393.8 396) scale(.7692 1)" fill="#000" class="l" xml:space="preserve">5.50</text>
<line x1="2385" y1="446.5" x2="2391" y2="446.5" stroke="#000" stroke-width="1" />
<text transform="translate(2393.8 452) scale(.7692 1)" fill="#000" class="l" xml:space="preserve">100.00</text>
<line x1="2385" y1="485.5" x2="2391" y2="485.5" stroke="#000" stroke-width="1" />
<text transform="translate(2393.8 491) scale(.7692 1)" fill="#000" class="l" xml:space="preserve">40.00</text>
<text transform="translate(1859.5 541) scale(.7692 1)" fill="#000" class="l" xml:space="preserve">06/08</text>
<text transform="translate(2033.5 541) scale(.7692 1)" fill="#000" class="l" xml:space="preserve">06/09</text>
<text transform="translate(2207.5 541) scale(.7692 1)" fill="#000" class="l" xml:space="preserve">06/10</text>
<clipPath id="c3b"><rect x="2370" y="525" width="15" height="25"/></clipPath><g clip-path="url(#c3b)">
<text transform="translate(2381.5 541) scale(.7692 1)" fill="#000" class="l" xml:space="preserve">06/1</text>
</g>
<rect x="2389" y="319" width="45" height="13.5" fill="#fff" stroke="#000" stroke-width="1"/>
<text x="2390" y="330" fill="#000" class="j">×</text>
<text transform="translate(2408 330) scale(.7692 1)" fill="#000" class="l" xml:space="preserve">1000</text>
<rect x="1841" y="318" width="3" height="1.5" fill="#008000" />
<rect x="1847" y="318" width="3" height="1.5" fill="#008000" />
<rect x="1859" y="312" width="3" height="7.5" fill="#008000" />
<rect x="1865" y="313" width="3" height="6.5" fill="#008000" />
<rect x="1871" y="313" width="3" height="6.5" fill="#008000" />
<rect x="1877" y="317" width="3" height="2.5" fill="#008000" />
<rect x="1901" y="318" width="3" height="1.5" fill="#008000" />
<rect x="1907" y="314" width="3" height="5.5" fill="#008000" />
<rect x="1913" y="317" width="3" height="2.5" fill="#008000" />
<rect x="1919" y="318" width="3" height="1.5" fill="#008000" />
<rect x="1925" y="314" width="3" height="5.5" fill="#008000" />
<rect x="1931" y="317" width="3" height="2.5" fill="#008000" />
<rect x="1943" y="317" width="3" height="2.5" fill="#008000" />
<rect x="1949" y="318" width="3" height="1.5" fill="#008000" />
<rect x="1955" y="318" width="3" height="1.5" fill="#008000" />
<rect x="2009" y="318" width="3" height="1.5" fill="#008000" />
<rect x="2015" y="318" width="3" height="1.5" fill="#008000" />
<rect x="2033" y="304" width="3" height="15.5" fill="#008000" />
<rect x="2039" y="312" width="3" height="7.5" fill="#008000" />
<rect x="2045" y="312.5" width="3" height="7" fill="#008000" />
<rect x="2051" y="310" width="3" height="9.5" fill="#008000" />
<rect x="2057" y="316" width="3" height="3.5" fill="#008000" />
<rect x="2069" y="306" width="3" height="13.5" fill="#008000" />
<rect x="2075" y="312" width="3" height="7.5" fill="#008000" />
<rect x="2081" y="316" width="3" height="3.5" fill="#008000" />
<rect x="2087" y="309" width="3" height="10.5" fill="#008000" />
<rect x="2093" y="305" width="3" height="14.5" fill="#008000" />
<rect x="2099" y="308" width="3" height="11.5" fill="#008000" />
<rect x="2105" y="309" width="3" height="10.5" fill="#008000" />
<rect x="2111" y="318" width="3" height="1.5" fill="#008000" />
<rect x="2117" y="313" width="3" height="6.5" fill="#008000" />
<rect x="2123" y="315" width="3" height="4.5" fill="#008000" />
<rect x="2129" y="316" width="3" height="3.5" fill="#008000" />
<rect x="2135" y="317" width="3" height="2.5" fill="#008000" />
<rect x="2141" y="316" width="3" height="3.5" fill="#008000" />
<rect x="2147" y="318" width="3" height="1.5" fill="#008000" />
<rect x="2159" y="318.5" width="3" height="1" fill="#008000" />
<rect x="2171" y="318" width="3" height="1.5" fill="#008000" />
<rect x="2177" y="315" width="3" height="4.5" fill="#008000" />
<rect x="2183" y="317" width="3" height="2.5" fill="#008000" />
<rect x="2189" y="316" width="3" height="3.5" fill="#008000" />
<rect x="2195" y="317" width="3" height="2.5" fill="#008000" />
<rect x="2207" y="262.5" width="3" height="57" fill="#008000" />
<rect x="2213" y="300.5" width="3" height="19" fill="#008000" />
<rect x="2219" y="308.5" width="3" height="11" fill="#008000" />
<rect x="2225" y="306.5" width="3" height="13" fill="#008000" />
<rect x="2231" y="311.5" width="3" height="8" fill="#008000" />
<rect x="2237" y="317.5" width="3" height="2" fill="#008000" />
<rect x="2243" y="317.5" width="3" height="2" fill="#008000" />
<rect x="2249" y="308.5" width="3" height="11" fill="#008000" />
<rect x="2255" y="312.5" width="3" height="7" fill="#008000" />
<rect x="2261" y="297.5" width="3" height="22" fill="#008000" />
<rect x="2267" y="307.5" width="3" height="12" fill="#008000" />
<rect x="2273" y="310.5" width="3" height="9" fill="#008000" />
<rect x="2279" y="313.5" width="3" height="6" fill="#008000" />
<rect x="2285" y="317.5" width="3" height="2" fill="#008000" />
<rect x="2291" y="316.5" width="3" height="3" fill="#008000" />
<rect x="2297" y="315.5" width="3" height="4" fill="#008000" />
<rect x="2303" y="316.5" width="3" height="3" fill="#008000" />
<rect x="2309" y="318.5" width="3" height="1" fill="#008000" />
<rect x="2315" y="318.5" width="3" height="1" fill="#008000" />
<rect x="2321" y="317.5" width="3" height="2" fill="#008000" />
<rect x="2327" y="317.5" width="3" height="2" fill="#008000" />
<rect x="2333" y="318.5" width="3" height="1" fill="#008000" />
<rect x="2345" y="317.5" width="3" height="2" fill="#008000" />
<rect x="2351" y="318.5" width="3" height="1" fill="#008000" />
<rect x="2357" y="318.5" width="3" height="1" fill="#008000" />
<rect x="2363" y="316.5" width="3" height="3" fill="#008000" />
<rect x="2369" y="316.5" width="3" height="3" fill="#008000" />
<rect x="2375" y="318.5" width="3" height="1" fill="#008000" />
<line x1="1824" y1="319.5" x2="2378" y2="319.5" stroke="#000" stroke-width="1" />
<line x1="1824" y1="398.5" x2="2378" y2="398.5" stroke="#808080" stroke-width="1" />
<polyline points="1823.8,390 1847.5,392.5 1872.5,397.5 1897.5,403.8 1922.5,407.5 1960,411.8 2010,411.8 2035,409.5 2060,407.5 2085,405.5 2110,401.2 2135,395 2140,397.5 2165,391.2 2190,386.2 2215,380 2240,373.8 2255,371.2 2280,369.5 2302.5,366.2 2330,362.5 2355,357.5 2376.2,357.5" fill="none" stroke="#ffb6c1" stroke-width="1" />
<line x1="1866.5" y1="398.5" x2="1866.5" y2="401.5" stroke="#ff0000" stroke-width="1" />
<line x1="1872.5" y1="398.5" x2="1872.5" y2="404.5" stroke="#ff0000" stroke-width="1" />
<line x1="1878.5" y1="398.5" x2="1878.5" y2="407.5" stroke="#ff0000" stroke-width="1" />
<line x1="1884.5" y1="398.5" x2="1884.5" y2="409.5" stroke="#ff0000" stroke-width="1" />
<line x1="1890.5" y1="398.5" x2="1890.5" y2="409" stroke="#ff0000" stroke-width="1" />
<line x1="1896.5" y1="398.5" x2="1896.5" y2="407.5" stroke="#ff0000" stroke-width="1" />
<line x1="1902.5" y1="398.5" x2="1902.5" y2="405.5" stroke="#ff0000" stroke-width="1" />
<line x1="1908.5" y1="398.5" x2="1908.5" y2="403.5" stroke="#ff0000" stroke-width="1" />
<line x1="1914.5" y1="398.5" x2="1914.5" y2="401.5" stroke="#ff0000" stroke-width="1" />
<line x1="1920.5" y1="398.5" x2="1920.5" y2="399.5" stroke="#ff0000" stroke-width="1" />
<line x1="1926.5" y1="398.5" x2="1926.5" y2="397" stroke="#ff0000" stroke-width="1" />
<line x1="1932.5" y1="398.5" x2="1932.5" y2="395" stroke="#ff0000" stroke-width="1" />
<line x1="1938.5" y1="398.5" x2="1938.5" y2="393.5" stroke="#ff0000" stroke-width="1" />
<line x1="1944.5" y1="398.5" x2="1944.5" y2="395" stroke="#ff0000" stroke-width="1" />
<line x1="1950.5" y1="398.5" x2="1950.5" y2="397" stroke="#ff0000" stroke-width="1" />
<line x1="1956.5" y1="398.5" x2="1956.5" y2="397.9" stroke="#ff0000" stroke-width="1" />
<line x1="1980.5" y1="398.5" x2="1980.5" y2="399.5" stroke="#ff0000" stroke-width="1" />
<line x1="1992.5" y1="398.5" x2="1992.5" y2="400" stroke="#ff0000" stroke-width="1" />
<line x1="1998.5" y1="398.5" x2="1998.5" y2="399.5" stroke="#ff0000" stroke-width="1" />
<line x1="2022.5" y1="398.5" x2="2022.5" y2="397.9" stroke="#ff0000" stroke-width="1" />
<line x1="2046.5" y1="398.5" x2="2046.5" y2="397.5" stroke="#ff0000" stroke-width="1" />
<line x1="2058.5" y1="398.5" x2="2058.5" y2="397.5" stroke="#ff0000" stroke-width="1" />
<line x1="2070.5" y1="398.5" x2="2070.5" y2="397.5" stroke="#ff0000" stroke-width="1" />
<line x1="2088.5" y1="398.5" x2="2088.5" y2="397.5" stroke="#ff0000" stroke-width="1" />
<line x1="2094.5" y1="398.5" x2="2094.5" y2="395" stroke="#ff0000" stroke-width="1" />
<line x1="2100.5" y1="398.5" x2="2100.5" y2="392.5" stroke="#ff0000" stroke-width="1" />
<line x1="2106.5" y1="398.5" x2="2106.5" y2="391" stroke="#ff0000" stroke-width="1" />
<line x1="2112.5" y1="398.5" x2="2112.5" y2="390.5" stroke="#ff0000" stroke-width="1" />
<line x1="2118.5" y1="398.5" x2="2118.5" y2="389" stroke="#ff0000" stroke-width="1" />
<line x1="2124.5" y1="398.5" x2="2124.5" y2="389.5" stroke="#ff0000" stroke-width="1" />
<line x1="2130.5" y1="398.5" x2="2130.5" y2="390.5" stroke="#ff0000" stroke-width="1" />
<line x1="2136.5" y1="398.5" x2="2136.5" y2="391.5" stroke="#ff0000" stroke-width="1" />
<line x1="2142.5" y1="398.5" x2="2142.5" y2="392.5" stroke="#ff0000" stroke-width="1" />
<line x1="2148.5" y1="398.5" x2="2148.5" y2="393.5" stroke="#ff0000" stroke-width="1" />
<line x1="2154.5" y1="398.5" x2="2154.5" y2="393.5" stroke="#ff0000" stroke-width="1" />
<line x1="2160.5" y1="398.5" x2="2160.5" y2="394.5" stroke="#ff0000" stroke-width="1" />
<line x1="2166.5" y1="398.5" x2="2166.5" y2="395.5" stroke="#ff0000" stroke-width="1" />
<line x1="2172.5" y1="398.5" x2="2172.5" y2="396.5" stroke="#ff0000" stroke-width="1" />
<line x1="2178.5" y1="398.5" x2="2178.5" y2="397.9" stroke="#ff0000" stroke-width="1" />
<line x1="2196.5" y1="398.5" x2="2196.5" y2="397.9" stroke="#ff0000" stroke-width="1" />
<line x1="2202.5" y1="398.5" x2="2202.5" y2="397.9" stroke="#ff0000" stroke-width="1" />
<line x1="2208.5" y1="398.5" x2="2208.5" y2="390.5" stroke="#ff0000" stroke-width="1" />
<line x1="2214.5" y1="398.5" x2="2214.5" y2="387.5" stroke="#ff0000" stroke-width="1" />
<line x1="2220.5" y1="398.5" x2="2220.5" y2="385.5" stroke="#ff0000" stroke-width="1" />
<line x1="2226.5" y1="398.5" x2="2226.5" y2="386.5" stroke="#ff0000" stroke-width="1" />
<line x1="2232.5" y1="398.5" x2="2232.5" y2="389" stroke="#ff0000" stroke-width="1" />
<line x1="2238.5" y1="398.5" x2="2238.5" y2="392" stroke="#ff0000" stroke-width="1" />
<line x1="2244.5" y1="398.5" x2="2244.5" y2="394.5" stroke="#ff0000" stroke-width="1" />
<line x1="2250.5" y1="398.5" x2="2250.5" y2="397.5" stroke="#ff0000" stroke-width="1" />
<line x1="2256.5" y1="398.5" x2="2256.5" y2="399.1" stroke="#ff0000" stroke-width="1" />
<line x1="2262.5" y1="398.5" x2="2262.5" y2="404.5" stroke="#ff0000" stroke-width="1" />
<line x1="2268.5" y1="398.5" x2="2268.5" y2="407" stroke="#ff0000" stroke-width="1" />
<line x1="2274.5" y1="398.5" x2="2274.5" y2="409" stroke="#ff0000" stroke-width="1" />
<line x1="2280.5" y1="398.5" x2="2280.5" y2="410" stroke="#ff0000" stroke-width="1" />
<line x1="2286.5" y1="398.5" x2="2286.5" y2="410.5" stroke="#ff0000" stroke-width="1" />
<line x1="2292.5" y1="398.5" x2="2292.5" y2="410.5" stroke="#ff0000" stroke-width="1" />
<line x1="2298.5" y1="398.5" x2="2298.5" y2="410.5" stroke="#ff0000" stroke-width="1" />
<line x1="2304.5" y1="398.5" x2="2304.5" y2="409.5" stroke="#ff0000" stroke-width="1" />
<line x1="2310.5" y1="398.5" x2="2310.5" y2="408.5" stroke="#ff0000" stroke-width="1" />
<line x1="2316.5" y1="398.5" x2="2316.5" y2="407.5" stroke="#ff0000" stroke-width="1" />
<line x1="2322.5" y1="398.5" x2="2322.5" y2="407" stroke="#ff0000" stroke-width="1" />
<line x1="2328.5" y1="398.5" x2="2328.5" y2="406.5" stroke="#ff0000" stroke-width="1" />
<line x1="2334.5" y1="398.5" x2="2334.5" y2="406" stroke="#ff0000" stroke-width="1" />
<line x1="2340.5" y1="398.5" x2="2340.5" y2="405" stroke="#ff0000" stroke-width="1" />
<line x1="2346.5" y1="398.5" x2="2346.5" y2="404.5" stroke="#ff0000" stroke-width="1" />
<line x1="2352.5" y1="398.5" x2="2352.5" y2="403" stroke="#ff0000" stroke-width="1" />
<line x1="2358.5" y1="398.5" x2="2358.5" y2="402.5" stroke="#ff0000" stroke-width="1" />
<line x1="2364.5" y1="398.5" x2="2364.5" y2="403" stroke="#ff0000" stroke-width="1" />
<line x1="2370.5" y1="398.5" x2="2370.5" y2="404" stroke="#ff0000" stroke-width="1" />
<line x1="2376.5" y1="398.5" x2="2376.5" y2="405" stroke="#ff0000" stroke-width="1" />
<line x1="1824.5" y1="398.5" x2="1824.5" y2="397.9" stroke="#ff0000" stroke-width="1" />
<line x1="1836.5" y1="398.5" x2="1836.5" y2="397.9" stroke="#ff0000" stroke-width="1" />
<line x1="1848.5" y1="398.5" x2="1848.5" y2="397.9" stroke="#ff0000" stroke-width="1" />
<line x1="1860.5" y1="398.5" x2="1860.5" y2="397.9" stroke="#ff0000" stroke-width="1" />
<line x1="1962.5" y1="398.5" x2="1962.5" y2="397.9" stroke="#ff0000" stroke-width="1" />
<line x1="1968.5" y1="398.5" x2="1968.5" y2="397.9" stroke="#ff0000" stroke-width="1" />
<line x1="1974.5" y1="398.5" x2="1974.5" y2="397.9" stroke="#ff0000" stroke-width="1" />
<line x1="2004.5" y1="398.5" x2="2004.5" y2="397.9" stroke="#ff0000" stroke-width="1" />
<line x1="2010.5" y1="398.5" x2="2010.5" y2="397.9" stroke="#ff0000" stroke-width="1" />
<line x1="2034.5" y1="398.5" x2="2034.5" y2="397.9" stroke="#ff0000" stroke-width="1" />
<line x1="2076.5" y1="398.5" x2="2076.5" y2="397.9" stroke="#ff0000" stroke-width="1" />
<polyline points="1823.8,378 1835,378.8 1847.5,381.2 1860,383.8 1872.5,392.5 1885,403.8 1897.5,409.5 1907.5,411.2 1917.5,406.2 1930,400 1940,396.2 1950,398.8 1965,400 1980,402 1997.5,405.5 2010,403.8 2025,402 2035,403 2050,400 2060,399.2 2075,400.5 2087.5,400 2097.5,393.8 2110,383.8 2122.5,378.8 2140,377 2140,376.8 2157.5,374.5 2172.5,374.5 2182.5,376.8 2202.5,376.2 2210,365 2217.5,357.5 2226.2,353.2 2237.5,355 2247.5,357.5 2256.2,361.2 2265,372.5 2275,380 2285,387.5 2295,393.8 2310,398 2325,402.5 2340,406.2 2352.5,406.8 2365,409.5 2376.2,413.8" fill="none" stroke="#ffff00" stroke-width="1" />
<polyline points="1823.8,380 1840,379.5 1857.5,380 1872.5,384.5 1890,392.5 1905,400 1912.5,403 1925,403 1940,399.5 1955,399.5 1972.5,400 1990,402 2005,403.8 2022.5,403.2 2035,403.8 2055,402 2085,401.2 2100,397.5 2117.5,390 2135,385 2140,383.8 2155,381.2 2170,377.5 2202.5,377 2215,371.2 2227.5,365 2240,361.2 2256.2,360.8 2270,365 2285,373.8 2302.5,383.8 2315,388.2 2330,395 2345,399.5 2360,402 2376.2,407" fill="none" stroke="#0000ff" stroke-width="1" />
<line x1="1824" y1="459.5" x2="2378" y2="459.5" stroke="#0000ff" stroke-width="1" />
<line x1="1824" y1="498.5" x2="2378" y2="498.5" stroke="#ff0000" stroke-width="1" />
<polyline points="1823.8,456.2 1835,457.5 1845,465 1855,467.5 1862.5,471.2 1870,480 1877.5,490 1885,497.5 1892.5,502 1902.5,504.5 1910,501.2 1917.5,492.5 1925,481.2 1932.5,471.2 1938.8,463 1945,463 1951.2,470 1957.5,479.5 1965,483 1975,483.2 1982.5,487.5 1990,492.5 1998.8,498 2007.5,494.5 2017.5,492.5 2025,487.5 2032.5,482 2042.5,473.8 2050,467.5 2060,465.8 2070,465.8 2080,468.8 2087.5,470 2095,463.8 2102.5,456.2 2110,451.2 2120,450 2127.5,453.8 2137.5,457.5 2140,458.8 2152.5,457 2165,455 2172.5,457.5 2180,463.8 2187.5,470 2195,468.8 2202.5,462.5 2210,458.2 2220,459.5 2230,463 2240,468 2250,470.8 2257.5,475 2265,482.5 2272.5,488.8 2280,495 2287.5,499.5 2295,502 2305,502 2315,500.8 2325,500.8 2332.5,503 2340,503 2347.5,500.5 2355,496.2 2362.5,494.5 2370,498.8 2376.2,502.5" fill="none" stroke="#ff0000" stroke-width="1" />
<polyline points="1823.8,456.2 1835,458.8 1842.5,471.2 1854.5,466.2 1860.5,471.2 1866.5,482.5 1872.5,488.8 1878.5,498 1884.5,502 1890.5,504.2 1896.5,503.2 1902.5,503.2 1908.5,500 1914.5,487.5 1920.5,480 1926.5,472.5 1932.5,461.2 1938.5,456.8 1944.5,468.8 1950.5,478.8 1956.5,484.5 1962.5,484.2 1968.5,482 1974.5,483.8 1980.5,490 1986.5,493.8 1992.5,497 1998.5,499.5 2004.5,492.5 2010.5,491.2 2016.5,493.2 2022.5,487 2028.5,478.2 2034.5,481.2 2040.5,471.2 2046.5,463.2 2052.5,467 2058.5,466.2 2064.5,465.8 2070.5,463.8 2076.5,473.2 2082.5,471.2 2088.5,466.2 2094.5,455.8 2100.5,452.5 2106.5,451.2 2112.5,448.8 2118.5,451.2 2124.5,454.2 2130.5,457.5 2136.5,458.8 2140,458 2150,457 2160.5,453.8 2166.5,455 2172.5,461.2 2178.5,467.5 2184.5,472.5 2190.5,470 2196.5,461.2 2202.5,457.5 2208.5,457.5 2214.5,459.5 2220.5,460.8 2226.5,463.8 2232.5,467.5 2238.5,470 2244.5,470.5 2250.5,473.8 2256.5,476.2 2262.5,486.8 2268.5,488 2274.5,493.8 2280.5,500 2286.5,502 2292.5,502 2298.5,502 2304.5,500.5 2310.5,500.5 2316.5,500.5 2322.5,500.5 2328.5,505 2334.5,503.8 2340.5,500.5 2346.5,500 2352.5,492.5 2358.5,493.2 2364.5,498.8 2370.5,504.5 2376.2,506.8" fill="none" stroke="#0000ff" stroke-width="1" />
<clipPath id="c4"><rect x="2461" y="28" width="412" height="498"/></clipPath>
<line x1="2491.5" y1="29" x2="2491.5" y2="525" stroke="#b0b0b0" stroke-width="1" stroke-dasharray="3,3"/>
<line x1="2539.5" y1="29" x2="2539.5" y2="525" stroke="#b0b0b0" stroke-width="1" stroke-dasharray="3,3"/>
<line x1="2587.5" y1="29" x2="2587.5" y2="525" stroke="#b0b0b0" stroke-width="1" stroke-dasharray="3,3"/>
<line x1="2635.5" y1="29" x2="2635.5" y2="525" stroke="#b0b0b0" stroke-width="1" stroke-dasharray="3,3"/>
<line x1="2683.5" y1="29" x2="2683.5" y2="525" stroke="#b0b0b0" stroke-width="1" stroke-dasharray="3,3"/>
<line x1="2731.5" y1="29" x2="2731.5" y2="525" stroke="#b0b0b0" stroke-width="1" stroke-dasharray="3,3"/>
<line x1="2779.5" y1="29" x2="2779.5" y2="525" stroke="#b0b0b0" stroke-width="1" stroke-dasharray="3,3"/>
<line x1="2827.5" y1="29" x2="2827.5" y2="525" stroke="#b0b0b0" stroke-width="1" stroke-dasharray="3,3"/>
<line x1="2462" y1="47.5" x2="2873" y2="47.5" stroke="#b0b0b0" stroke-width="1" stroke-dasharray="3,3"/>
<line x1="2462" y1="86.5" x2="2873" y2="86.5" stroke="#b0b0b0" stroke-width="1" stroke-dasharray="3,3"/>
<line x1="2462" y1="125.5" x2="2873" y2="125.5" stroke="#b0b0b0" stroke-width="1" stroke-dasharray="3,3"/>
<line x1="2462" y1="165.5" x2="2873" y2="165.5" stroke="#b0b0b0" stroke-width="1" stroke-dasharray="3,3"/>
<line x1="2462" y1="204.5" x2="2873" y2="204.5" stroke="#b0b0b0" stroke-width="1" stroke-dasharray="3,3"/>
<line x1="2462" y1="263.5" x2="2873" y2="263.5" stroke="#b0b0b0" stroke-width="1" stroke-dasharray="3,3"/>
<line x1="2462" y1="301.5" x2="2873" y2="301.5" stroke="#b0b0b0" stroke-width="1" stroke-dasharray="3,3"/>
<line x1="2462" y1="357.5" x2="2873" y2="357.5" stroke="#b0b0b0" stroke-width="1" stroke-dasharray="3,3"/>
<line x1="2462" y1="395.5" x2="2873" y2="395.5" stroke="#b0b0b0" stroke-width="1" stroke-dasharray="3,3"/>
<line x1="2462" y1="449.5" x2="2873" y2="449.5" stroke="#b0b0b0" stroke-width="1" stroke-dasharray="3,3"/>
<line x1="2462" y1="488.5" x2="2873" y2="488.5" stroke="#b0b0b0" stroke-width="1" stroke-dasharray="3,3"/>
<g clip-path="url(#c4)">
<line x1="2713.5" y1="150" x2="2713.5" y2="174.6" stroke="#0000ff" stroke-width="1" />
<line x1="2719.5" y1="150" x2="2719.5" y2="183.7" stroke="#0000ff" stroke-width="1" />
<line x1="2725.5" y1="150" x2="2725.5" y2="183.1" stroke="#0000ff" stroke-width="1" />
<line x1="2731.5" y1="150" x2="2731.5" y2="182.5" stroke="#0000ff" stroke-width="1" />
<line x1="2737.5" y1="150" x2="2737.5" y2="185.5" stroke="#0000ff" stroke-width="1" />
<line x1="2743.5" y1="150" x2="2743.5" y2="188.5" stroke="#0000ff" stroke-width="1" />
<line x1="2749.5" y1="150" x2="2749.5" y2="188.8" stroke="#0000ff" stroke-width="1" />
<line x1="2755.5" y1="150" x2="2755.5" y2="188.8" stroke="#0000ff" stroke-width="1" />
<line x1="2761.5" y1="155" x2="2761.5" y2="188.8" stroke="#0000ff" stroke-width="1" />
<line x1="2767.5" y1="159.8" x2="2767.5" y2="188.8" stroke="#0000ff" stroke-width="1" />
<line x1="2773.5" y1="164.6" x2="2773.5" y2="188.8" stroke="#0000ff" stroke-width="1" />
<line x1="2779.5" y1="174" x2="2779.5" y2="189.8" stroke="#0000ff" stroke-width="1" />
<line x1="2785.5" y1="177" x2="2785.5" y2="190" stroke="#0000ff" stroke-width="1" />
<line x1="2791.5" y1="177.5" x2="2791.5" y2="190" stroke="#0000ff" stroke-width="1" />
<line x1="2797.5" y1="177.5" x2="2797.5" y2="188.7" stroke="#0000ff" stroke-width="1" />
<line x1="2803.5" y1="177.5" x2="2803.5" y2="186.4" stroke="#0000ff" stroke-width="1" />
<line x1="2809.5" y1="177.5" x2="2809.5" y2="184.2" stroke="#0000ff" stroke-width="1" />
<line x1="2815.5" y1="177.5" x2="2815.5" y2="182.5" stroke="#0000ff" stroke-width="1" />
<line x1="2821.5" y1="177.5" x2="2821.5" y2="182.5" stroke="#0000ff" stroke-width="1" />
<line x1="2827.5" y1="177.5" x2="2827.5" y2="182.5" stroke="#0000ff" stroke-width="1" />
<line x1="2833.5" y1="182" x2="2833.5" y2="193.8" stroke="#0000ff" stroke-width="1" />
<line x1="2839.5" y1="187.5" x2="2839.5" y2="194.2" stroke="#0000ff" stroke-width="1" />
<line x1="2845.5" y1="187.5" x2="2845.5" y2="194.6" stroke="#0000ff" stroke-width="1" />
<line x1="2851.5" y1="187.5" x2="2851.5" y2="195" stroke="#0000ff" stroke-width="1" />
<line x1="2863.5" y1="190.5" x2="2863.5" y2="197.5" stroke="#ff0000" stroke-width="1" />
<line x1="2869.5" y1="190" x2="2869.5" y2="197.5" stroke="#ff0000" stroke-width="1" />
<polyline points="2707.8,165 2719,183.8 2731.5,182.5 2744,188.8 2776.5,188.8 2780.2,190 2794,190 2804,186.2 2814,182.5 2829,182.5 2832.8,193.8 2851.5,195 2857.8,196.2 2864,190 2873.5,190" fill="none" stroke="#00ffff" stroke-width="1" />
<polyline points="2707.8,150 2756.5,150 2761.5,155 2774,165 2779,173.8 2786.5,177.5 2829,177.5 2839,187.5 2851.5,187.5 2857.8,197.5 2873.5,197.5" fill="none" stroke="#ff0000" stroke-width="1" />
<line x1="2461.5" y1="213.8" x2="2461.5" y2="226.2" stroke="#ff0000" stroke-width="1" />
<rect x="2460" y="215" width="3" height="10" fill="#ff0000" />
<line x1="2467.5" y1="203.8" x2="2467.5" y2="222.5" stroke="#ff0000" stroke-width="1" />
<rect x="2466" y="205" width="3" height="11.2" fill="#ff0000" />
<line x1="2473.5" y1="197" x2="2473.5" y2="208.8" stroke="#ff0000" stroke-width="1" />
<rect x="2472" y="198.8" width="3" height="8.8" fill="#ff0000" />
<line x1="2479.5" y1="197.5" x2="2479.5" y2="225" stroke="#0000ff" stroke-width="1" />
<rect x="2478" y="200" width="3" height="15" fill="#0000ff" />
<line x1="2491.5" y1="205" x2="2491.5" y2="233.8" stroke="#ff0000" stroke-width="1" />
<rect x="2490" y="211.2" width="3" height="13.8" fill="#ff0000" />
<line x1="2497.5" y1="200" x2="2497.5" y2="228.8" stroke="#0000ff" stroke-width="1" />
<rect x="2496" y="207.5" width="3" height="10" fill="#0000ff" />
<line x1="2503.5" y1="211.2" x2="2503.5" y2="222.5" stroke="#ff0000" stroke-width="1" />
<rect x="2502" y="212.5" width="3" height="6.2" fill="#ff0000" />
<line x1="2509.5" y1="172.5" x2="2509.5" y2="215" stroke="#ff0000" stroke-width="1" />
<rect x="2508" y="178.8" width="3" height="32.5" fill="#ff0000" />
<line x1="2515.5" y1="165" x2="2515.5" y2="186.2" stroke="#0000ff" stroke-width="1" />
<rect x="2514" y="178" width="3" height="2" fill="#0000ff" />
<line x1="2521.5" y1="175" x2="2521.5" y2="198.8" stroke="#ff0000" stroke-width="1" />
<rect x="2520" y="177.5" width="3" height="6.2" fill="#ff0000" />
<line x1="2527.5" y1="173.8" x2="2527.5" y2="182.5" stroke="#ff0000" stroke-width="1" />
<rect x="2526" y="175" width="3" height="6.2" fill="#ff0000" />
<line x1="2539.5" y1="153.8" x2="2539.5" y2="168.8" stroke="#ff0000" stroke-width="1" />
<rect x="2538" y="161.2" width="3" height="5" fill="#ff0000" />
<line x1="2545.5" y1="157.5" x2="2545.5" y2="167.5" stroke="#0000ff" stroke-width="1" />
<rect x="2544" y="161.2" width="3" height="5" fill="#0000ff" />
<line x1="2551.5" y1="156.2" x2="2551.5" y2="168.8" stroke="#ff0000" stroke-width="1" />
<rect x="2550" y="157.5" width="3" height="10" fill="#ff0000" />
<line x1="2557.5" y1="157.5" x2="2557.5" y2="166.2" stroke="#0000ff" stroke-width="1" />
<rect x="2556" y="161.2" width="3" height="3.8" fill="#0000ff" />
<line x1="2563.5" y1="153.8" x2="2563.5" y2="180" stroke="#ff0000" stroke-width="1" />
<rect x="2562" y="161.2" width="3" height="6.2" fill="#ff0000" />
<line x1="2569.5" y1="155" x2="2569.5" y2="167.5" stroke="#ff0000" stroke-width="1" />
<rect x="2568" y="160" width="3" height="2.5" fill="#ff0000" />
<line x1="2575.5" y1="161.2" x2="2575.5" y2="178.8" stroke="#ff0000" stroke-width="1" />
<rect x="2574" y="165" width="3" height="2.5" fill="#ff0000" />
<line x1="2587.5" y1="181.2" x2="2587.5" y2="193.8" stroke="#ff0000" stroke-width="1" />
<rect x="2586" y="182.5" width="3" height="10" fill="#ff0000" />
<line x1="2593.5" y1="181.2" x2="2593.5" y2="211.2" stroke="#0000ff" stroke-width="1" />
<rect x="2592" y="183.8" width="3" height="22.5" fill="#0000ff" />
<line x1="2599.5" y1="203.8" x2="2599.5" y2="211.2" stroke="#0000ff" stroke-width="1" />
<rect x="2598" y="206.2" width="3" height="2" fill="#0000ff" />
<line x1="2605.5" y1="197.5" x2="2605.5" y2="211.2" stroke="#ff0000" stroke-width="1" />
<rect x="2604" y="202.5" width="3" height="2.5" fill="#ff0000" />
<line x1="2611.5" y1="185" x2="2611.5" y2="207.5" stroke="#ff0000" stroke-width="1" />
<rect x="2610" y="193.8" width="3" height="3.8" fill="#ff0000" />
<line x1="2617.5" y1="168.8" x2="2617.5" y2="186.2" stroke="#ff0000" stroke-width="1" />
<rect x="2616" y="172.5" width="3" height="6.2" fill="#ff0000" />
<line x1="2623.5" y1="157.5" x2="2623.5" y2="175" stroke="#ff0000" stroke-width="1" />
<rect x="2622" y="161.2" width="3" height="12.5" fill="#ff0000" />
<line x1="2635.5" y1="175" x2="2635.5" y2="205" stroke="#0000ff" stroke-width="1" />
<rect x="2634" y="176.2" width="3" height="17.5" fill="#0000ff" />
<line x1="2641.5" y1="185" x2="2641.5" y2="201.2" stroke="#ff0000" stroke-width="1" />
<rect x="2640" y="188.8" width="3" height="5" fill="#ff0000" />
<line x1="2653.5" y1="182.5" x2="2653.5" y2="205" stroke="#0000ff" stroke-width="1" />
<rect x="2652" y="188.8" width="3" height="8.8" fill="#0000ff" />
<line x1="2659.5" y1="197.5" x2="2659.5" y2="205" stroke="#0000ff" stroke-width="1" />
<rect x="2658" y="200" width="3" height="2" fill="#0000ff" />
<line x1="2665.5" y1="188.8" x2="2665.5" y2="201.2" stroke="#ff0000" stroke-width="1" />
<rect x="2664" y="190" width="3" height="10" fill="#ff0000" />
<line x1="2671.5" y1="175" x2="2671.5" y2="198.8" stroke="#0000ff" stroke-width="1" />
<rect x="2670" y="186.2" width="3" height="3.8" fill="#0000ff" />
<line x1="2677.5" y1="188.8" x2="2677.5" y2="196.2" stroke="#ff0000" stroke-width="1" />
<rect x="2676" y="191.2" width="3" height="2.5" fill="#ff0000" />
<line x1="2683.5" y1="192.5" x2="2683.5" y2="222.5" stroke="#ff0000" stroke-width="1" />
<rect x="2682" y="193.8" width="3" height="6.2" fill="#ff0000" />
<line x1="2689.5" y1="178.8" x2="2689.5" y2="196.2" stroke="#0000ff" stroke-width="1" />
<rect x="2688" y="188.8" width="3" height="5" fill="#0000ff" />
<line x1="2695.5" y1="187.5" x2="2695.5" y2="196.2" stroke="#ff0000" stroke-width="1" />
<rect x="2694" y="190" width="3" height="3.8" fill="#ff0000" />
<line x1="2701.5" y1="175" x2="2701.5" y2="225" stroke="#0000ff" stroke-width="1" />
<rect x="2700" y="188.8" width="3" height="13.8" fill="#0000ff" />
<line x1="2707.5" y1="188.8" x2="2707.5" y2="205" stroke="#ff0000" stroke-width="1" />
<rect x="2706" y="190" width="3" height="13.8" fill="#ff0000" />
<line x1="2713.5" y1="146.2" x2="2713.5" y2="188.8" stroke="#ff0000" stroke-width="1" />
<rect x="2712" y="147.5" width="3" height="40" fill="#ff0000" />
<line x1="2719.5" y1="153.8" x2="2719.5" y2="170" stroke="#ff0000" stroke-width="1" />
<rect x="2718" y="156.2" width="3" height="6.2" fill="#ff0000" />
<line x1="2725.5" y1="155" x2="2725.5" y2="172.5" stroke="#0000ff" stroke-width="1" />
<rect x="2724" y="161.2" width="3" height="2.5" fill="#0000ff" />
<line x1="2484" y1="215.5" x2="2487" y2="215.5" stroke="#0000ff" stroke-width="1" />
<line x1="2532" y1="175.5" x2="2535" y2="175.5" stroke="#ff0000" stroke-width="1" />
<line x1="2580" y1="161.5" x2="2583" y2="161.5" stroke="#0000ff" stroke-width="1" />
<line x1="2628" y1="161.5" x2="2631" y2="161.5" stroke="#0000ff" stroke-width="1" />
<line x1="2646" y1="185.5" x2="2649" y2="185.5" stroke="#0000ff" stroke-width="1" />
<line x1="2731.5" y1="128.8" x2="2731.5" y2="147.5" stroke="#0000ff" stroke-width="1" />
<rect x="2730" y="130" width="3" height="16.2" fill="#0000ff" />
<line x1="2737.5" y1="132.5" x2="2737.5" y2="151.2" stroke="#0000ff" stroke-width="1" />
<rect x="2736" y="141.2" width="3" height="8.8" fill="#0000ff" />
<line x1="2743.5" y1="136.2" x2="2743.5" y2="165" stroke="#ff0000" stroke-width="1" />
<rect x="2742" y="142.5" width="3" height="7.5" fill="#ff0000" />
<line x1="2749.5" y1="135" x2="2749.5" y2="145" stroke="#ff0000" stroke-width="1" />
<rect x="2748" y="136.2" width="3" height="7.5" fill="#ff0000" />
<line x1="2755.5" y1="135" x2="2755.5" y2="143.8" stroke="#0000ff" stroke-width="1" />
<rect x="2754" y="136.2" width="3" height="6.2" fill="#0000ff" />
<line x1="2761.5" y1="132.5" x2="2761.5" y2="150" stroke="#0000ff" stroke-width="1" />
<rect x="2760" y="142.5" width="3" height="5" fill="#0000ff" />
<line x1="2767.5" y1="128.8" x2="2767.5" y2="152.5" stroke="#ff0000" stroke-width="1" />
<rect x="2766" y="132.5" width="3" height="18.8" fill="#ff0000" />
<line x1="2779.5" y1="53.8" x2="2779.5" y2="136.2" stroke="#ff0000" stroke-width="1" />
<rect x="2778" y="75" width="3" height="60" fill="#ff0000" />
<line x1="2785.5" y1="63.8" x2="2785.5" y2="81.2" stroke="#0000ff" stroke-width="1" />
<rect x="2784" y="75" width="3" height="5" fill="#0000ff" />
<line x1="2791.5" y1="75" x2="2791.5" y2="101.2" stroke="#0000ff" stroke-width="1" />
<rect x="2790" y="78.8" width="3" height="15" fill="#0000ff" />
<line x1="2797.5" y1="86.2" x2="2797.5" y2="111.2" stroke="#0000ff" stroke-width="1" />
<rect x="2796" y="95" width="3" height="3.8" fill="#0000ff" />
<line x1="2803.5" y1="98.8" x2="2803.5" y2="143.8" stroke="#0000ff" stroke-width="1" />
<rect x="2802" y="100" width="3" height="36.2" fill="#0000ff" />
<line x1="2809.5" y1="113.8" x2="2809.5" y2="141.2" stroke="#ff0000" stroke-width="1" />
<rect x="2808" y="125" width="3" height="15" fill="#ff0000" />
<line x1="2815.5" y1="125" x2="2815.5" y2="137.5" stroke="#0000ff" stroke-width="1" />
<rect x="2814" y="128.8" width="3" height="7.5" fill="#0000ff" />
<line x1="2827.5" y1="138.8" x2="2827.5" y2="151.2" stroke="#ff0000" stroke-width="1" />
<rect x="2826" y="140" width="3" height="7.5" fill="#ff0000" />
<line x1="2833.5" y1="135" x2="2833.5" y2="143.8" stroke="#ff0000" stroke-width="1" />
<rect x="2832" y="136.2" width="3" height="5" fill="#ff0000" />
<line x1="2839.5" y1="136.2" x2="2839.5" y2="143.8" stroke="#0000ff" stroke-width="1" />
<rect x="2838" y="138.8" width="3" height="2" fill="#0000ff" />
<line x1="2845.5" y1="138.8" x2="2845.5" y2="155" stroke="#0000ff" stroke-width="1" />
<rect x="2844" y="140" width="3" height="7.5" fill="#0000ff" />
<line x1="2851.5" y1="146.2" x2="2851.5" y2="152.5" stroke="#ff0000" stroke-width="1" />
<rect x="2850" y="147.5" width="3" height="3.8" fill="#ff0000" />
<line x1="2857.5" y1="142.5" x2="2857.5" y2="151.2" stroke="#0000ff" stroke-width="1" />
<rect x="2856" y="146.2" width="3" height="2" fill="#0000ff" />
<line x1="2863.5" y1="142.5" x2="2863.5" y2="165.8" stroke="#0000ff" stroke-width="1" />
<rect x="2862" y="143.8" width="3" height="21.2" fill="#0000ff" />
<line x1="2772" y1="132.5" x2="2775" y2="132.5" stroke="#0000ff" stroke-width="1" />
<line x1="2820" y1="132.5" x2="2823" y2="132.5" stroke="#0000ff" stroke-width="1" />
<line x1="2868" y1="164.5" x2="2871" y2="164.5" stroke="#0000ff" stroke-width="1" />
<polyline points="2695.2,165 2719,169.5 2744,173.8 2781.5,173.8 2819,173.8 2844,172 2869,170.5" fill="none" stroke="#500090" stroke-width="1" />
<polyline points="2485.2,151.2 2534,172.5 2544,175 2569,181.2 2594,187.5 2619,190 2656.5,191.2 2694,191.2 2719,187.5 2744,177.5 2769,170 2794,165 2819,160 2844,155 2869,153.8" fill="none" stroke="#33d6d0" stroke-width="1" />
<polyline points="2461,168.8 2476.5,176.2 2494,188.8 2506.5,193.8 2531.5,198.8 2549,200 2569,193.8 2584,188.8 2604,186.2 2619,183.8 2644,181.2 2664,178.8 2681.5,182.5 2706.5,185 2719,183.8 2744,177.5 2761.5,171.2 2781.5,162.5 2799,155 2819,148.8 2844,142.5 2856.5,141.2 2869,143" fill="none" stroke="#0a4a14" stroke-width="1" />
<polyline points="2461,180 2474,186.2 2486.5,195 2499,202.5 2509,205.5 2526.5,203.8 2544,200 2556.5,193.8 2569,187.5 2584,182.5 2604,177.5 2624,173.8 2644,176.2 2656.5,178.8 2669,181.2 2684,186.2 2706.5,187.5 2719,185 2736.5,177.5 2751.5,170 2769,161.2 2781.5,152.5 2794,145 2799,143.8 2814,135 2829,130 2844,127.5 2859,128 2869,131.2" fill="none" stroke="#ff5a14" stroke-width="1" />
<polyline points="2461,210 2481.5,211.2 2506.5,207.5 2524,197.5 2539,186.2 2554,175 2569,166.2 2579,163.8 2589,166.2 2599,173.8 2614,178.8 2629,177.5 2641.5,177.5 2656.5,180 2674,182.5 2694,190 2709,191.2 2721.5,186.2 2734,177.5 2749,166.2 2761.5,155 2771.5,145 2781.5,150 2794,130 2806.5,118.8 2819,114.5 2831.5,115 2844,125 2856.5,136.2 2869,146.2" fill="none" stroke="#00ff00" stroke-width="1" />
<polyline points="2461,208.8 2476.5,210 2491.5,207.5 2506.5,203.8 2516.5,195 2526.5,181.2 2539,170 2551.5,165 2564,163.8 2574,161.2 2584,165 2594,177.5 2604,187.5 2619,188.8 2626.5,177.5 2634,175 2644,178.8 2651.5,185 2661.5,192.5 2674,190 2684,195 2694,198.8 2706.5,198.8 2716.5,190 2724,172.5 2734,157.5 2744,150 2766.5,150 2779,130 2789,110 2796.5,96.2 2806.5,100 2816.5,117.5 2826.5,130 2836.5,131.2 2844,136.2 2854,137.5 2861.5,145 2869,152.5" fill="none" stroke="#ff0000" stroke-width="1" />
<polyline points="2561.5,177.5 2569,176.2 2579,165 2584,167.5 2589,176.2 2594,183.8 2656.5,185 2664,181.2 2676.5,185 2681.5,191.2 2685.2,200 2706.5,200 2711.5,193.8 2719,190 2731.5,187.5 2744,180 2751.5,173.8 2761.5,161.2 2766.5,150 2774,140 2777.8,117.5 2780.2,102.5 2814,102.5 2821.5,95.8 2825.2,96.2 2834,107.5 2844,116.2 2851.5,122.5 2856.5,132.5 2864,145 2869,150" fill="none" stroke="#ff0000" stroke-width="3" stroke-linejoin="round"/>
<polyline points="2557.8,197.5 2574,197.5 2580.2,193.8 2634,193.2 2641.5,193.2 2651.5,190 2661.5,182.5 2676.5,182.5 2681.5,190 2724,190 2731.5,177.5 2774,177.5 2776.5,160 2777.8,150 2780.2,136.2 2851.5,136.2 2857.8,125 2864,117.5 2869,108.8" fill="none" stroke="#0000ff" stroke-width="3" stroke-linejoin="round"/>
<polyline points="2461,187.5 2469,170 2475.2,161.2 2480.2,162.5 2486.5,192.5 2497.8,190 2505.2,197.5 2516.5,191.2 2527.8,185 2539,193.8 2545.2,190 2551.5,203.8 2561.5,165 2569,157.5 2575.2,155 2581.5,143.8 2587.8,150 2599,137 2610.2,147.5 2616.5,133.8 2622.8,131.2 2625.2,120 2627.8,95 2630.2,75 2636.5,79.5 2641.5,93.8 2647.8,100 2651.5,122.5 2654,135 2660.2,126.2 2665.2,136.2 2671.5,132.5 2677.8,140 2684,136.2 2696.5,147.5 2707.8,147.5 2712.8,165 2719,170" fill="none" stroke="#008000" stroke-width="3" stroke-linejoin="round"/>
<text x="2465.2" y="42" fill="#000" class="j">日経</text>
<text transform="translate(2489.2 42) scale(.7692 1)" fill="#000" class="l" xml:space="preserve">225mini 11/09( 60</text>
<text x="2591.2" y="42" fill="#000" class="j">分</text>
<text transform="translate(2603.2 42) scale(.7692 1)" fill="#000" class="l" xml:space="preserve">, 2011/06/02 - 2011/06/10 )</text>
<text x="2465.2" y="56" fill="#000" class="j">移動平均</text>
<text transform="translate(2513.2 56) scale(.7692 1)" fill="#000" class="l" xml:space="preserve">( Close, 10 )</text>
<text x="2611.2" y="56" fill="#000" class="j">一目均衡表</text>
<text transform="translate(2671.2 56) scale(.7692 1)" fill="#000" class="l" xml:space="preserve">( 9, 26, 52 )</text>
<text x="2769.2" y="56" fill="#000" class="j">移動平均</text>
<text transform="translate(2817.2 56) scale(.7692 1)" fill="#000" class="l" xml:space="preserve">( Close, 150 )</text>
</g>
<text x="2465.2" y="260" fill="#000" class="j">出来高</text>
<text x="2465.2" y="352.5" fill="#000" class="j">移動平均</text>
<text transform="translate(2513.2 352.5) scale(.7692 1)" fill="#000" class="l" xml:space="preserve">( Close, 75 )</text>
<text transform="translate(2611.2 352.5) scale(.7692 1)" fill="#000" class="l" xml:space="preserve">MACD( 12, 26, 9 )</text>
<text x="2465.2" y="446" fill="#000" class="j">スロー・ストキャスティクス</text>
<text transform="translate(2621.2 446) scale(.7692 1)" fill="#000" class="l" xml:space="preserve">( 14, 3, 80, 20 )</text>
<rect x="2452" y="25" width="7.5" height="510" fill="#c8c8d4" />
<rect x="2460" y="29" width="1.5" height="497" fill="#000" />
<line x1="2873.5" y1="29" x2="2873.5" y2="555" stroke="#000" stroke-width="1" />
<line x1="2460" y1="525.5" x2="2929" y2="525.5" stroke="#000" stroke-width="1" />
<line x1="2491.5" y1="525" x2="2491.5" y2="533" stroke="#000" stroke-width="1" />
<line x1="2539.5" y1="525" x2="2539.5" y2="530" stroke="#000" stroke-width="1" />
<line x1="2587.5" y1="525" x2="2587.5" y2="533" stroke="#000" stroke-width="1" />
<line x1="2635.5" y1="525" x2="2635.5" y2="530" stroke="#000" stroke-width="1" />
<line x1="2683.5" y1="525" x2="2683.5" y2="533" stroke="#000" stroke-width="1" />
<line x1="2731.5" y1="525" x2="2731.5" y2="530" stroke="#000" stroke-width="1" />
<line x1="2779.5" y1="525" x2="2779.5" y2="533" stroke="#000" stroke-width="1" />
<line x1="2827.5" y1="525" x2="2827.5" y2="530" stroke="#000" stroke-width="1" />
<line x1="2873" y1="47.5" x2="2879" y2="47.5" stroke="#000" stroke-width="1" />
<text transform="translate(2881.5 53) scale(.7692 1)" fill="#000" class="l" xml:space="preserve">9,620</text>
<line x1="2873" y1="86.5" x2="2879" y2="86.5" stroke="#000" stroke-width="1" />
<text transform="translate(2881.5 92) scale(.7692 1)" fill="#000" class="l" xml:space="preserve">9,565</text>
<line x1="2873" y1="125.5" x2="2879" y2="125.5" stroke="#000" stroke-width="1" />
<text transform="translate(2881.5 131) scale(.7692 1)" fill="#000" class="l" xml:space="preserve">9,510</text>
<line x1="2873" y1="165.5" x2="2879" y2="165.5" stroke="#000" stroke-width="1" />
<text transform="translate(2881.5 171) scale(.7692 1)" fill="#000" class="l" xml:space="preserve">9,455</text>
<line x1="2873" y1="204.5" x2="2879" y2="204.5" stroke="#000" stroke-width="1" />
<text transform="translate(2881.5 210) scale(.7692 1)" fill="#000" class="l" xml:space="preserve">9,400</text>
<line x1="2873" y1="263.5" x2="2879" y2="263.5" stroke="#000" stroke-width="1" />
<text transform="translate(2881.5 269) scale(.7692 1)" fill="#000" class="l" xml:space="preserve">145.00</text>
<line x1="2873" y1="301.5" x2="2879" y2="301.5" stroke="#000" stroke-width="1" />
<text transform="translate(2881.5 307) scale(.7692 1)" fill="#000" class="l" xml:space="preserve">55.00</text>
<line x1="2873" y1="357.5" x2="2879" y2="357.5" stroke="#000" stroke-width="1" />
<text transform="translate(2881.5 363) scale(.7692 1)" fill="#000" class="l" xml:space="preserve">35.00</text>
<line x1="2873" y1="395.5" x2="2879" y2="395.5" stroke="#000" stroke-width="1" />
<text transform="translate(2881.5 401) scale(.7692 1)" fill="#000" class="l" xml:space="preserve">-15.00</text>
<line x1="2873" y1="449.5" x2="2879" y2="449.5" stroke="#000" stroke-width="1" />
<text transform="translate(2881.5 455) scale(.7692 1)" fill="#000" class="l" xml:space="preserve">95.00</text>
<line x1="2873" y1="488.5" x2="2879" y2="488.5" stroke="#000" stroke-width="1" />
<text transform="translate(2881.5 494) scale(.7692 1)" fill="#000" class="l" xml:space="preserve">35.00</text>
<text transform="translate(2490.5 545) scale(.7692 1)" fill="#000" class="l" xml:space="preserve">06/07</text>
<text transform="translate(2538.5 545) scale(.7692 1)" fill="#000" class="l" xml:space="preserve">16:30</text>
<text transform="translate(2586.5 545) scale(.7692 1)" fill="#000" class="l" xml:space="preserve">06/08</text>
<text transform="translate(2634.5 545) scale(.7692 1)" fill="#000" class="l" xml:space="preserve">16:30</text>
<text transform="translate(2682.5 545) scale(.7692 1)" fill="#000" class="l" xml:space="preserve">06/09</text>
<text transform="translate(2730.5 545) scale(.7692 1)" fill="#000" class="l" xml:space="preserve">16:30</text>
<text transform="translate(2778.5 545) scale(.7692 1)" fill="#000" class="l" xml:space="preserve">06/10</text>
<text transform="translate(2826.5 545) scale(.7692 1)" fill="#000" class="l" xml:space="preserve">16:30</text>
<rect x="2877" y="323" width="44.5" height="14" fill="#fff" stroke="#000" stroke-width="1"/>
<text x="2878.5" y="334" fill="#000" class="j">×</text>
<text transform="translate(2896.5 334) scale(.7692 1)" fill="#000" class="l" xml:space="preserve">1000</text>
<rect x="2460" y="322.5" width="3" height="1" fill="#008000" />
<rect x="2466" y="322.5" width="3" height="1" fill="#008000" />
<rect x="2472" y="322.5" width="3" height="1" fill="#008000" />
<rect x="2478" y="322.5" width="3" height="1" fill="#008000" />
<rect x="2490" y="307.5" width="3" height="16" fill="#008000" />
<rect x="2496" y="320.5" width="3" height="3" fill="#008000" />
<rect x="2502" y="322.5" width="3" height="1" fill="#008000" />
<rect x="2508" y="320.5" width="3" height="3" fill="#008000" />
<rect x="2514" y="313.5" width="3" height="10" fill="#008000" />
<rect x="2520" y="320.5" width="3" height="3" fill="#008000" />
<rect x="2526" y="322.5" width="3" height="1" fill="#008000" />
<rect x="2532" y="322.5" width="3" height="1" fill="#008000" />
<rect x="2538" y="322" width="3" height="1.5" fill="#008000" />
<rect x="2544" y="321.5" width="3" height="2" fill="#008000" />
<rect x="2550" y="322.5" width="3" height="1" fill="#008000" />
<rect x="2556" y="322.5" width="3" height="1" fill="#008000" />
<rect x="2562" y="322.5" width="3" height="1" fill="#008000" />
<rect x="2568" y="322.5" width="3" height="1" fill="#008000" />
<rect x="2574" y="321.5" width="3" height="2" fill="#008000" />
<rect x="2580" y="322.5" width="3" height="1" fill="#008000" />
<rect x="2586" y="313.5" width="3" height="10" fill="#008000" />
<rect x="2592" y="316.5" width="3" height="7" fill="#008000" />
<rect x="2598" y="322.5" width="3" height="1" fill="#008000" />
<rect x="2604" y="322.5" width="3" height="1" fill="#008000" />
<rect x="2610" y="317.5" width="3" height="6" fill="#008000" />
<rect x="2616" y="318.5" width="3" height="5" fill="#008000" />
<rect x="2622" y="321.5" width="3" height="2" fill="#008000" />
<rect x="2628" y="322.5" width="3" height="1" fill="#008000" />
<rect x="2634" y="320.5" width="3" height="3" fill="#008000" />
<rect x="2640" y="321.5" width="3" height="2" fill="#008000" />
<rect x="2646" y="322.5" width="3" height="1" fill="#008000" />
<rect x="2652" y="322.5" width="3" height="1" fill="#008000" />
<rect x="2658" y="322.5" width="3" height="1" fill="#008000" />
<rect x="2664" y="322" width="3" height="1.5" fill="#008000" />
<rect x="2670" y="321.5" width="3" height="2" fill="#008000" />
<rect x="2682" y="305.5" width="3" height="18" fill="#008000" />
<rect x="2688" y="310.5" width="3" height="13" fill="#008000" />
<rect x="2694" y="320.5" width="3" height="3" fill="#008000" />
<rect x="2700" y="307.5" width="3" height="16" fill="#008000" />
<rect x="2706" y="313.5" width="3" height="10" fill="#008000" />
<rect x="2712" y="304.5" width="3" height="19" fill="#008000" />
<rect x="2718" y="315.5" width="3" height="8" fill="#008000" />
<rect x="2724" y="322.5" width="3" height="1" fill="#008000" />
<rect x="2730" y="316.5" width="3" height="7" fill="#008000" />
<rect x="2736" y="319.5" width="3" height="4" fill="#008000" />
<rect x="2742" y="319.5" width="3" height="4" fill="#008000" />
<rect x="2748" y="322" width="3" height="1.5" fill="#008000" />
<rect x="2754" y="322.5" width="3" height="1" fill="#008000" />
<rect x="2760" y="318.5" width="3" height="5" fill="#008000" />
<rect x="2766" y="319.5" width="3" height="4" fill="#008000" />
<rect x="2772" y="322.5" width="3" height="1" fill="#008000" />
<rect x="2778" y="264.5" width="3" height="59" fill="#008000" />
<rect x="2784" y="304.5" width="3" height="19" fill="#008000" />
<rect x="2790" y="315.5" width="3" height="8" fill="#008000" />
<rect x="2796" y="313.5" width="3" height="10" fill="#008000" />
<rect x="2802" y="300.5" width="3" height="23" fill="#008000" />
<rect x="2808" y="306.5" width="3" height="17" fill="#008000" />
<rect x="2814" y="318.5" width="3" height="5" fill="#008000" />
<rect x="2820" y="321.5" width="3" height="2" fill="#008000" />
<rect x="2826" y="317.5" width="3" height="6" fill="#008000" />
<rect x="2832" y="319.5" width="3" height="4" fill="#008000" />
<rect x="2838" y="320.5" width="3" height="3" fill="#008000" />
<rect x="2844" y="320.5" width="3" height="3" fill="#008000" />
<rect x="2850" y="321.5" width="3" height="2" fill="#008000" />
<rect x="2856" y="321.5" width="3" height="2" fill="#008000" />
<rect x="2862" y="318.5" width="3" height="5" fill="#008000" />
<rect x="2868" y="322.5" width="3" height="1" fill="#008000" />
<line x1="2461" y1="323.5" x2="2871" y2="323.5" stroke="#000" stroke-width="1" />
<line x1="2461" y1="384.5" x2="2871" y2="384.5" stroke="#808080" stroke-width="1" />
<polyline points="2695.2,357.5 2706.5,370 2719,384.5 2731.5,397.5 2744,408.8 2759,416.2 2771.5,418.2 2781.5,412 2794,406.2 2806.5,405.5 2821.5,408 2836.5,403.8 2849,397.5 2859,391.2 2869,388.8" fill="none" stroke="#ffb6c1" stroke-width="1" />
<line x1="2473.5" y1="384.5" x2="2473.5" y2="383.9" stroke="#ff0000" stroke-width="1" />
<line x1="2479.5" y1="384.5" x2="2479.5" y2="383.5" stroke="#ff0000" stroke-width="1" />
<line x1="2485.5" y1="384.5" x2="2485.5" y2="383.5" stroke="#ff0000" stroke-width="1" />
<line x1="2491.5" y1="384.5" x2="2491.5" y2="383.5" stroke="#ff0000" stroke-width="1" />
<line x1="2497.5" y1="384.5" x2="2497.5" y2="383" stroke="#ff0000" stroke-width="1" />
<line x1="2503.5" y1="384.5" x2="2503.5" y2="382.5" stroke="#ff0000" stroke-width="1" />
<line x1="2509.5" y1="384.5" x2="2509.5" y2="379" stroke="#ff0000" stroke-width="1" />
<line x1="2515.5" y1="384.5" x2="2515.5" y2="377.5" stroke="#ff0000" stroke-width="1" />
<line x1="2521.5" y1="384.5" x2="2521.5" y2="377" stroke="#ff0000" stroke-width="1" />
<line x1="2527.5" y1="384.5" x2="2527.5" y2="377" stroke="#ff0000" stroke-width="1" />
<line x1="2533.5" y1="384.5" x2="2533.5" y2="377" stroke="#ff0000" stroke-width="1" />
<line x1="2539.5" y1="384.5" x2="2539.5" y2="376.5" stroke="#ff0000" stroke-width="1" />
<line x1="2545.5" y1="384.5" x2="2545.5" y2="376" stroke="#ff0000" stroke-width="1" />
<line x1="2551.5" y1="384.5" x2="2551.5" y2="376" stroke="#ff0000" stroke-width="1" />
<line x1="2557.5" y1="384.5" x2="2557.5" y2="377" stroke="#ff0000" stroke-width="1" />
<line x1="2563.5" y1="384.5" x2="2563.5" y2="377.5" stroke="#ff0000" stroke-width="1" />
<line x1="2569.5" y1="384.5" x2="2569.5" y2="378.5" stroke="#ff0000" stroke-width="1" />
<line x1="2575.5" y1="384.5" x2="2575.5" y2="380" stroke="#ff0000" stroke-width="1" />
<line x1="2581.5" y1="384.5" x2="2581.5" y2="381.5" stroke="#ff0000" stroke-width="1" />
<line x1="2587.5" y1="384.5" x2="2587.5" y2="383" stroke="#ff0000" stroke-width="1" />
<line x1="2599.5" y1="384.5" x2="2599.5" y2="386.5" stroke="#ff0000" stroke-width="1" />
<line x1="2605.5" y1="384.5" x2="2605.5" y2="387" stroke="#ff0000" stroke-width="1" />
<line x1="2611.5" y1="384.5" x2="2611.5" y2="385.5" stroke="#ff0000" stroke-width="1" />
<line x1="2647.5" y1="384.5" x2="2647.5" y2="383.9" stroke="#ff0000" stroke-width="1" />
<line x1="2707.5" y1="384.5" x2="2707.5" y2="383.5" stroke="#ff0000" stroke-width="1" />
<line x1="2713.5" y1="384.5" x2="2713.5" y2="382" stroke="#ff0000" stroke-width="1" />
<line x1="2719.5" y1="384.5" x2="2719.5" y2="380.5" stroke="#ff0000" stroke-width="1" />
<line x1="2725.5" y1="384.5" x2="2725.5" y2="379.5" stroke="#ff0000" stroke-width="1" />
<line x1="2731.5" y1="384.5" x2="2731.5" y2="379" stroke="#ff0000" stroke-width="1" />
<line x1="2737.5" y1="384.5" x2="2737.5" y2="379" stroke="#ff0000" stroke-width="1" />
<line x1="2743.5" y1="384.5" x2="2743.5" y2="378.5" stroke="#ff0000" stroke-width="1" />
<line x1="2749.5" y1="384.5" x2="2749.5" y2="378.5" stroke="#ff0000" stroke-width="1" />
<line x1="2755.5" y1="384.5" x2="2755.5" y2="379.5" stroke="#ff0000" stroke-width="1" />
<line x1="2761.5" y1="384.5" x2="2761.5" y2="380" stroke="#ff0000" stroke-width="1" />
<line x1="2767.5" y1="384.5" x2="2767.5" y2="380.5" stroke="#ff0000" stroke-width="1" />
<line x1="2773.5" y1="384.5" x2="2773.5" y2="381" stroke="#ff0000" stroke-width="1" />
<line x1="2779.5" y1="384.5" x2="2779.5" y2="377.5" stroke="#ff0000" stroke-width="1" />
<line x1="2785.5" y1="384.5" x2="2785.5" y2="376" stroke="#ff0000" stroke-width="1" />
<line x1="2791.5" y1="384.5" x2="2791.5" y2="376.5" stroke="#ff0000" stroke-width="1" />
<line x1="2797.5" y1="384.5" x2="2797.5" y2="378" stroke="#ff0000" stroke-width="1" />
<line x1="2803.5" y1="384.5" x2="2803.5" y2="382" stroke="#ff0000" stroke-width="1" />
<line x1="2809.5" y1="384.5" x2="2809.5" y2="383.9" stroke="#ff0000" stroke-width="1" />
<line x1="2821.5" y1="384.5" x2="2821.5" y2="385.1" stroke="#ff0000" stroke-width="1" />
<line x1="2827.5" y1="384.5" x2="2827.5" y2="387" stroke="#ff0000" stroke-width="1" />
<line x1="2833.5" y1="384.5" x2="2833.5" y2="387.5" stroke="#ff0000" stroke-width="1" />
<line x1="2839.5" y1="384.5" x2="2839.5" y2="388.5" stroke="#ff0000" stroke-width="1" />
<line x1="2845.5" y1="384.5" x2="2845.5" y2="389" stroke="#ff0000" stroke-width="1" />
<line x1="2851.5" y1="384.5" x2="2851.5" y2="389.5" stroke="#ff0000" stroke-width="1" />
<line x1="2857.5" y1="384.5" x2="2857.5" y2="389.5" stroke="#ff0000" stroke-width="1" />
<line x1="2863.5" y1="384.5" x2="2863.5" y2="389.5" stroke="#ff0000" stroke-width="1" />
<line x1="2869.5" y1="384.5" x2="2869.5" y2="390.5" stroke="#ff0000" stroke-width="1" />
<line x1="2461.5" y1="384.5" x2="2461.5" y2="383.9" stroke="#ff0000" stroke-width="1" />
<line x1="2617.5" y1="384.5" x2="2617.5" y2="383.9" stroke="#ff0000" stroke-width="1" />
<line x1="2629.5" y1="384.5" x2="2629.5" y2="383.9" stroke="#ff0000" stroke-width="1" />
<line x1="2641.5" y1="384.5" x2="2641.5" y2="383.9" stroke="#ff0000" stroke-width="1" />
<line x1="2659.5" y1="384.5" x2="2659.5" y2="383.9" stroke="#ff0000" stroke-width="1" />
<line x1="2671.5" y1="384.5" x2="2671.5" y2="383.9" stroke="#ff0000" stroke-width="1" />
<line x1="2683.5" y1="384.5" x2="2683.5" y2="383.9" stroke="#ff0000" stroke-width="1" />
<line x1="2695.5" y1="384.5" x2="2695.5" y2="383.9" stroke="#ff0000" stroke-width="1" />
<polyline points="2461,411.2 2476.5,407.5 2504,403.8 2519,396.2 2539,386.2 2554,380 2569,378.2 2579,377.5 2589,380 2599,385 2609,387 2619,384.5 2629,382.5 2641.5,384.5 2659,387 2694,387.5 2704,388 2719,382.5 2739,375 2759,372 2774,370.5 2784,362.5 2794,359.2 2804,362.5 2819,367.5 2844,375 2869,384.5" fill="none" stroke="#ffff00" stroke-width="1" />
<polyline points="2461,407.5 2489,407.5 2504,405.5 2519,402 2539,395 2556.5,388.8 2579,382.5 2599,383 2614,384.5 2634,384.5 2656.5,385.5 2681.5,385.5 2706.5,386.2 2719,384.5 2744,378.8 2774,373.8 2801.5,365 2819,365.5 2844,370 2869,377.5" fill="none" stroke="#0000ff" stroke-width="1" />
<line x1="2461" y1="459.5" x2="2871" y2="459.5" stroke="#0000ff" stroke-width="1" />
<line x1="2461" y1="498.5" x2="2871" y2="498.5" stroke="#ff0000" stroke-width="1" />
<polyline points="2461,498.8 2469,493.8 2479,488.8 2491.5,484.5 2501.5,482.5 2509,478 2516.5,470 2524,463.8 2534,460 2544,456.2 2554,454.5 2569,453.8 2579,453 2586.5,457.5 2594,471.2 2601.5,485 2606.5,494.5 2611.5,495 2619,488.8 2626.5,475 2631.5,467.5 2636.5,467.5 2644,475 2651.5,482.5 2659,487 2666.5,490 2674,488 2684,483 2694,481.2 2701.5,480.8 2709,481.2 2716.5,473.8 2724,460 2731.5,455 2739,455.5 2749,456.2 2759,455.8 2769,454.2 2779,452 2789,455 2796.5,461.2 2804,472.5 2811.5,483.8 2819,490.5 2829,495 2839,498.2 2849,501.2 2859,505 2869,508" fill="none" stroke="#ff0000" stroke-width="1" />
<polyline points="2461,497.5 2467.5,492.5 2473.5,489.5 2479.5,486.2 2485.5,484.2 2491.5,482.5 2497.5,483.8 2503.5,480 2509.5,467 2515.5,463.8 2521.5,462.5 2527.5,460 2533.5,458.8 2539.5,455.5 2545.5,455 2551.5,452.5 2557.5,453.8 2563.5,453.2 2569.5,453.2 2575.5,452.5 2581.5,455 2587.5,466.2 2593.5,486.2 2599.5,496.2 2605.5,500 2611.5,487.5 2617.5,476.2 2623.5,466.2 2629.5,460 2635.5,476.2 2641.5,480 2647.5,483.8 2653.5,488.8 2659.5,492.5 2665.5,487.5 2671.5,486.2 2677.5,483.8 2683.5,479.5 2689.5,481.2 2695.5,480 2701.5,485 2707.5,478.8 2713.5,465 2719.5,457.5 2725.5,452.5 2731.5,455 2737.5,457 2743.5,457 2749.5,454.5 2755.5,455.5 2761.5,457 2767.5,453.8 2773.5,451.8 2779.5,455 2785.5,457.5 2791.5,462.5 2797.5,468.8 2803.5,484.5 2809.5,488.8 2815.5,493.8 2821.5,495.8 2827.5,498.2 2833.5,498.2 2839.5,499.5 2845.5,502.5 2851.5,505 2857.5,506.8 2863.5,508.2 2869,510.5" fill="none" stroke="#0000ff" stroke-width="1" />
<clipPath id="tb1054"><rect x="1054" y="8" width="751" height="10"/></clipPath>
<g clip-path="url(#tb1054)">
<rect x="1054" y="8" width="751" height="5.5" fill="#ffffff" />
<rect x="1525" y="8" width="280" height="5.5" fill="#d6d6da" />
<rect x="1054" y="13.3" width="751" height="4" fill="#d6d6da" />
<rect x="1054" y="16.3" width="751" height="1" fill="#e6e6ea" />
<rect x="1055" y="8" width="16" height="5.5" fill="#000" />
<rect x="1056" y="8" width="14" height="4" fill="#d0d0d0" />
<line x1="1075" y1="12.5" x2="1153" y2="12.5" stroke="#b0b0b0" stroke-width="1" />
<line x1="1075.5" y1="8" x2="1075.5" y2="12.5" stroke="#909090" stroke-width="1" />
<rect x="1137" y="8" width="16" height="4" fill="#e4e2dc" />
<line x1="1137" y1="11.5" x2="1153" y2="11.5" stroke="#707070" stroke-width="1" />
<line x1="1152.5" y1="8" x2="1152.5" y2="12" stroke="#707070" stroke-width="1" />
<path d="M1080 9 h3 m2 0 h3 m2 -0.5 h2 m2 0.5 h3" stroke="#202020" stroke-width="1.4" fill="none"/>
<path d="M1159 8.8 h7 m4 0 h4 m2 0 h5" stroke="#101010" stroke-width="1.6" fill="none"/>
<rect x="1252" y="8" width="16" height="4" fill="#e4e2dc" />
<line x1="1252" y1="11.5" x2="1268" y2="11.5" stroke="#707070" stroke-width="1" />
<line x1="1267.5" y1="8" x2="1267.5" y2="12" stroke="#707070" stroke-width="1" />
<line x1="1272.5" y1="8" x2="1272.5" y2="12.5" stroke="#909090" stroke-width="1" />
<rect x="1341" y="8" width="17" height="4" fill="#e4e2dc" />
<line x1="1341" y1="11.5" x2="1358" y2="11.5" stroke="#707070" stroke-width="1" />
<line x1="1357.5" y1="8" x2="1357.5" y2="12" stroke="#707070" stroke-width="1" />
<rect x="1363" y="8" width="20" height="5" fill="#c6d6ee" />
<path d="M1368 9 h4 m2 0 h4" stroke="#203050" stroke-width="1.4" fill="none"/>
<line x1="1385" y1="12.5" x2="1422" y2="12.5" stroke="#b0b0b0" stroke-width="1" />
<rect x="1386" y="8" width="23" height="4" fill="#e8e8e8" />
<rect x="1409" y="8" width="13" height="3" fill="#d4d0c8" />
<line x1="1409" y1="10.5" x2="1422" y2="10.5" stroke="#707070" stroke-width="1" />
<line x1="1421.5" y1="8" x2="1421.5" y2="11" stroke="#707070" stroke-width="1" />
<rect x="1427" y="8" width="15" height="4.5" fill="#d4d0c8" />
<line x1="1427" y1="12" x2="1442" y2="12" stroke="#707070" stroke-width="1" />
<line x1="1441.5" y1="8" x2="1441.5" y2="12.5" stroke="#707070" stroke-width="1" />
<path d="M1431 9 h6" stroke="#202020" stroke-width="1.4" fill="none"/>
<rect x="1446" y="8" width="16.5" height="4.5" fill="#d4d0c8" />
<line x1="1446" y1="12" x2="1462.5" y2="12" stroke="#707070" stroke-width="1" />
<line x1="1462" y1="8" x2="1462" y2="12.5" stroke="#707070" stroke-width="1" />
<path d="M1450 9 h6" stroke="#202020" stroke-width="1.4" fill="none"/>
<rect x="1466" y="8" width="16.5" height="4.5" fill="#d4d0c8" />
<line x1="1466" y1="12" x2="1482.5" y2="12" stroke="#707070" stroke-width="1" />
<line x1="1482" y1="8" x2="1482" y2="12.5" stroke="#707070" stroke-width="1" />
<path d="M1470 9 h6" stroke="#202020" stroke-width="1.4" fill="none"/>
<rect x="1486" y="8" width="16.5" height="4.5" fill="#d4d0c8" />
<line x1="1486" y1="12" x2="1502.5" y2="12" stroke="#707070" stroke-width="1" />
<line x1="1502" y1="8" x2="1502" y2="12.5" stroke="#707070" stroke-width="1" />
<path d="M1490 9 h6" stroke="#202020" stroke-width="1.4" fill="none"/>
<rect x="1506.5" y="8" width="17" height="4.5" fill="#d4d0c8" />
<line x1="1506.5" y1="12" x2="1523.5" y2="12" stroke="#707070" stroke-width="1" />
<line x1="1523" y1="8" x2="1523" y2="12.5" stroke="#707070" stroke-width="1" />
<path d="M1510.5 9 h6" stroke="#202020" stroke-width="1.4" fill="none"/>
<rect x="1535" y="8" width="20" height="5" fill="#c6d6ee" />
<path d="M1540 9 h3 m2 0 h3" stroke="#203050" stroke-width="1.4" fill="none"/>
<rect x="1557" y="8" width="35.5" height="4.5" fill="#ffffff" />
<rect x="1580" y="8" width="12.5" height="2.5" fill="#d4d0c8" />
<line x1="1580" y1="10" x2="1592.5" y2="10" stroke="#707070" stroke-width="1" />
<line x1="1592" y1="8" x2="1592" y2="10.5" stroke="#707070" stroke-width="1" />
<rect x="1596" y="8" width="29" height="5" fill="#c6d6ee" />
<path d="M1603 9 h3 m2 0 h4 m1 0 h3" stroke="#203050" stroke-width="1.4" fill="none"/>
<rect x="1626" y="8" width="46.5" height="4.5" fill="#ffffff" />
<rect x="1660" y="8" width="12.5" height="2.5" fill="#d4d0c8" />
<line x1="1660" y1="10" x2="1672.5" y2="10" stroke="#707070" stroke-width="1" />
<line x1="1672" y1="8" x2="1672" y2="10.5" stroke="#707070" stroke-width="1" />
<rect x="1677.5" y="8" width="31.5" height="4.5" fill="#d4d0c8" />
<line x1="1677.5" y1="12" x2="1709" y2="12" stroke="#707070" stroke-width="1" />
<line x1="1708.5" y1="8" x2="1708.5" y2="12.5" stroke="#707070" stroke-width="1" />
<path d="M1683 9 h5 m2 0 h4 m2 0 h5" stroke="#202020" stroke-width="1.4" fill="none"/>
<rect x="1732.5" y="8" width="56.5" height="4.5" fill="#d4d0c8" />
<line x1="1732.5" y1="12" x2="1789" y2="12" stroke="#707070" stroke-width="1" />
<line x1="1788.5" y1="8" x2="1788.5" y2="12.5" stroke="#707070" stroke-width="1" />
<path d="M1738 9 h4 m1 0 h5 m1 0 h4 m1 0 h5 m1 0 h4 m2 0 h5 m1 0 h4" stroke="#202020" stroke-width="1.4" fill="none"/>
</g>
<clipPath id="tb1824"><rect x="1824" y="16" width="613" height="10"/></clipPath>
<g clip-path="url(#tb1824)">
<rect x="1824" y="16" width="613" height="5.5" fill="#ffffff" />
<rect x="2295" y="16" width="142" height="5.5" fill="#d6d6da" />
<rect x="1824" y="21.3" width="613" height="4" fill="#d6d6da" />
<rect x="1824" y="24.3" width="613" height="1" fill="#e6e6ea" />
<rect x="1825" y="16" width="16" height="5.5" fill="#000" />
<rect x="1826" y="16" width="14" height="4" fill="#d0d0d0" />
<line x1="1845" y1="20.5" x2="1923" y2="20.5" stroke="#b0b0b0" stroke-width="1" />
<line x1="1845.5" y1="16" x2="1845.5" y2="20.5" stroke="#909090" stroke-width="1" />
<rect x="1907" y="16" width="16" height="4" fill="#e4e2dc" />
<line x1="1907" y1="19.5" x2="1923" y2="19.5" stroke="#707070" stroke-width="1" />
<line x1="1922.5" y1="16" x2="1922.5" y2="20" stroke="#707070" stroke-width="1" />
<path d="M1850 17 h3 m2 0 h3 m2 -0.5 h2 m2 0.5 h3" stroke="#202020" stroke-width="1.4" fill="none"/>
<path d="M1929 16.8 h7 m4 0 h4 m2 0 h5" stroke="#101010" stroke-width="1.6" fill="none"/>
<rect x="2022" y="16" width="16" height="4" fill="#e4e2dc" />
<line x1="2022" y1="19.5" x2="2038" y2="19.5" stroke="#707070" stroke-width="1" />
<line x1="2037.5" y1="16" x2="2037.5" y2="20" stroke="#707070" stroke-width="1" />
<line x1="2042.5" y1="16" x2="2042.5" y2="20.5" stroke="#909090" stroke-width="1" />
<rect x="2111" y="16" width="17" height="4" fill="#e4e2dc" />
<line x1="2111" y1="19.5" x2="2128" y2="19.5" stroke="#707070" stroke-width="1" />
<line x1="2127.5" y1="16" x2="2127.5" y2="20" stroke="#707070" stroke-width="1" />
<rect x="2133" y="16" width="20" height="5" fill="#c6d6ee" />
<path d="M2138 17 h4 m2 0 h4" stroke="#203050" stroke-width="1.4" fill="none"/>
<line x1="2155" y1="20.5" x2="2192" y2="20.5" stroke="#b0b0b0" stroke-width="1" />
<rect x="2156" y="16" width="23" height="4" fill="#e8e8e8" />
<rect x="2179" y="16" width="13" height="3" fill="#d4d0c8" />
<line x1="2179" y1="18.5" x2="2192" y2="18.5" stroke="#707070" stroke-width="1" />
<line x1="2191.5" y1="16" x2="2191.5" y2="19" stroke="#707070" stroke-width="1" />
<rect x="2197" y="16" width="15" height="4.5" fill="#d4d0c8" />
<line x1="2197" y1="20" x2="2212" y2="20" stroke="#707070" stroke-width="1" />
<line x1="2211.5" y1="16" x2="2211.5" y2="20.5" stroke="#707070" stroke-width="1" />
<path d="M2201 17 h6" stroke="#202020" stroke-width="1.4" fill="none"/>
<rect x="2216" y="16" width="16.5" height="4.5" fill="#d4d0c8" />
<line x1="2216" y1="20" x2="2232.5" y2="20" stroke="#707070" stroke-width="1" />
<line x1="2232" y1="16" x2="2232" y2="20.5" stroke="#707070" stroke-width="1" />
<path d="M2220 17 h6" stroke="#202020" stroke-width="1.4" fill="none"/>
<rect x="2236" y="16" width="16.5" height="4.5" fill="#d4d0c8" />
<line x1="2236" y1="20" x2="2252.5" y2="20" stroke="#707070" stroke-width="1" />
<line x1="2252" y1="16" x2="2252" y2="20.5" stroke="#707070" stroke-width="1" />
<path d="M2240 17 h6" stroke="#202020" stroke-width="1.4" fill="none"/>
<rect x="2256" y="16" width="16.5" height="4.5" fill="#d4d0c8" />
<line x1="2256" y1="20" x2="2272.5" y2="20" stroke="#707070" stroke-width="1" />
<line x1="2272" y1="16" x2="2272" y2="20.5" stroke="#707070" stroke-width="1" />
<path d="M2260 17 h6" stroke="#202020" stroke-width="1.4" fill="none"/>
<rect x="2276.5" y="16" width="17" height="4.5" fill="#d4d0c8" />
<line x1="2276.5" y1="20" x2="2293.5" y2="20" stroke="#707070" stroke-width="1" />
<line x1="2293" y1="16" x2="2293" y2="20.5" stroke="#707070" stroke-width="1" />
<path d="M2280.5 17 h6" stroke="#202020" stroke-width="1.4" fill="none"/>
<rect x="2305" y="16" width="20" height="5" fill="#c6d6ee" />
<path d="M2310 17 h3 m2 0 h3" stroke="#203050" stroke-width="1.4" fill="none"/>
<rect x="2327" y="16" width="35.5" height="4.5" fill="#ffffff" />
<rect x="2350" y="16" width="12.5" height="2.5" fill="#d4d0c8" />
<line x1="2350" y1="18" x2="2362.5" y2="18" stroke="#707070" stroke-width="1" />
<line x1="2362" y1="16" x2="2362" y2="18.5" stroke="#707070" stroke-width="1" />
<rect x="2366" y="16" width="29" height="5" fill="#c6d6ee" />
<path d="M2373 17 h3 m2 0 h4 m1 0 h3" stroke="#203050" stroke-width="1.4" fill="none"/>
<rect x="2396" y="16" width="46.5" height="4.5" fill="#ffffff" />
<rect x="2430" y="16" width="12.5" height="2.5" fill="#d4d0c8" />
<line x1="2430" y1="18" x2="2442.5" y2="18" stroke="#707070" stroke-width="1" />
<line x1="2442" y1="16" x2="2442" y2="18.5" stroke="#707070" stroke-width="1" />
<rect x="2447.5" y="16" width="31.5" height="4.5" fill="#d4d0c8" />
<line x1="2447.5" y1="20" x2="2479" y2="20" stroke="#707070" stroke-width="1" />
<line x1="2478.5" y1="16" x2="2478.5" y2="20.5" stroke="#707070" stroke-width="1" />
<path d="M2453 17 h5 m2 0 h4 m2 0 h5" stroke="#202020" stroke-width="1.4" fill="none"/>
<rect x="2502.5" y="16" width="56.5" height="4.5" fill="#d4d0c8" />
<line x1="2502.5" y1="20" x2="2559" y2="20" stroke="#707070" stroke-width="1" />
<line x1="2558.5" y1="16" x2="2558.5" y2="20.5" stroke="#707070" stroke-width="1" />
<path d="M2508 17 h4 m1 0 h5 m1 0 h4 m1 0 h5 m1 0 h4 m2 0 h5 m1 0 h4" stroke="#202020" stroke-width="1.4" fill="none"/>
</g>
<clipPath id="tb2460"><rect x="2460" y="20" width="469" height="10"/></clipPath>
<g clip-path="url(#tb2460)">
<rect x="2460" y="20" width="469" height="5.5" fill="#ffffff" />
<rect x="2460" y="25.3" width="469" height="4" fill="#d6d6da" />
<rect x="2460" y="28.3" width="469" height="1" fill="#e6e6ea" />
<rect x="2461" y="20" width="16" height="5.5" fill="#000" />
<rect x="2462" y="20" width="14" height="4" fill="#d0d0d0" />
<line x1="2481" y1="24.5" x2="2559" y2="24.5" stroke="#b0b0b0" stroke-width="1" />
<line x1="2481.5" y1="20" x2="2481.5" y2="24.5" stroke="#909090" stroke-width="1" />
<rect x="2543" y="20" width="16" height="4" fill="#e4e2dc" />
<line x1="2543" y1="23.5" x2="2559" y2="23.5" stroke="#707070" stroke-width="1" />
<line x1="2558.5" y1="20" x2="2558.5" y2="24" stroke="#707070" stroke-width="1" />
<path d="M2486 21 h3 m2 0 h3 m2 -0.5 h2 m2 0.5 h3" stroke="#202020" stroke-width="1.4" fill="none"/>
<path d="M2565 20.8 h7 m4 0 h4 m2 0 h5" stroke="#101010" stroke-width="1.6" fill="none"/>
<rect x="2658" y="20" width="16" height="4" fill="#e4e2dc" />
<line x1="2658" y1="23.5" x2="2674" y2="23.5" stroke="#707070" stroke-width="1" />
<line x1="2673.5" y1="20" x2="2673.5" y2="24" stroke="#707070" stroke-width="1" />
<line x1="2678.5" y1="20" x2="2678.5" y2="24.5" stroke="#909090" stroke-width="1" />
<rect x="2747" y="20" width="17" height="4" fill="#e4e2dc" />
<line x1="2747" y1="23.5" x2="2764" y2="23.5" stroke="#707070" stroke-width="1" />
<line x1="2763.5" y1="20" x2="2763.5" y2="24" stroke="#707070" stroke-width="1" />
<rect x="2769" y="20" width="20" height="5" fill="#c6d6ee" />
<path d="M2774 21 h4 m2 0 h4" stroke="#203050" stroke-width="1.4" fill="none"/>
<line x1="2791" y1="24.5" x2="2828" y2="24.5" stroke="#b0b0b0" stroke-width="1" />
<rect x="2792" y="20" width="23" height="4" fill="#e8e8e8" />
<rect x="2815" y="20" width="13" height="3" fill="#d4d0c8" />
<line x1="2815" y1="22.5" x2="2828" y2="22.5" stroke="#707070" stroke-width="1" />
<line x1="2827.5" y1="20" x2="2827.5" y2="23" stroke="#707070" stroke-width="1" />
<rect x="2833" y="20" width="15" height="4.5" fill="#d4d0c8" />
<line x1="2833" y1="24" x2="2848" y2="24" stroke="#707070" stroke-width="1" />
<line x1="2847.5" y1="20" x2="2847.5" y2="24.5" stroke="#707070" stroke-width="1" />
<path d="M2837 21 h6" stroke="#202020" stroke-width="1.4" fill="none"/>
<rect x="2852" y="20" width="16.5" height="4.5" fill="#d4d0c8" />
<line x1="2852" y1="24" x2="2868.5" y2="24" stroke="#707070" stroke-width="1" />
<line x1="2868" y1="20" x2="2868" y2="24.5" stroke="#707070" stroke-width="1" />
<path d="M2856 21 h6" stroke="#202020" stroke-width="1.4" fill="none"/>
<rect x="2872" y="20" width="16.5" height="4.5" fill="#d4d0c8" />
<line x1="2872" y1="24" x2="2888.5" y2="24" stroke="#707070" stroke-width="1" />
<line x1="2888" y1="20" x2="2888" y2="24.5" stroke="#707070" stroke-width="1" />
<path d="M2876 21 h6" stroke="#202020" stroke-width="1.4" fill="none"/>
<rect x="2892" y="20" width="16.5" height="4.5" fill="#d4d0c8" />
<line x1="2892" y1="24" x2="2908.5" y2="24" stroke="#707070" stroke-width="1" />
<line x1="2908" y1="20" x2="2908" y2="24.5" stroke="#707070" stroke-width="1" />
<path d="M2896 21 h6" stroke="#202020" stroke-width="1.4" fill="none"/>
<rect x="2912.5" y="20" width="17" height="4.5" fill="#d4d0c8" />
<line x1="2912.5" y1="24" x2="2929.5" y2="24" stroke="#707070" stroke-width="1" />
<line x1="2929" y1="20" x2="2929" y2="24.5" stroke="#707070" stroke-width="1" />
<path d="M2916.5 21 h6" stroke="#202020" stroke-width="1.4" fill="none"/>
</g>
<rect x="2452" y="25" width="7.5" height="505" fill="#c8c8d4" />
<path d="M2451.5 24.5 h5 v-4" fill="none" stroke="#000" stroke-width="1.5"/>
<rect x="2452.5" y="530.5" width="6.5" height="20.5" fill="#fff" stroke="#404040" stroke-width="1"/>
<rect x="2452" y="530" width="1" height="21" fill="#fff" />
<line x1="2459.5" y1="553" x2="2459.5" y2="557" stroke="#404040" stroke-width="1" />
<clipPath id="di1797_20"><rect x="1797" y="20" width="8" height="13"/></clipPath>
<g clip-path="url(#di1797_20)">
<rect x="1797.5" y="20.5" width="12" height="11.5" fill="#ffffff" stroke="#b8b8b8" stroke-width="1"/>
<line x1="1797" y1="32" x2="1809" y2="32" stroke="#909090" stroke-width="1" />
<path d="M1799.5 24 h7 v6.5 z" fill="#808080" stroke="#000" stroke-width="1" shape-rendering="auto"/>
</g>
<clipPath id="di1797_236"><rect x="1797" y="236" width="8" height="13"/></clipPath>
<g clip-path="url(#di1797_236)">
<rect x="1797.5" y="236.5" width="12" height="11.5" fill="#ffffff" stroke="#b8b8b8" stroke-width="1"/>
<line x1="1797" y1="248" x2="1809" y2="248" stroke="#909090" stroke-width="1" />
<path d="M1799.5 240 h7 v6.5 z" fill="#808080" stroke="#000" stroke-width="1" shape-rendering="auto"/>
</g>
<clipPath id="di1797_329"><rect x="1797" y="329" width="8" height="13"/></clipPath>
<g clip-path="url(#di1797_329)">
<rect x="1797.5" y="329.5" width="12" height="11.5" fill="#ffffff" stroke="#b8b8b8" stroke-width="1"/>
<line x1="1797" y1="341" x2="1809" y2="341" stroke="#909090" stroke-width="1" />
<path d="M1799.5 333 h7 v6.5 z" fill="#808080" stroke="#000" stroke-width="1" shape-rendering="auto"/>
</g>
<clipPath id="di1797_422"><rect x="1797" y="422" width="8" height="13"/></clipPath>
<g clip-path="url(#di1797_422)">
<rect x="1797.5" y="422.5" width="12" height="11.5" fill="#ffffff" stroke="#b8b8b8" stroke-width="1"/>
<line x1="1797" y1="434" x2="1809" y2="434" stroke="#909090" stroke-width="1" />
<path d="M1799.5 426 h7 v6.5 z" fill="#808080" stroke="#000" stroke-width="1" shape-rendering="auto"/>
</g>
<clipPath id="di2433_27"><rect x="2433" y="27" width="4" height="13"/></clipPath>
<g clip-path="url(#di2433_27)">
<rect x="2433.5" y="27.5" width="12" height="11.5" fill="#ffffff" stroke="#b8b8b8" stroke-width="1"/>
<line x1="2433" y1="39" x2="2445" y2="39" stroke="#909090" stroke-width="1" />
<path d="M2435.5 31 h7 v6.5 z" fill="#808080" stroke="#000" stroke-width="1" shape-rendering="auto"/>
</g>
<clipPath id="di2433_245"><rect x="2433" y="245" width="4" height="13"/></clipPath>
<g clip-path="url(#di2433_245)">
<rect x="2433.5" y="245.5" width="12" height="11.5" fill="#ffffff" stroke="#b8b8b8" stroke-width="1"/>
<line x1="2433" y1="257" x2="2445" y2="257" stroke="#909090" stroke-width="1" />
<path d="M2435.5 249 h7 v6.5 z" fill="#808080" stroke="#000" stroke-width="1" shape-rendering="auto"/>
</g>
<clipPath id="di2433_337"><rect x="2433" y="337" width="4" height="13"/></clipPath>
<g clip-path="url(#di2433_337)">
<rect x="2433.5" y="337.5" width="12" height="11.5" fill="#ffffff" stroke="#b8b8b8" stroke-width="1"/>
<line x1="2433" y1="349" x2="2445" y2="349" stroke="#909090" stroke-width="1" />
<path d="M2435.5 341 h7 v6.5 z" fill="#808080" stroke="#000" stroke-width="1" shape-rendering="auto"/>
</g>
<clipPath id="di2433_430"><rect x="2433" y="430" width="4" height="13"/></clipPath>
<g clip-path="url(#di2433_430)">
<rect x="2433.5" y="430.5" width="12" height="11.5" fill="#ffffff" stroke="#b8b8b8" stroke-width="1"/>
<line x1="2433" y1="442" x2="2445" y2="442" stroke="#909090" stroke-width="1" />
<path d="M2435.5 434 h7 v6.5 z" fill="#808080" stroke="#000" stroke-width="1" shape-rendering="auto"/>
</g>
<clipPath id="di2921_32"><rect x="2921" y="32" width="8" height="13"/></clipPath>
<g clip-path="url(#di2921_32)">
<rect x="2921.5" y="32.5" width="12" height="11.5" fill="#ffffff" stroke="#b8b8b8" stroke-width="1"/>
<line x1="2921" y1="44" x2="2933" y2="44" stroke="#909090" stroke-width="1" />
<path d="M2923.5 36 h7 v6.5 z" fill="#808080" stroke="#000" stroke-width="1" shape-rendering="auto"/>
</g>
<clipPath id="di2921_249"><rect x="2921" y="249" width="8" height="13"/></clipPath>
<g clip-path="url(#di2921_249)">
<rect x="2921.5" y="249.5" width="12" height="11.5" fill="#ffffff" stroke="#b8b8b8" stroke-width="1"/>
<line x1="2921" y1="261" x2="2933" y2="261" stroke="#909090" stroke-width="1" />
<path d="M2923.5 253 h7 v6.5 z" fill="#808080" stroke="#000" stroke-width="1" shape-rendering="auto"/>
</g>
<clipPath id="di2921_342"><rect x="2921" y="342" width="8" height="13"/></clipPath>
<g clip-path="url(#di2921_342)">
<rect x="2921.5" y="342.5" width="12" height="11.5" fill="#ffffff" stroke="#b8b8b8" stroke-width="1"/>
<line x1="2921" y1="354" x2="2933" y2="354" stroke="#909090" stroke-width="1" />
<path d="M2923.5 346 h7 v6.5 z" fill="#808080" stroke="#000" stroke-width="1" shape-rendering="auto"/>
</g>
<clipPath id="di2921_434"><rect x="2921" y="434" width="8" height="13"/></clipPath>
<g clip-path="url(#di2921_434)">
<rect x="2921.5" y="434.5" width="12" height="11.5" fill="#ffffff" stroke="#b8b8b8" stroke-width="1"/>
<line x1="2921" y1="446" x2="2933" y2="446" stroke="#909090" stroke-width="1" />
<path d="M2923.5 438 h7 v6.5 z" fill="#808080" stroke="#000" stroke-width="1" shape-rendering="auto"/>
</g>
<line x1="1053.5" y1="535" x2="1053.5" y2="557" stroke="#606060" stroke-width="1" />
<pattern id="chk" width="2" height="2" patternUnits="userSpaceOnUse"><rect width="2" height="2" fill="#fff"/><rect width="1" height="1" fill="#dcdcdc"/><rect x="1" y="1" width="1" height="1" fill="#dcdcdc"/></pattern>
<rect x="1071" y="543" width="271" height="14" fill="url(#chk)" />
<rect x="1054" y="543" width="17" height="14" fill="#f0f0f0" />
<line x1="1070.5" y1="543" x2="1070.5" y2="557" stroke="#808080" stroke-width="1" />
<path d="M1059 551 l5 -4 v8 z" fill="#000"/>
<rect x="1342" y="544" width="128.5" height="14" fill="#f0f0f0" />
<line x1="1342" y1="543.5" x2="1470" y2="543.5" stroke="#d0d0d0" stroke-width="1" />
<line x1="1342.5" y1="543" x2="1342.5" y2="557" stroke="#d0d0d0" stroke-width="1" />
<line x1="1470.5" y1="543" x2="1470.5" y2="557" stroke="#707070" stroke-width="1.5" />
<rect x="1472" y="543" width="16" height="14" fill="#f0f0f0" />
<line x1="1488" y1="543" x2="1488" y2="557" stroke="#808080" stroke-width="1.5" />
<path d="M1483 551 l-4 -4 v8 z" fill="#000"/>
<rect x="1489" y="543" width="119" height="14" fill="#f0f0f0" />
<line x1="1494" y1="547.5" x2="1603" y2="547.5" stroke="#a0a0a0" stroke-width="1" />
<line x1="1494" y1="548.5" x2="1603" y2="548.5" stroke="#ffffff" stroke-width="1" />
<path d="M1497.5 546 h5 v7 l-2.5 2 l-2.5 -2 z" fill="#f4f4f4" stroke="#a0a0a0" stroke-width="1"/>
<clipPath id="bb2"><rect x="1600" y="543" width="205" height="14"/></clipPath><g clip-path="url(#bb2)">
<rect x="1609.5" y="543.5" width="16" height="15" fill="#e6e6e6" stroke="#9a9a9a" stroke-width="1"/>
<path d="M1611.5 551.5 l6 -4.5 v9 z" fill="#002080"/>
<rect x="1619.5" y="546.5" width="2" height="10" fill="#002080" />
<rect x="1626.5" y="543.5" width="16" height="15" fill="#e6e6e6" stroke="#9a9a9a" stroke-width="1"/>
<rect x="1629.5" y="550.5" width="10" height="2" fill="#000" />
<rect x="1633.5" y="546.5" width="2" height="10" fill="#000" />
<rect x="1643.5" y="543.5" width="16" height="15" fill="#e6e6e6" stroke="#9a9a9a" stroke-width="1"/>
<rect x="1646.5" y="551" width="10" height="2" fill="#000" />
<rect x="1660.5" y="543.5" width="16" height="15" fill="#e6e6e6" stroke="#9a9a9a" stroke-width="1"/>
<rect x="1667.5" y="546" width="2" height="11" fill="#002080" />
<rect x="1666" y="550.5" width="5" height="2" fill="#002080" />
<path d="M1662 551.5 l4 -3.5 v7 z M1675 551.5 l-4 -3.5 v7 z" fill="#002080"/>
<rect x="1677.5" y="543.5" width="16" height="15" fill="#e6e6e6" stroke="#9a9a9a" stroke-width="1"/>
<rect x="1683" y="549.5" width="5" height="5" fill="#002080" />
<rect x="1694.5" y="543.5" width="16" height="15" fill="#e6e6e6" stroke="#9a9a9a" stroke-width="1"/>
<path d="M1706.5 551.5 l-6 -5 v10 z" fill="#002080"/>
<rect x="1711.5" y="543.5" width="16" height="15" fill="#e6e6e6" stroke="#9a9a9a" stroke-width="1"/>
<text x="1719.5" y="556.5" style="font-family:'Liberation Sans',sans-serif;font-size:14px" fill="#202020" text-anchor="middle">D</text>
<rect x="1728.5" y="543.5" width="16" height="15" fill="#e6e6e6" stroke="#9a9a9a" stroke-width="1"/>
<text x="1736.5" y="556.5" style="font-family:'Liberation Sans',sans-serif;font-size:14px" fill="#202020" text-anchor="middle">L</text>
<rect x="1745.5" y="543.5" width="16" height="15" fill="#e6e6e6" stroke="#9a9a9a" stroke-width="1"/>
<text x="1753.5" y="556.5" style="font-family:'Liberation Sans',sans-serif;font-size:14px" fill="#202020" text-anchor="middle">R</text>
<rect x="1762.5" y="543.5" width="16" height="15" fill="#e6e6e6" stroke="#9a9a9a" stroke-width="1"/>
<circle cx="1769.5" cy="550.5" r="4" fill="none" stroke="#202020" stroke-width="1.4" shape-rendering="auto"/>
<path d="M1772.5 553.5 l4 4 M1767.5 550.5 h4 M1769.5 548.5 v4" stroke="#202020" stroke-width="1.4" fill="none" shape-rendering="auto"/>
<rect x="1779.5" y="543.5" width="16" height="15" fill="#e6e6e6" stroke="#9a9a9a" stroke-width="1"/>
<path d="M1783.5 547.5 l8 8 M1791.5 547.5 l-8 8" stroke="#101010" stroke-width="2" fill="none" shape-rendering="auto"/>
<rect x="1796.5" y="543.5" width="16" height="15" fill="#e6e6e6" stroke="#9a9a9a" stroke-width="1"/>
<rect x="1798.5" y="546.5" width="2" height="10" fill="#002080" />
<path d="M1801.5 551.5 l5 -4 v8 z" fill="#002080"/>
</g>
<rect x="1824" y="551" width="613" height="6" fill="#f0f0f0" />
<rect x="1841" y="551" width="135" height="6" fill="url(#chk)" />
<rect x="1824" y="551" width="16" height="6" fill="#f0f0f0" />
<line x1="1840.5" y1="551" x2="1840.5" y2="557" stroke="#808080" stroke-width="1" />
<rect x="1976" y="552" width="130" height="5" fill="#f0f0f0" />
<line x1="1976" y1="551.5" x2="2106" y2="551.5" stroke="#d0d0d0" stroke-width="1" />
<line x1="2106.5" y1="551" x2="2106.5" y2="557" stroke="#707070" stroke-width="1.5" />
<line x1="2124" y1="551" x2="2124" y2="557" stroke="#808080" stroke-width="1.5" />
<path d="M1832 557 v-2 h-1.5" stroke="#000" fill="none"/>
<path d="M2116 557 v-2" stroke="#000" fill="none" stroke-width="1.5"/>
<line x1="2133" y1="555.5" x2="2240" y2="555.5" stroke="#a0a0a0" stroke-width="1" />
<line x1="2133" y1="556.5" x2="2240" y2="556.5" stroke="#fff" stroke-width="1" />
<path d="M2136.5 557 v-3 h5 v3" fill="#f4f4f4" stroke="#a0a0a0" stroke-width="1"/>
<clipPath id="bb3"><rect x="2240" y="551" width="197" height="6"/></clipPath><g clip-path="url(#bb3)">
<rect x="2245.5" y="551.5" width="16.3" height="15" fill="#e6e6e6" stroke="#9a9a9a" stroke-width="1"/>
<rect x="2254.5" y="554.5" width="2" height="3" fill="#002080" />
<rect x="2250.5" y="555.5" width="3" height="2" fill="#002080" />
<rect x="2262.8" y="551.5" width="16.3" height="15" fill="#e6e6e6" stroke="#9a9a9a" stroke-width="1"/>
<rect x="2269.8" y="554.5" width="2" height="3" fill="#101010" />
<rect x="2280.1" y="551.5" width="16.3" height="15" fill="#e6e6e6" stroke="#9a9a9a" stroke-width="1"/>
<rect x="2297.4" y="551.5" width="16.3" height="15" fill="#e6e6e6" stroke="#9a9a9a" stroke-width="1"/>
<rect x="2304.4" y="554" width="2" height="3" fill="#002080" />
<rect x="2314.7" y="551.5" width="16.3" height="15" fill="#e6e6e6" stroke="#9a9a9a" stroke-width="1"/>
<rect x="2332" y="551.5" width="16.3" height="15" fill="#e6e6e6" stroke="#9a9a9a" stroke-width="1"/>
<rect x="2338" y="555" width="3" height="2" fill="#002080" />
<rect x="2349.3" y="551.5" width="16.3" height="15" fill="#e6e6e6" stroke="#9a9a9a" stroke-width="1"/>
<rect x="2353.3" y="554.5" width="6" height="2.5" fill="#101010" />
<rect x="2366.6" y="551.5" width="16.3" height="15" fill="#e6e6e6" stroke="#9a9a9a" stroke-width="1"/>
<rect x="2371.6" y="554.5" width="2" height="2.5" fill="#101010" />
<rect x="2383.9" y="551.5" width="16.3" height="15" fill="#e6e6e6" stroke="#9a9a9a" stroke-width="1"/>
<rect x="2387.9" y="554.5" width="6" height="2.5" fill="#101010" />
<rect x="2401.2" y="551.5" width="16.3" height="15" fill="#e6e6e6" stroke="#9a9a9a" stroke-width="1"/>
<rect x="2406.2" y="555" width="5" height="2" fill="#101010" />
<rect x="2418.5" y="551.5" width="16.3" height="15" fill="#e6e6e6" stroke="#9a9a9a" stroke-width="1"/>
<rect x="2422.5" y="555.5" width="2" height="1.5" fill="#101010" />
<rect x="2428.5" y="555.5" width="2" height="1.5" fill="#101010" />
<rect x="2435.8" y="551.5" width="16.3" height="15" fill="#e6e6e6" stroke="#9a9a9a" stroke-width="1"/>
<rect x="2437.8" y="555" width="2" height="2" fill="#002080" />
</g>
<rect x="1820" y="557" width="630" height="5" fill="#fff" />
<rect x="2461" y="555.3" width="250" height="1.7" fill="#ececec" />
<rect x="2711" y="555" width="218" height="2" fill="#e0e0e0" />
<line x1="2716" y1="555" x2="2716" y2="557" stroke="#a0a0a0" stroke-width="1" />
<line x1="2733" y1="555" x2="2733" y2="557" stroke="#a0a0a0" stroke-width="1" />
<line x1="2750" y1="555" x2="2750" y2="557" stroke="#a0a0a0" stroke-width="1" />
<line x1="2767" y1="555" x2="2767" y2="557" stroke="#a0a0a0" stroke-width="1" />
<line x1="2784" y1="555" x2="2784" y2="557" stroke="#a0a0a0" stroke-width="1" />
<line x1="2801" y1="555" x2="2801" y2="557" stroke="#a0a0a0" stroke-width="1" />
<line x1="2818" y1="555" x2="2818" y2="557" stroke="#a0a0a0" stroke-width="1" />
<line x1="2835" y1="555" x2="2835" y2="557" stroke="#a0a0a0" stroke-width="1" />
<line x1="2852" y1="555" x2="2852" y2="557" stroke="#a0a0a0" stroke-width="1" />
<line x1="2869" y1="555" x2="2869" y2="557" stroke="#a0a0a0" stroke-width="1" />
<line x1="2886" y1="555" x2="2886" y2="557" stroke="#a0a0a0" stroke-width="1" />
<line x1="2903" y1="555" x2="2903" y2="557" stroke="#a0a0a0" stroke-width="1" />
<line x1="2920" y1="555" x2="2920" y2="557" stroke="#a0a0a0" stroke-width="1" />
<rect x="1040" y="557" width="2000" height="4" fill="#fff" />
</svg>
</body></html>
